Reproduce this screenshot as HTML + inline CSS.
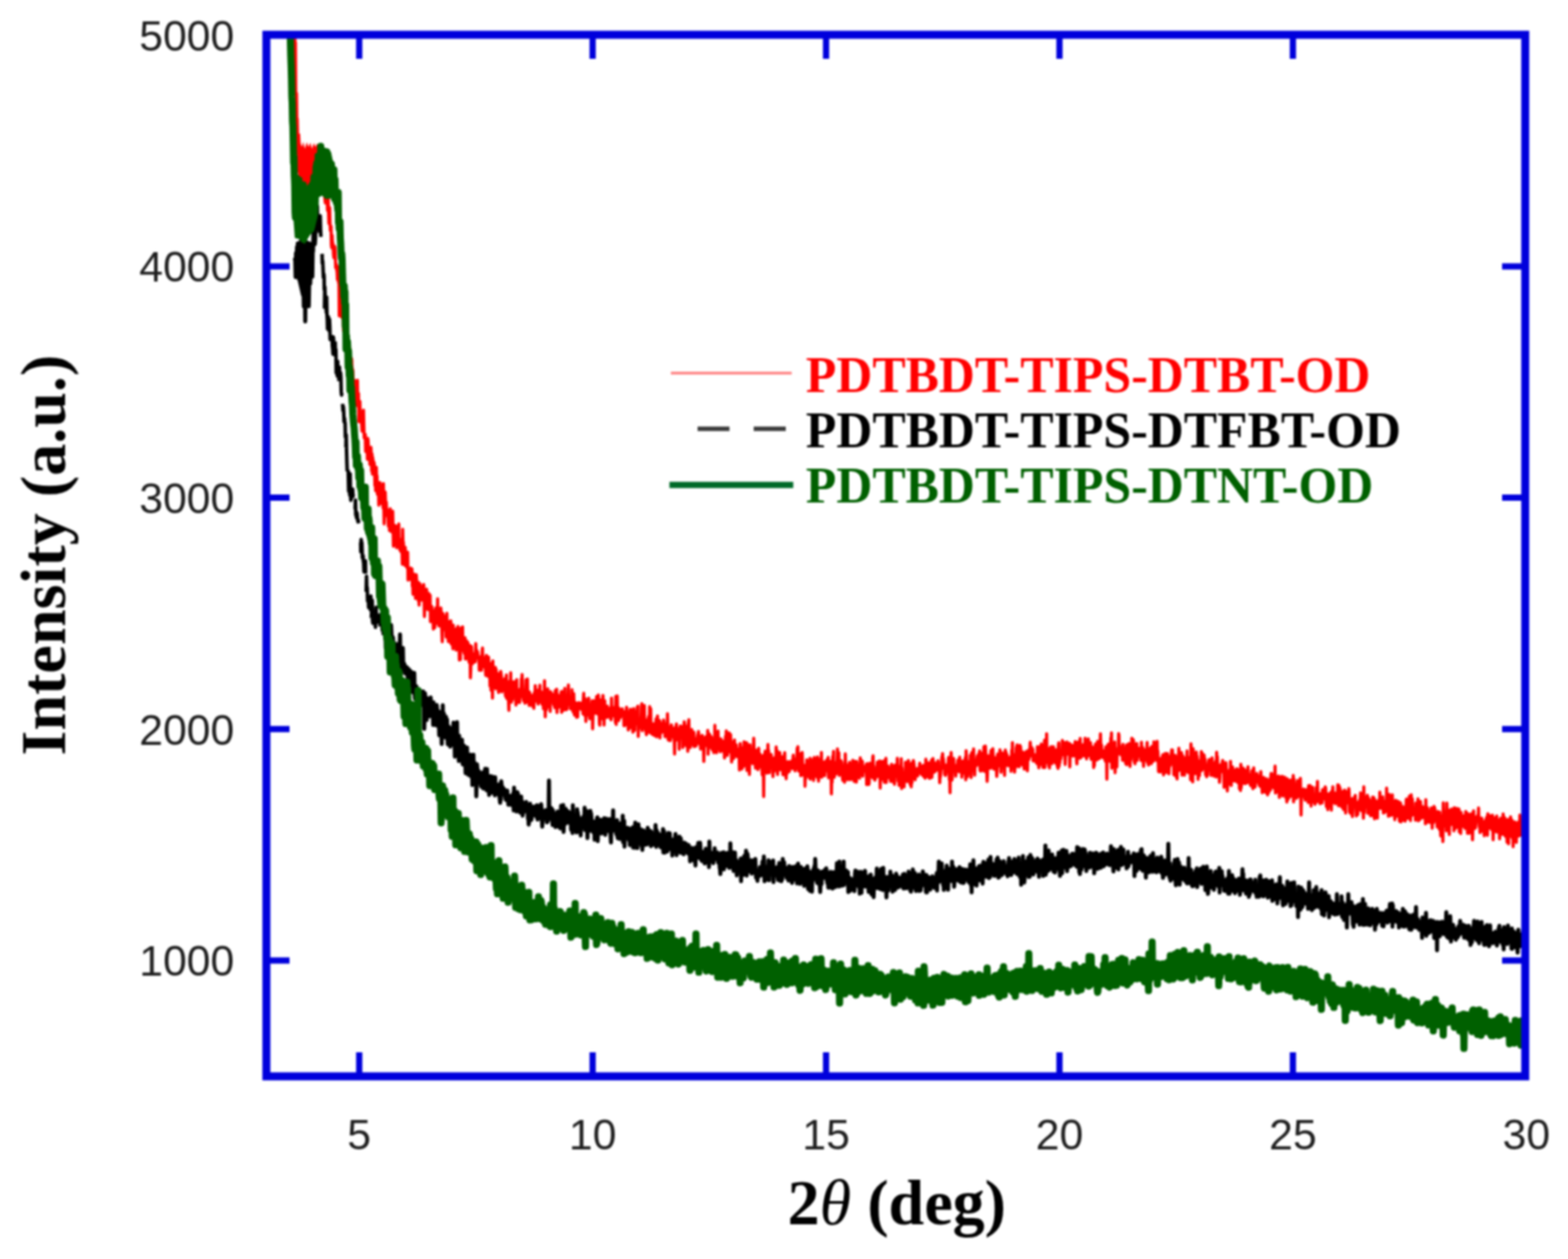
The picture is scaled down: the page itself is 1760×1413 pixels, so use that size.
<!DOCTYPE html>
<html><head><meta charset="utf-8"><title>XRD pattern</title>
<style>
html,body{margin:0;padding:0;background:#fff;width:1760px;height:1413px;overflow:hidden}
svg{display:block;filter:blur(0.8px)}
.tl{font-family:"Liberation Sans",Arial,sans-serif;font-size:48px;fill:#1e1e1e}
.ax{font-family:"Liberation Serif","Times New Roman",serif;font-size:72px;font-weight:bold;fill:#000}
.lg{font-family:"Liberation Serif","Times New Roman",serif;font-size:56px;font-weight:bold}
</style></head><body>
<svg width="1760" height="1413" viewBox="0 0 1760 1413">
<defs><clipPath id="c"><rect x="299" y="39" width="1413" height="1169"/></clipPath></defs>
<g clip-path="url(#c)"><g fill="none" stroke-linejoin="round" stroke-linecap="round">
<polygon points="332.4,150.0 336.9,150.0 337.4,159.9 338.8,165.9 340.3,158.9 342.3,166.9 344.3,159.4 346.3,164.9 348.3,159.9 350.2,166.9 352.2,160.4 354.2,164.9 355.7,160.9 358.7,165.9 354.7,179.7 352.7,205.5 345.8,219.4 339.8,219.4 334.9,197.6 332.9,169.8" fill="#ff0000" stroke="none"/>
<polyline points="328.0,-104.3 328.4,-75.3 328.8,-67.3 329.2,-42.5 329.6,-22.9 330.0,-9.0 330.4,3.8 330.8,36.6 331.2,51.8 331.6,47.5 332.0,107.0 332.4,109.6 332.8,104.7 333.2,137.1 333.6,133.2 334.0,149.9 334.4,170.1 334.8,152.7 335.2,178.5 335.6,191.5 336.0,193.3 336.4,176.3 336.8,193.0 337.2,164.7 337.6,184.0 338.0,192.8 338.4,172.6 338.8,188.8 339.2,211.4 339.6,222.9 340.0,201.3 340.4,202.4 340.8,181.4 341.2,178.8 341.6,176.8 342.0,200.6 342.4,203.5 342.8,186.8 343.2,180.3 343.6,198.4 344.0,199.2 344.4,194.1 344.8,211.1 345.2,194.8 345.6,195.2 346.0,182.7 346.4,197.6 346.8,211.9 347.2,196.1 347.6,195.8 348.0,199.6 348.4,197.2 348.8,199.7 349.2,199.1 349.6,199.5 350.0,182.0 350.4,194.7 350.8,171.4 351.2,193.5 351.6,174.9 352.0,189.1 352.4,195.7 352.8,185.0 353.2,191.2 353.6,170.3 354.0,179.7 354.4,198.3 354.8,176.1 355.2,197.8 355.6,173.3 356.0,179.1 356.4,177.2 356.8,190.1 357.2,195.9 357.6,179.0 358.0,189.1 358.4,208.0 358.8,189.8 359.2,186.5 359.6,199.0 360.0,195.1 360.4,192.8 360.8,185.9 361.2,208.1 361.6,199.3 362.0,205.0 362.4,199.1 362.8,217.5 363.2,215.4 363.6,218.9 364.0,213.1 364.4,219.3 364.8,224.5 365.2,227.7 365.6,224.6 366.0,224.0 366.4,224.0 366.8,223.3 367.2,223.8 367.6,236.1 368.0,233.7 368.4,222.6 368.8,239.1 369.2,251.0 369.6,243.0 370.0,233.0 370.4,249.1 370.8,258.8 371.2,256.6 371.6,254.1 372.0,275.0 372.4,277.9 372.8,264.1 373.2,273.9 373.6,272.9 374.0,278.5 374.4,286.6 374.8,289.3 375.2,280.2 375.6,276.5 376.0,277.8 376.4,287.3 376.8,300.5 377.2,296.2 377.6,297.5 378.0,303.1 378.4,305.1 378.8,313.8 379.2,303.2 379.6,299.6 380.0,317.4 380.4,314.7 380.8,354.5 381.2,330.1 381.6,332.2 382.0,323.6 382.4,342.7 382.8,337.3 383.2,355.6 383.6,355.7 384.0,343.7 384.4,356.9 384.8,331.1 385.2,351.9 385.6,371.5 386.0,369.7 386.4,366.5 386.8,366.9 387.2,356.7 387.6,359.4 388.0,375.9 388.4,391.9 388.8,358.8 389.2,386.2 389.6,388.2 390.0,393.5 390.4,379.4 390.8,384.7 391.2,392.0 391.6,384.5 392.0,384.9 392.4,390.1 392.8,399.5 393.2,405.5 393.6,404.0 394.0,407.0 394.4,402.2 394.8,404.0 395.2,422.6 395.6,414.1 396.0,415.9 396.4,427.2 396.8,432.1 397.2,434.5 397.6,428.9 398.0,427.0 398.4,432.3 398.8,433.5 399.2,446.6 399.6,438.9 400.0,444.3 400.4,440.5 400.8,455.3 401.2,426.8 401.6,450.8 402.0,456.4 402.4,441.4 402.8,473.3 403.2,454.7 403.6,456.8 404.0,450.6 404.4,470.4 404.8,466.6 405.2,461.4 405.6,470.9 406.0,477.1 406.4,483.9 406.8,477.0 407.2,468.4 407.6,474.0 408.0,460.3 408.4,476.4 408.8,491.5 409.2,491.0 409.6,487.7 410.0,487.5 410.4,506.7 410.8,496.9 411.2,504.4 411.6,501.6 412.0,493.8 412.4,515.5 412.8,492.1 413.2,494.1 413.6,502.6 414.0,501.4 414.4,504.5 414.8,505.6 415.2,521.2 415.6,514.2 416.0,518.3 416.4,502.1 416.8,510.1 417.2,528.7 417.6,509.4 418.0,532.1 418.4,513.4 418.8,526.6 419.2,517.5 419.6,528.1 420.0,519.4 420.4,526.4 420.8,545.0 421.2,527.8 421.6,550.8 422.0,529.6 422.4,524.4 422.8,537.0 423.2,534.0 423.6,554.8 424.0,548.2 424.4,552.5 424.8,548.9 425.2,566.9 425.6,553.3 426.0,552.4 426.4,541.6 426.8,542.3 427.2,553.6 427.6,562.4 428.0,564.9 428.4,547.8 428.8,562.5 429.2,562.2 429.6,550.4 430.0,570.1 430.4,542.7 430.8,566.7 431.2,587.9 431.6,557.7 432.0,568.2 432.4,552.2 432.8,563.7 433.2,578.4 433.6,563.4 434.0,573.6 434.4,571.9 434.8,572.8 435.2,579.0 435.6,582.8 436.0,590.6 436.4,588.1 436.8,576.6 437.2,595.5 437.6,595.1 438.0,570.9 438.4,592.0 438.8,594.5 439.2,596.8 439.6,594.1 440.0,578.6 440.4,589.0 440.8,573.8 441.2,592.1 441.6,612.9 442.0,601.8 442.4,604.3 442.8,593.3 443.2,589.8 443.6,590.4 444.0,602.2 444.4,595.0 444.8,597.5 445.2,614.7 445.6,590.7 446.0,594.7 446.4,603.0 446.8,607.7 447.2,608.5 447.6,588.1 448.0,613.5 448.4,610.7 448.8,617.1 449.2,605.2 449.6,618.1 450.0,619.0 450.4,612.0 450.8,617.0 451.2,615.0 451.6,633.2 452.0,593.9 452.4,610.0 452.8,608.6 453.2,621.6 453.6,619.9 454.0,623.3 454.4,634.4 454.8,614.2 455.2,622.3 455.6,628.9 456.0,621.1 456.4,636.2 456.8,636.8 457.2,628.4 457.6,619.8 458.0,651.1 458.4,641.9 458.8,642.4 459.2,640.2 459.6,640.4 460.0,648.9 460.4,642.2 460.8,637.5 461.2,650.5 461.6,645.5 462.0,638.9 462.4,638.5 462.8,658.0 463.2,654.1 463.6,667.0 464.0,645.3 464.4,644.1 464.8,655.2 465.2,664.8 465.6,658.5 466.0,657.8 466.4,671.7 466.8,648.7 467.2,645.0 467.6,650.2 468.0,654.8 468.4,661.8 468.8,668.3 469.2,663.5 469.6,674.3 470.0,653.8 470.4,679.1 470.8,655.4 471.2,673.9 471.6,655.6 472.0,667.9 472.4,665.9 472.8,670.8 473.2,673.5 473.6,665.5 474.0,667.5 474.4,670.9 474.8,657.7 475.2,663.5 475.6,656.1 476.0,671.4 476.4,692.0 476.8,679.3 477.2,665.4 477.6,667.5 478.0,683.3 478.4,670.8 478.8,661.2 479.2,667.1 479.6,667.4 480.0,668.3 480.4,684.2 480.8,679.3 481.2,665.9 481.6,675.0 482.0,670.2 482.4,670.1 482.8,668.0 483.2,697.8 483.6,679.9 484.0,688.4 484.4,691.6 484.8,680.8 485.2,689.6 485.6,690.2 486.0,687.9 486.4,705.9 486.8,689.5 487.2,685.4 487.6,693.8 488.0,704.5 488.4,697.9 488.8,685.2 489.2,682.3 489.6,682.1 490.0,685.0 490.4,695.0 490.8,699.6 491.2,672.1 491.6,692.8 492.0,683.5 492.4,700.1 492.8,702.6 493.2,687.9 493.6,691.3 494.0,687.3 494.4,699.8 494.8,682.3 495.2,687.1 495.6,691.6 496.0,709.2 496.4,720.3 496.8,699.3 497.2,688.5 497.6,700.7 498.0,692.7 498.4,705.1 498.8,691.4 499.2,698.5 499.6,702.2 500.0,707.4 500.4,702.5 500.8,715.0 501.2,705.2 501.6,688.2 502.0,713.3 502.4,702.8 502.8,699.8 503.2,719.9 503.6,697.8 504.0,707.8 504.4,701.2 504.8,720.2 505.2,705.2 505.6,711.0 506.0,696.8 506.4,722.7 506.8,700.6 507.2,718.8 507.6,721.1 508.0,722.6 508.4,728.2 508.8,701.8 509.2,716.4 509.6,714.4 510.0,717.4 510.4,723.9 510.8,715.4 511.2,707.5 511.6,714.4 512.0,729.6 512.4,705.5 512.8,717.3 513.2,708.1 513.6,727.4 514.0,703.0 514.4,715.2 514.8,717.5 515.2,720.1 515.6,740.7 516.0,733.9 516.4,711.1 516.8,740.2 517.2,710.4 517.6,704.7 518.0,708.5 518.4,724.3 518.8,727.7 519.2,703.4 519.6,727.6 520.0,721.7 520.4,730.9 520.8,721.5 521.2,733.4 521.6,730.8 522.0,715.7 522.4,739.6 522.8,728.9 523.2,734.0 523.6,739.2 524.0,719.6 524.4,728.0 524.8,721.8 525.2,721.2 525.6,732.3 526.0,733.4 526.4,742.6 526.8,743.5 527.2,731.5 527.6,724.6 528.0,760.8 528.4,751.9 528.8,732.4 529.2,725.5 529.6,730.4 530.0,737.0 530.4,744.9 530.8,743.9 531.2,739.6 531.6,734.0 532.0,738.1 532.4,734.3 532.8,738.0 533.2,736.9 533.6,742.8 534.0,722.2 534.4,736.0 534.8,736.9 535.2,730.0 535.6,738.7 536.0,731.5 536.4,735.2 536.8,738.9 537.2,739.6 537.6,737.2 538.0,752.2 538.4,744.7 538.8,746.2 539.2,745.8 539.6,738.4 540.0,736.9 540.4,752.2 540.8,742.3 541.2,730.5 541.6,727.2 542.0,748.4 542.4,740.5 542.8,746.7 543.2,742.9 543.6,744.5 544.0,746.9 544.4,738.1 544.8,748.9 545.2,757.9 545.6,755.8 546.0,735.4 546.4,739.2 546.8,739.6 547.2,749.2 547.6,758.9 548.0,754.7 548.4,737.5 548.8,753.2 549.2,759.9 549.6,746.6 550.0,769.9 550.4,748.7 550.8,764.4 551.2,774.7 551.6,744.6 552.0,753.0 552.4,760.9 552.8,783.4 553.2,741.8 553.6,762.0 554.0,761.9 554.4,754.5 554.8,751.4 555.2,754.4 555.6,756.6 556.0,749.0 556.4,773.0 556.8,751.1 557.2,757.1 557.6,755.6 558.0,758.0 558.4,762.6 558.8,756.0 559.2,760.7 559.6,777.2 560.0,772.1 560.4,761.4 560.8,771.6 561.2,758.2 561.6,766.8 562.0,753.5 562.4,756.3 562.8,758.9 563.2,776.5 563.6,768.6 564.0,771.6 564.4,768.7 564.8,770.8 565.2,771.6 565.6,774.7 566.0,770.2 566.4,761.8 566.8,763.1 567.2,779.7 567.6,781.6 568.0,775.1 568.4,757.5 568.8,783.9 569.2,774.1 569.6,771.2 570.0,772.2 570.4,769.4 570.8,786.8 571.2,797.3 571.6,764.7 572.0,772.0 572.4,776.2 572.8,784.3 573.2,754.9 573.6,782.0 574.0,788.1 574.4,772.4 574.8,774.9 575.2,785.4 575.6,778.6 576.0,765.2 576.4,766.7 576.8,768.0 577.2,765.2 577.6,776.5 578.0,772.6 578.4,777.2 578.8,782.7 579.2,791.3 579.6,779.1 580.0,762.8 580.4,788.6 580.8,776.8 581.2,787.0 581.6,774.4 582.0,780.5 582.4,777.1 582.8,778.1 583.2,788.4 583.6,773.4 584.0,779.9 584.4,780.4 584.8,775.8 585.2,761.8 585.6,781.7 586.0,757.0 586.4,767.5 586.8,775.7 587.2,782.7 587.6,786.2 588.0,786.0 588.4,784.3 588.8,776.9 589.2,789.2 589.6,777.9 590.0,788.6 590.4,762.9 590.8,772.8 591.2,775.8 591.6,780.3 592.0,762.1 592.4,786.7 592.8,788.1 593.2,786.6 593.6,776.7 594.0,791.8 594.4,776.7 594.8,787.8 595.2,780.5 595.6,780.9 596.0,779.9 596.4,781.0 596.8,789.7 597.2,792.2 597.6,792.2 598.0,788.3 598.4,786.5 598.8,785.0 599.2,794.9 599.6,778.4 600.0,777.0 600.4,782.2 600.8,769.4 601.2,780.2 601.6,781.6 602.0,774.4 602.4,777.8 602.8,787.4 603.2,780.5 603.6,782.9 604.0,790.2 604.4,777.8 604.8,773.9 605.2,782.3 605.6,785.8 606.0,769.1 606.4,787.7 606.8,780.5 607.2,779.8 607.6,776.5 608.0,781.7 608.4,790.4 608.8,787.2 609.2,789.3 609.6,780.6 610.0,795.4 610.4,793.0 610.8,783.4 611.2,763.9 611.6,784.1 612.0,804.4 612.4,783.4 612.8,776.2 613.2,796.7 613.6,779.3 614.0,787.7 614.4,789.8 614.8,773.1 615.2,785.1 615.6,793.2 616.0,781.8 616.4,789.3 616.8,784.2 617.2,792.2 617.6,798.4 618.0,776.3 618.4,782.5 618.8,787.7 619.2,780.0 619.6,778.6 620.0,782.3 620.4,782.9 620.8,780.0 621.2,787.5 621.6,791.1 622.0,790.7 622.4,790.3 622.8,794.2 623.2,775.1 623.6,784.5 624.0,786.8 624.4,789.4 624.8,773.4 625.2,799.7 625.6,779.0 626.0,787.7 626.4,791.3 626.8,794.0 627.2,780.7 627.6,781.9 628.0,788.8 628.4,790.5 628.8,793.0 629.2,785.8 629.6,781.0 630.0,776.3 630.4,799.5 630.8,776.1 631.2,791.8 631.6,788.7 632.0,792.4 632.4,793.9 632.8,796.9 633.2,786.4 633.6,789.9 634.0,772.4 634.4,787.4 634.8,780.4 635.2,786.1 635.6,796.6 636.0,788.2 636.4,795.7 636.8,786.1 637.2,790.7 637.6,784.7 638.0,768.8 638.4,782.6 638.8,786.1 639.2,790.3 639.6,788.3 640.0,787.4 640.4,795.6 640.8,793.3 641.2,785.7 641.6,795.3 642.0,774.0 642.4,786.9 642.8,788.0 643.2,799.0 643.6,785.3 644.0,778.4 644.4,790.9 644.8,802.4 645.2,788.2 645.6,789.1 646.0,788.5 646.4,790.5 646.8,800.0 647.2,805.1 647.6,794.0 648.0,789.8 648.4,804.6 648.8,791.6 649.2,791.4 649.6,788.4 650.0,788.8 650.4,793.1 650.8,789.2 651.2,794.6 651.6,792.3 652.0,795.9 652.4,789.0 652.8,790.5 653.2,793.9 653.6,792.7 654.0,793.0 654.4,801.2 654.8,784.5 655.2,778.0 655.6,798.1 656.0,791.0 656.4,803.0 656.8,792.4 657.2,784.3 657.6,809.7 658.0,796.3 658.4,790.0 658.8,787.9 659.2,797.8 659.6,788.6 660.0,796.7 660.4,802.6 660.8,783.5 661.2,791.4 661.6,797.7 662.0,806.7 662.4,801.3 662.8,791.0 663.2,805.4 663.6,791.8 664.0,793.4 664.4,797.5 664.8,786.5 665.2,817.9 665.6,803.9 666.0,796.6 666.4,790.8 666.8,786.4 667.2,798.0 667.6,800.5 668.0,792.3 668.4,793.9 668.8,799.6 669.2,795.1 669.6,781.7 670.0,800.7 670.4,797.6 670.8,801.3 671.2,790.2 671.6,780.0 672.0,786.6 672.4,798.3 672.8,811.7 673.2,813.9 673.6,798.5 674.0,785.4 674.4,793.9 674.8,799.8 675.2,799.8 675.6,797.3 676.0,806.7 676.4,790.0 676.8,780.6 677.2,790.3 677.6,788.2 678.0,813.8 678.4,795.7 678.8,786.5 679.2,801.9 679.6,804.9 680.0,797.8 680.4,798.9 680.8,805.2 681.2,801.5 681.6,792.5 682.0,802.2 682.4,804.8 682.8,800.5 683.2,804.6 683.6,802.5 684.0,796.4 684.4,797.2 684.8,803.0 685.2,794.3 685.6,807.2 686.0,807.8 686.4,783.5 686.8,798.3 687.2,793.3 687.6,794.3 688.0,800.2 688.4,798.0 688.8,803.6 689.2,801.9 689.6,802.4 690.0,793.8 690.4,797.2 690.8,810.9 691.2,781.5 691.6,813.1 692.0,796.1 692.4,809.3 692.8,781.1 693.2,797.5 693.6,807.2 694.0,802.1 694.4,808.7 694.8,794.7 695.2,797.2 695.6,796.6 696.0,805.5 696.4,805.3 696.8,800.3 697.2,800.1 697.6,800.0 698.0,803.0 698.4,795.4 698.8,802.3 699.2,801.8 699.6,798.9 700.0,798.9 700.4,814.4 700.8,798.8 701.2,806.7 701.6,814.0 702.0,809.5 702.4,804.2 702.8,811.8 703.2,793.7 703.6,795.3 704.0,801.7 704.4,803.2 704.8,803.7 705.2,819.3 705.6,818.0 706.0,805.2 706.4,807.5 706.8,799.0 707.2,808.3 707.6,796.0 708.0,816.7 708.4,802.5 708.8,810.7 709.2,796.9 709.6,817.3 710.0,811.6 710.4,821.8 710.8,807.8 711.2,795.3 711.6,801.7 712.0,798.3 712.4,819.7 712.8,803.3 713.2,802.5 713.6,812.7 714.0,810.4 714.4,812.2 714.8,804.9 715.2,793.8 715.6,798.7 716.0,792.6 716.4,826.4 716.8,816.1 717.2,806.6 717.6,814.2 718.0,814.7 718.4,814.6 718.8,813.9 719.2,816.7 719.6,810.8 720.0,793.7 720.4,789.7 720.8,820.1 721.2,815.2 721.6,792.0 722.0,812.3 722.4,804.5 722.8,807.1 723.2,791.8 723.6,817.2 724.0,810.9 724.4,817.8 724.8,820.0 725.2,821.6 725.6,824.4 726.0,816.1 726.4,813.9 726.8,807.6 727.2,816.5 727.6,810.9 728.0,804.0 728.4,821.9 728.8,818.4 729.2,793.0 729.6,799.3 730.0,811.8 730.4,795.4 730.8,822.9 731.2,815.2 731.6,818.2 732.0,821.1 732.4,824.3 732.8,812.2 733.2,819.1 733.6,816.5 734.0,820.7 734.4,819.0 734.8,825.7 735.2,819.1 735.6,811.5 736.0,816.2 736.4,806.8 736.8,817.9 737.2,827.0 737.6,811.2 738.0,803.4 738.4,815.3 738.8,812.2 739.2,816.2 739.6,811.8 740.0,817.0 740.4,808.8 740.8,828.3 741.2,815.0 741.6,820.7 742.0,822.7 742.4,815.9 742.8,820.6 743.2,815.4 743.6,811.4 744.0,815.7 744.4,821.2 744.8,808.1 745.2,810.9 745.6,811.8 746.0,813.7 746.4,826.8 746.8,817.9 747.2,815.9 747.6,819.4 748.0,826.4 748.4,812.8 748.8,826.3 749.2,801.1 749.6,812.1 750.0,830.0 750.4,830.7 750.8,820.5 751.2,816.0 751.6,825.5 752.0,816.3 752.4,831.2 752.8,828.5 753.2,825.5 753.6,813.4 754.0,827.2 754.4,818.1 754.8,818.3 755.2,817.0 755.6,819.4 756.0,824.1 756.4,826.9 756.8,827.0 757.2,846.3 757.6,818.2 758.0,829.6 758.4,816.0 758.8,819.6 759.2,812.5 759.6,830.4 760.0,823.4 760.4,822.5 760.8,820.7 761.2,828.7 761.6,818.1 762.0,825.0 762.4,841.0 762.8,821.1 763.2,817.6 763.6,814.8 764.0,828.6 764.4,823.1 764.8,817.0 765.2,816.5 765.6,823.2 766.0,815.5 766.4,839.0 766.8,821.8 767.2,822.0 767.6,822.8 768.0,810.0 768.4,812.8 768.8,821.1 769.2,823.8 769.6,814.8 770.0,837.0 770.4,827.8 770.8,834.2 771.2,833.4 771.6,823.1 772.0,843.2 772.4,825.9 772.8,810.9 773.2,807.7 773.6,825.5 774.0,832.2 774.4,826.3 774.8,838.9 775.2,823.8 775.6,830.4 776.0,831.9 776.4,818.7 776.8,828.9 777.2,829.5 777.6,835.2 778.0,836.2 778.4,834.6 778.8,821.7 779.2,838.0 779.6,835.8 780.0,828.8 780.4,833.6 780.8,833.9 781.2,837.2 781.6,829.0 782.0,832.2 782.4,830.2 782.8,829.4 783.2,824.4 783.6,826.7 784.0,820.9 784.4,828.0 784.8,834.8 785.2,834.5 785.6,835.6 786.0,829.3 786.4,840.7 786.8,827.0 787.2,836.3 787.6,833.8 788.0,825.3 788.4,825.7 788.8,836.8 789.2,831.6 789.6,833.5 790.0,854.6 790.4,836.0 790.8,832.8 791.2,837.5 791.6,827.7 792.0,831.0 792.4,835.8 792.8,826.4 793.2,832.5 793.6,831.4 794.0,833.8 794.4,819.8 794.8,846.5 795.2,832.7 795.6,837.6 796.0,825.8 796.4,823.9 796.8,834.0 797.2,831.5 797.6,838.9 798.0,827.2 798.4,826.9 798.8,836.8 799.2,839.7 799.6,841.5 800.0,834.4 800.4,836.7 800.8,828.9 801.2,844.8 801.6,843.6 802.0,843.4 802.4,814.0 802.8,841.9 803.2,829.9 803.6,839.2 804.0,838.8 804.4,844.8 804.8,834.3 805.2,833.3 805.6,828.4 806.0,820.5 806.4,840.5 806.8,829.4 807.2,841.3 807.6,833.5 808.0,829.2 808.4,843.7 808.8,843.1 809.2,829.3 809.6,835.5 810.0,836.8 810.4,841.9 810.8,831.5 811.2,834.0 811.6,836.4 812.0,842.5 812.4,844.1 812.8,833.4 813.2,850.7 813.6,840.8 814.0,831.8 814.4,826.2 814.8,834.2 815.2,820.2 815.6,839.5 816.0,842.4 816.4,847.8 816.8,842.2 817.2,825.7 817.6,836.5 818.0,844.0 818.4,822.6 818.8,832.8 819.2,843.7 819.6,839.6 820.0,824.2 820.4,835.6 820.8,839.7 821.2,855.2 821.6,836.5 822.0,833.1 822.4,841.8 822.8,842.6 823.2,844.5 823.6,851.2 824.0,840.0 824.4,830.4 824.8,841.1 825.2,841.1 825.6,848.3 826.0,847.5 826.4,835.9 826.8,847.3 827.2,849.2 827.6,840.4 828.0,849.1 828.4,843.4 828.8,843.6 829.2,841.3 829.6,848.6 830.0,864.3 830.4,844.6 830.8,834.4 831.2,841.5 831.6,839.1 832.0,846.0 832.4,842.7 832.8,862.9 833.2,849.7 833.6,858.2 834.0,839.1 834.4,843.0 834.8,860.1 835.2,832.4 835.6,846.1 836.0,833.6 836.4,856.9 836.8,835.0 837.2,843.5 837.6,844.6 838.0,833.4 838.4,864.7 838.8,845.1 839.2,858.9 839.6,841.5 840.0,835.9 840.4,848.7 840.8,848.6 841.2,869.3 841.6,839.6 842.0,836.0 842.4,842.6 842.8,850.3 843.2,852.4 843.6,842.8 844.0,845.9 844.4,852.8 844.8,857.0 845.2,844.5 845.6,850.1 846.0,828.5 846.4,842.1 846.8,852.8 847.2,849.8 847.6,848.5 848.0,862.1 848.4,848.0 848.8,842.1 849.2,852.0 849.6,852.1 850.0,842.1 850.4,858.4 850.8,863.8 851.2,846.8 851.6,839.8 852.0,850.9 852.4,861.0 852.8,847.6 853.2,846.5 853.6,847.7 854.0,854.0 854.4,854.0 854.8,851.3 855.2,861.7 855.6,869.7 856.0,848.6 856.4,860.9 856.8,855.3 857.2,894.1 857.6,846.9 858.0,851.0 858.4,854.5 858.8,843.1 859.2,852.3 859.6,859.4 860.0,843.3 860.4,855.2 860.8,867.7 861.2,849.9 861.6,847.7 862.0,835.5 862.4,853.8 862.8,842.5 863.2,858.9 863.6,867.2 864.0,859.1 864.4,849.0 864.8,859.9 865.2,851.6 865.6,846.7 866.0,851.5 866.4,857.1 866.8,852.6 867.2,859.4 867.6,871.6 868.0,860.1 868.4,861.3 868.8,850.7 869.2,865.7 869.6,858.4 870.0,863.4 870.4,850.0 870.8,857.7 871.2,838.3 871.6,853.3 872.0,849.7 872.4,842.7 872.8,869.2 873.2,844.7 873.6,855.1 874.0,855.2 874.4,860.3 874.8,864.0 875.2,844.4 875.6,852.4 876.0,851.3 876.4,861.8 876.8,863.7 877.2,853.6 877.6,852.6 878.0,849.2 878.4,859.6 878.8,869.4 879.2,859.7 879.6,851.7 880.0,850.7 880.4,851.7 880.8,844.7 881.2,870.1 881.6,857.7 882.0,854.7 882.4,874.0 882.8,859.0 883.2,868.5 883.6,859.5 884.0,865.7 884.4,858.1 884.8,854.8 885.2,860.7 885.6,863.1 886.0,865.9 886.4,859.3 886.8,856.0 887.2,855.1 887.6,860.3 888.0,854.4 888.4,855.6 888.8,862.2 889.2,862.6 889.6,862.1 890.0,852.7 890.4,847.6 890.8,860.5 891.2,859.4 891.6,855.8 892.0,860.2 892.4,865.1 892.8,857.3 893.2,861.9 893.6,851.6 894.0,857.4 894.4,852.9 894.8,839.7 895.2,862.5 895.6,838.0 896.0,858.9 896.4,865.3 896.8,862.5 897.2,847.9 897.6,861.4 898.0,846.0 898.4,853.1 898.8,870.6 899.2,861.1 899.6,868.8 900.0,851.8 900.4,844.5 900.8,854.5 901.2,869.8 901.6,867.2 902.0,868.4 902.4,859.3 902.8,859.8 903.2,859.0 903.6,882.4 904.0,861.4 904.4,874.0 904.8,859.5 905.2,871.2 905.6,852.8 906.0,857.2 906.4,863.8 906.8,856.9 907.2,858.1 907.6,860.1 908.0,857.3 908.4,873.0 908.8,869.9 909.2,851.0 909.6,874.4 910.0,861.3 910.4,861.4 910.8,860.4 911.2,868.3 911.6,867.1 912.0,854.8 912.4,862.2 912.8,852.1 913.2,875.9 913.6,855.6 914.0,850.1 914.4,856.6 914.8,863.1 915.2,867.7 915.6,857.5 916.0,862.3 916.4,859.6 916.8,871.9 917.2,863.9 917.6,849.5 918.0,873.4 918.4,864.8 918.8,876.8 919.2,857.8 919.6,858.7 920.0,861.1 920.4,851.9 920.8,859.7 921.2,871.9 921.6,867.8 922.0,844.4 922.4,872.2 922.8,865.3 923.2,868.7 923.6,862.9 924.0,864.0 924.4,863.1 924.8,863.0 925.2,854.9 925.6,870.5 926.0,865.8 926.4,865.6 926.8,865.3 927.2,860.4 927.6,862.3 928.0,852.7 928.4,864.8 928.8,864.9 929.2,861.0 929.6,849.9 930.0,872.9 930.4,861.6 930.8,862.7 931.2,860.5 931.6,858.4 932.0,859.9 932.4,854.6 932.8,858.6 933.2,891.1 933.6,871.8 934.0,878.0 934.4,858.4 934.8,848.8 935.2,852.8 935.6,843.3 936.0,871.2 936.4,872.3 936.8,863.9 937.2,866.0 937.6,865.9 938.0,862.3 938.4,868.7 938.8,855.6 939.2,859.9 939.6,862.1 940.0,840.5 940.4,855.7 940.8,866.6 941.2,865.9 941.6,844.8 942.0,870.2 942.4,866.0 942.8,869.2 943.2,862.9 943.6,867.8 944.0,853.7 944.4,861.9 944.8,855.5 945.2,859.6 945.6,872.3 946.0,875.8 946.4,863.8 946.8,860.3 947.2,869.5 947.6,867.1 948.0,878.0 948.4,872.4 948.8,846.1 949.2,864.2 949.6,861.3 950.0,857.7 950.4,865.8 950.8,864.2 951.2,861.2 951.6,875.1 952.0,866.7 952.4,869.6 952.8,865.1 953.2,873.1 953.6,855.6 954.0,873.0 954.4,862.2 954.8,875.1 955.2,874.7 955.6,867.8 956.0,860.7 956.4,866.2 956.8,866.8 957.2,853.2 957.6,861.7 958.0,858.9 958.4,874.5 958.8,877.0 959.2,858.8 959.6,860.3 960.0,854.4 960.4,866.3 960.8,870.4 961.2,877.8 961.6,854.8 962.0,871.4 962.4,863.3 962.8,859.1 963.2,861.9 963.6,858.8 964.0,867.9 964.4,864.5 964.8,873.4 965.2,860.6 965.6,850.6 966.0,857.2 966.4,867.2 966.8,853.6 967.2,859.1 967.6,868.7 968.0,854.5 968.4,871.1 968.8,867.3 969.2,860.5 969.6,864.5 970.0,861.2 970.4,862.0 970.8,862.5 971.2,865.2 971.6,864.4 972.0,859.5 972.4,857.8 972.8,880.6 973.2,857.0 973.6,864.1 974.0,874.3 974.4,872.8 974.8,860.0 975.2,880.4 975.6,878.7 976.0,861.5 976.4,856.4 976.8,870.4 977.2,864.3 977.6,862.0 978.0,859.8 978.4,861.4 978.8,867.1 979.2,872.7 979.6,850.5 980.0,848.3 980.4,873.3 980.8,859.8 981.2,871.4 981.6,867.0 982.0,875.6 982.4,873.1 982.8,864.3 983.2,865.2 983.6,870.9 984.0,872.1 984.4,861.9 984.8,855.3 985.2,867.4 985.6,866.4 986.0,865.6 986.4,859.3 986.8,871.3 987.2,853.9 987.6,863.3 988.0,884.5 988.4,858.6 988.8,870.1 989.2,870.4 989.6,872.9 990.0,854.5 990.4,874.6 990.8,868.2 991.2,870.8 991.6,869.4 992.0,867.6 992.4,876.3 992.8,878.0 993.2,853.3 993.6,861.4 994.0,866.0 994.4,851.0 994.8,878.2 995.2,861.4 995.6,871.4 996.0,868.9 996.4,865.6 996.8,859.7 997.2,864.5 997.6,867.9 998.0,873.1 998.4,865.7 998.8,864.3 999.2,865.4 999.6,877.0 1000.0,869.4 1000.4,862.2 1000.8,857.8 1001.2,864.2 1001.6,860.4 1002.0,861.8 1002.4,877.4 1002.8,872.4 1003.2,869.0 1003.6,870.3 1004.0,880.2 1004.4,858.8 1004.8,870.6 1005.2,865.7 1005.6,868.3 1006.0,867.8 1006.4,864.9 1006.8,871.3 1007.2,851.1 1007.6,869.4 1008.0,876.6 1008.4,860.1 1008.8,860.0 1009.2,881.5 1009.6,860.6 1010.0,864.4 1010.4,861.5 1010.8,862.7 1011.2,862.3 1011.6,851.5 1012.0,885.0 1012.4,861.8 1012.8,870.1 1013.2,866.7 1013.6,877.3 1014.0,872.4 1014.4,875.7 1014.8,883.1 1015.2,873.5 1015.6,867.5 1016.0,874.0 1016.4,855.4 1016.8,873.9 1017.2,872.5 1017.6,869.5 1018.0,857.3 1018.4,877.2 1018.8,862.2 1019.2,871.9 1019.6,853.4 1020.0,865.9 1020.4,862.4 1020.8,861.4 1021.2,862.3 1021.6,880.5 1022.0,867.0 1022.4,869.7 1022.8,883.1 1023.2,856.5 1023.6,878.6 1024.0,864.4 1024.4,862.5 1024.8,864.1 1025.2,853.6 1025.6,855.7 1026.0,858.6 1026.4,862.9 1026.8,872.3 1027.2,875.1 1027.6,864.2 1028.0,869.7 1028.4,870.1 1028.8,865.2 1029.2,868.5 1029.6,862.4 1030.0,870.9 1030.4,865.0 1030.8,867.0 1031.2,868.5 1031.6,867.7 1032.0,861.2 1032.4,856.5 1032.8,866.0 1033.2,862.2 1033.6,862.4 1034.0,865.6 1034.4,861.0 1034.8,869.6 1035.2,869.2 1035.6,859.5 1036.0,868.9 1036.4,858.9 1036.8,871.4 1037.2,870.6 1037.6,865.8 1038.0,872.5 1038.4,873.4 1038.8,869.1 1039.2,852.0 1039.6,866.6 1040.0,867.1 1040.4,871.6 1040.8,858.1 1041.2,870.7 1041.6,868.0 1042.0,868.4 1042.4,856.0 1042.8,858.8 1043.2,873.6 1043.6,871.3 1044.0,864.4 1044.4,873.1 1044.8,866.9 1045.2,861.8 1045.6,853.1 1046.0,872.4 1046.4,863.7 1046.8,866.5 1047.2,851.3 1047.6,860.6 1048.0,866.8 1048.4,862.7 1048.8,859.0 1049.2,856.1 1049.6,865.9 1050.0,859.4 1050.4,861.7 1050.8,862.0 1051.2,859.3 1051.6,861.6 1052.0,859.4 1052.4,864.2 1052.8,853.7 1053.2,855.7 1053.6,864.0 1054.0,862.5 1054.4,864.8 1054.8,878.5 1055.2,869.1 1055.6,871.9 1056.0,866.5 1056.4,862.5 1056.8,857.4 1057.2,849.4 1057.6,852.7 1058.0,845.7 1058.4,854.7 1058.8,851.2 1059.2,855.7 1059.6,862.7 1060.0,859.8 1060.4,869.3 1060.8,869.4 1061.2,870.2 1061.6,868.9 1062.0,864.5 1062.4,858.6 1062.8,865.7 1063.2,860.5 1063.6,860.8 1064.0,865.2 1064.4,854.0 1064.8,850.0 1065.2,864.4 1065.6,875.1 1066.0,870.2 1066.4,889.7 1066.8,851.3 1067.2,856.9 1067.6,844.5 1068.0,855.2 1068.4,875.6 1068.8,873.4 1069.2,853.8 1069.6,858.9 1070.0,855.1 1070.4,851.2 1070.8,859.3 1071.2,858.6 1071.6,861.7 1072.0,862.9 1072.4,866.1 1072.8,871.0 1073.2,860.2 1073.6,859.1 1074.0,860.7 1074.4,863.9 1074.8,859.5 1075.2,853.1 1075.6,856.5 1076.0,865.8 1076.4,852.6 1076.8,866.3 1077.2,849.8 1077.6,864.6 1078.0,864.4 1078.4,858.4 1078.8,859.7 1079.2,858.1 1079.6,872.3 1080.0,856.5 1080.4,854.3 1080.8,862.4 1081.2,867.8 1081.6,862.0 1082.0,858.3 1082.4,867.0 1082.8,853.7 1083.2,853.4 1083.6,850.0 1084.0,875.3 1084.4,842.6 1084.8,849.4 1085.2,860.7 1085.6,861.9 1086.0,871.7 1086.4,861.9 1086.8,855.0 1087.2,868.9 1087.6,866.4 1088.0,867.1 1088.4,866.3 1088.8,862.1 1089.2,847.5 1089.6,850.4 1090.0,872.8 1090.4,858.4 1090.8,844.4 1091.2,858.4 1091.6,865.0 1092.0,860.8 1092.4,857.9 1092.8,840.5 1093.2,858.1 1093.6,856.6 1094.0,870.0 1094.4,857.5 1094.8,857.0 1095.2,854.1 1095.6,856.4 1096.0,859.3 1096.4,853.4 1096.8,850.6 1097.2,847.9 1097.6,857.9 1098.0,854.3 1098.4,854.5 1098.8,845.6 1099.2,850.8 1099.6,842.7 1100.0,863.7 1100.4,865.4 1100.8,859.6 1101.2,855.7 1101.6,859.9 1102.0,845.4 1102.4,846.5 1102.8,865.0 1103.2,848.6 1103.6,855.8 1104.0,851.2 1104.4,838.0 1104.8,851.1 1105.2,862.1 1105.6,865.7 1106.0,837.2 1106.4,844.3 1106.8,851.6 1107.2,863.2 1107.6,864.8 1108.0,876.9 1108.4,868.2 1108.8,852.5 1109.2,848.3 1109.6,862.4 1110.0,853.7 1110.4,855.7 1110.8,852.8 1111.2,852.5 1111.6,862.2 1112.0,847.9 1112.4,842.3 1112.8,850.1 1113.2,856.0 1113.6,852.9 1114.0,854.1 1114.4,840.3 1114.8,848.5 1115.2,863.0 1115.6,853.7 1116.0,849.9 1116.4,863.2 1116.8,850.6 1117.2,860.4 1117.6,856.3 1118.0,857.7 1118.4,862.3 1118.8,871.3 1119.2,864.0 1119.6,848.2 1120.0,846.2 1120.4,852.0 1120.8,853.1 1121.2,859.5 1121.6,854.5 1122.0,855.7 1122.4,841.5 1122.8,853.2 1123.2,858.0 1123.6,866.7 1124.0,859.9 1124.4,854.7 1124.8,845.1 1125.2,853.8 1125.6,853.9 1126.0,852.7 1126.4,854.9 1126.8,857.5 1127.2,857.0 1127.6,870.2 1128.0,846.3 1128.4,841.8 1128.8,856.4 1129.2,844.2 1129.6,851.8 1130.0,852.7 1130.4,847.2 1130.8,859.1 1131.2,857.9 1131.6,854.1 1132.0,857.6 1132.4,859.5 1132.8,850.6 1133.2,857.3 1133.6,853.9 1134.0,852.7 1134.4,849.2 1134.8,865.7 1135.2,855.0 1135.6,841.9 1136.0,856.2 1136.4,833.4 1136.8,854.4 1137.2,858.0 1137.6,862.9 1138.0,853.8 1138.4,846.9 1138.8,866.6 1139.2,859.8 1139.6,861.6 1140.0,850.0 1140.4,856.6 1140.8,838.7 1141.2,855.3 1141.6,836.0 1142.0,844.0 1142.4,840.6 1142.8,860.1 1143.2,858.3 1143.6,847.0 1144.0,860.6 1144.4,851.9 1144.8,836.4 1145.2,848.3 1145.6,838.2 1146.0,851.6 1146.4,853.7 1146.8,845.4 1147.2,856.9 1147.6,858.7 1148.0,844.1 1148.4,855.0 1148.8,849.9 1149.2,848.5 1149.6,863.1 1150.0,845.2 1150.4,847.8 1150.8,849.9 1151.2,854.6 1151.6,856.1 1152.0,843.2 1152.4,860.4 1152.8,863.8 1153.2,865.1 1153.6,851.3 1154.0,846.2 1154.4,841.9 1154.8,852.5 1155.2,849.3 1155.6,849.3 1156.0,841.0 1156.4,833.1 1156.8,847.4 1157.2,848.2 1157.6,846.7 1158.0,838.8 1158.4,847.3 1158.8,848.2 1159.2,840.8 1159.6,854.0 1160.0,848.9 1160.4,850.1 1160.8,852.0 1161.2,847.1 1161.6,848.3 1162.0,852.8 1162.4,854.5 1162.8,855.4 1163.2,847.3 1163.6,854.4 1164.0,857.1 1164.4,838.0 1164.8,845.4 1165.2,848.2 1165.6,848.4 1166.0,861.8 1166.4,857.1 1166.8,847.2 1167.2,847.3 1167.6,837.6 1168.0,840.7 1168.4,858.0 1168.8,835.0 1169.2,852.6 1169.6,842.5 1170.0,845.5 1170.4,847.0 1170.8,861.4 1171.2,850.1 1171.6,851.4 1172.0,855.1 1172.4,830.8 1172.8,861.4 1173.2,834.8 1173.6,841.9 1174.0,852.4 1174.4,838.0 1174.8,823.4 1175.2,855.8 1175.6,844.7 1176.0,854.0 1176.4,850.6 1176.8,845.4 1177.2,859.6 1177.6,844.9 1178.0,861.9 1178.4,840.0 1178.8,839.1 1179.2,841.4 1179.6,848.3 1180.0,837.9 1180.4,841.1 1180.8,857.1 1181.2,847.6 1181.6,854.9 1182.0,848.9 1182.4,838.1 1182.8,840.2 1183.2,847.3 1183.6,846.4 1184.0,841.9 1184.4,841.5 1184.8,856.5 1185.2,853.4 1185.6,847.7 1186.0,842.9 1186.4,842.2 1186.8,860.3 1187.2,840.7 1187.6,862.4 1188.0,836.2 1188.4,833.8 1188.8,860.0 1189.2,843.9 1189.6,856.1 1190.0,847.9 1190.4,842.8 1190.8,851.5 1191.2,842.2 1191.6,847.6 1192.0,843.2 1192.4,831.0 1192.8,847.1 1193.2,840.1 1193.6,842.9 1194.0,847.0 1194.4,833.2 1194.8,847.8 1195.2,848.0 1195.6,858.0 1196.0,849.7 1196.4,846.1 1196.8,838.6 1197.2,843.2 1197.6,832.8 1198.0,846.3 1198.4,841.8 1198.8,840.5 1199.2,843.3 1199.6,846.5 1200.0,845.0 1200.4,834.2 1200.8,860.7 1201.2,843.2 1201.6,845.4 1202.0,843.0 1202.4,835.9 1202.8,844.8 1203.2,839.9 1203.6,836.5 1204.0,843.8 1204.4,848.5 1204.8,847.4 1205.2,844.3 1205.6,838.3 1206.0,840.4 1206.4,841.8 1206.8,832.2 1207.2,848.8 1207.6,843.5 1208.0,833.3 1208.4,853.9 1208.8,857.2 1209.2,833.2 1209.6,841.5 1210.0,836.6 1210.4,848.5 1210.8,832.6 1211.2,846.4 1211.6,845.6 1212.0,851.0 1212.4,828.7 1212.8,837.1 1213.2,841.2 1213.6,849.9 1214.0,843.4 1214.4,848.3 1214.8,846.1 1215.2,836.1 1215.6,841.9 1216.0,839.8 1216.4,840.4 1216.8,836.0 1217.2,848.4 1217.6,845.0 1218.0,828.6 1218.4,848.2 1218.8,838.5 1219.2,831.7 1219.6,851.7 1220.0,842.6 1220.4,845.3 1220.8,841.7 1221.2,842.4 1221.6,829.3 1222.0,848.3 1222.4,837.2 1222.8,842.8 1223.2,842.1 1223.6,835.5 1224.0,833.4 1224.4,841.6 1224.8,852.2 1225.2,837.8 1225.6,838.2 1226.0,843.4 1226.4,838.4 1226.8,852.5 1227.2,846.1 1227.6,861.4 1228.0,844.4 1228.4,859.3 1228.8,838.4 1229.2,844.5 1229.6,834.9 1230.0,839.9 1230.4,840.5 1230.8,847.4 1231.2,853.0 1231.6,841.0 1232.0,832.1 1232.4,842.8 1232.8,841.6 1233.2,839.3 1233.6,849.3 1234.0,851.4 1234.4,837.8 1234.8,837.7 1235.2,823.6 1235.6,838.3 1236.0,849.2 1236.4,836.1 1236.8,849.7 1237.2,848.0 1237.6,847.6 1238.0,847.7 1238.4,842.4 1238.8,850.6 1239.2,850.9 1239.6,845.6 1240.0,842.7 1240.4,852.7 1240.8,854.2 1241.2,838.2 1241.6,849.2 1242.0,843.4 1242.4,874.6 1242.8,840.5 1243.2,838.3 1243.6,836.0 1244.0,849.7 1244.4,835.0 1244.8,847.6 1245.2,839.0 1245.6,852.8 1246.0,854.5 1246.4,851.3 1246.8,828.2 1247.2,831.8 1247.6,822.5 1248.0,862.3 1248.4,838.2 1248.8,839.5 1249.2,842.9 1249.6,847.1 1250.0,840.1 1250.4,843.0 1250.8,842.5 1251.2,832.8 1251.6,867.2 1252.0,855.4 1252.4,842.7 1252.8,841.5 1253.2,856.5 1253.6,860.7 1254.0,842.9 1254.4,847.0 1254.8,839.4 1255.2,844.9 1255.6,823.3 1256.0,825.6 1256.4,845.8 1256.8,841.0 1257.2,845.4 1257.6,843.9 1258.0,847.0 1258.4,844.4 1258.8,841.2 1259.2,845.7 1259.6,837.6 1260.0,853.2 1260.4,835.3 1260.8,839.7 1261.2,849.5 1261.6,840.0 1262.0,850.0 1262.4,853.8 1262.8,848.8 1263.2,839.7 1263.6,857.3 1264.0,846.5 1264.4,835.9 1264.8,858.3 1265.2,844.7 1265.6,848.0 1266.0,856.2 1266.4,839.7 1266.8,850.4 1267.2,834.4 1267.6,836.4 1268.0,840.9 1268.4,860.3 1268.8,848.5 1269.2,852.9 1269.6,841.0 1270.0,848.3 1270.4,828.6 1270.8,842.6 1271.2,847.9 1271.6,840.5 1272.0,830.0 1272.4,832.6 1272.8,849.8 1273.2,855.2 1273.6,842.4 1274.0,857.3 1274.4,835.6 1274.8,850.1 1275.2,847.8 1275.6,853.6 1276.0,834.5 1276.4,853.4 1276.8,846.8 1277.2,839.5 1277.6,842.7 1278.0,844.5 1278.4,848.4 1278.8,839.9 1279.2,839.9 1279.6,847.2 1280.0,846.3 1280.4,850.4 1280.8,853.6 1281.2,832.9 1281.6,846.2 1282.0,848.7 1282.4,847.4 1282.8,839.0 1283.2,852.5 1283.6,860.1 1284.0,846.0 1284.4,841.4 1284.8,853.3 1285.2,847.7 1285.6,848.5 1286.0,849.4 1286.4,844.3 1286.8,847.7 1287.2,842.5 1287.6,833.2 1288.0,856.0 1288.4,850.4 1288.8,847.8 1289.2,858.6 1289.6,847.4 1290.0,857.1 1290.4,854.9 1290.8,846.6 1291.2,839.5 1291.6,852.6 1292.0,850.9 1292.4,856.9 1292.8,837.7 1293.2,848.5 1293.6,851.4 1294.0,852.3 1294.4,850.7 1294.8,854.2 1295.2,832.5 1295.6,847.8 1296.0,845.2 1296.4,838.7 1296.8,851.3 1297.2,847.6 1297.6,842.0 1298.0,840.3 1298.4,853.4 1298.8,831.9 1299.2,850.4 1299.6,842.8 1300.0,852.4 1300.4,866.0 1300.8,859.3 1301.2,851.3 1301.6,863.2 1302.0,866.2 1302.4,859.6 1302.8,866.2 1303.2,854.0 1303.6,857.2 1304.0,851.9 1304.4,849.8 1304.8,853.0 1305.2,847.0 1305.6,852.2 1306.0,869.8 1306.4,858.6 1306.8,851.8 1307.2,866.4 1307.6,864.4 1308.0,845.5 1308.4,848.4 1308.8,866.9 1309.2,854.6 1309.6,855.3 1310.0,850.0 1310.4,845.7 1310.8,862.9 1311.2,848.1 1311.6,858.4 1312.0,868.5 1312.4,858.5 1312.8,852.9 1313.2,859.4 1313.6,858.9 1314.0,851.3 1314.4,856.8 1314.8,845.7 1315.2,841.6 1315.6,850.8 1316.0,841.7 1316.4,850.3 1316.8,854.2 1317.2,856.6 1317.6,869.4 1318.0,848.3 1318.4,851.9 1318.8,849.1 1319.2,847.8 1319.6,870.9 1320.0,849.6 1320.4,853.8 1320.8,854.3 1321.2,874.2 1321.6,853.4 1322.0,849.9 1322.4,865.2 1322.8,850.8 1323.2,839.8 1323.6,864.6 1324.0,863.1 1324.4,845.1 1324.8,846.6 1325.2,855.8 1325.6,848.7 1326.0,844.6 1326.4,847.1 1326.8,869.9 1327.2,864.5 1327.6,848.2 1328.0,855.2 1328.4,857.2 1328.8,853.8 1329.2,856.2 1329.6,869.9 1330.0,851.7 1330.4,850.7 1330.8,856.3 1331.2,851.5 1331.6,853.3 1332.0,853.4 1332.4,842.7 1332.8,866.1 1333.2,851.8 1333.6,867.1 1334.0,850.5 1334.4,850.0 1334.8,859.0 1335.2,855.1 1335.6,863.7 1336.0,862.4 1336.4,875.1 1336.8,834.7 1337.2,849.4 1337.6,857.2 1338.0,855.9 1338.4,857.2 1338.8,877.6 1339.2,840.3 1339.6,863.1 1340.0,856.1 1340.4,858.0 1340.8,866.4 1341.2,857.6 1341.6,864.3 1342.0,868.2 1342.4,867.5 1342.8,843.9 1343.2,853.4 1343.6,848.4 1344.0,852.5 1344.4,857.1 1344.8,874.7 1345.2,853.7 1345.6,856.5 1346.0,857.5 1346.4,870.5 1346.8,854.6 1347.2,862.5 1347.6,865.4 1348.0,863.6 1348.4,843.5 1348.8,849.1 1349.2,864.5 1349.6,845.6 1350.0,857.6 1350.4,847.7 1350.8,862.5 1351.2,859.1 1351.6,847.5 1352.0,857.6 1352.4,851.4 1352.8,855.3 1353.2,869.4 1353.6,862.0 1354.0,862.5 1354.4,871.8 1354.8,860.8 1355.2,870.2 1355.6,863.2 1356.0,862.3 1356.4,857.5 1356.8,854.0 1357.2,852.5 1357.6,853.4 1358.0,864.7 1358.4,863.9 1358.8,854.4 1359.2,870.3 1359.6,856.1 1360.0,858.0 1360.4,850.6 1360.8,854.8 1361.2,868.0 1361.6,864.8 1362.0,856.6 1362.4,871.0 1362.8,861.2 1363.2,862.3 1363.6,869.9 1364.0,865.5 1364.4,859.5 1364.8,854.0 1365.2,872.1 1365.6,844.2 1366.0,857.6 1366.4,849.1 1366.8,858.0 1367.2,869.1 1367.6,860.2 1368.0,859.6 1368.4,862.5 1368.8,878.0 1369.2,873.6 1369.6,864.9 1370.0,858.4 1370.4,860.4 1370.8,866.1 1371.2,861.8 1371.6,862.8 1372.0,855.9 1372.4,853.5 1372.8,855.6 1373.2,865.9 1373.6,857.2 1374.0,883.7 1374.4,868.8 1374.8,869.6 1375.2,872.4 1375.6,856.9 1376.0,856.1 1376.4,863.4 1376.8,869.8 1377.2,869.7 1377.6,887.8 1378.0,876.4 1378.4,873.9 1378.8,874.7 1379.2,868.3 1379.6,873.0 1380.0,864.5 1380.4,863.6 1380.8,879.9 1381.2,854.6 1381.6,877.9 1382.0,881.5 1382.4,863.9 1382.8,873.5 1383.2,869.2 1383.6,860.7 1384.0,871.0 1384.4,872.4 1384.8,876.2 1385.2,866.2 1385.6,869.9 1386.0,864.3 1386.4,876.7 1386.8,868.4 1387.2,875.8 1387.6,864.3 1388.0,870.4 1388.4,862.8 1388.8,864.1 1389.2,878.2 1389.6,868.5 1390.0,869.4 1390.4,875.7 1390.8,864.1 1391.2,885.1 1391.6,864.6 1392.0,867.6 1392.4,887.2 1392.8,857.8 1393.2,884.3 1393.6,874.0 1394.0,875.0 1394.4,863.3 1394.8,872.7 1395.2,861.9 1395.6,879.1 1396.0,869.8 1396.4,863.3 1396.8,868.2 1397.2,870.8 1397.6,879.5 1398.0,874.9 1398.4,866.5 1398.8,865.8 1399.2,864.7 1399.6,878.6 1400.0,876.3 1400.4,864.4 1400.8,860.6 1401.2,872.6 1401.6,868.8 1402.0,877.2 1402.4,872.4 1402.8,876.3 1403.2,879.6 1403.6,881.5 1404.0,872.1 1404.4,879.3 1404.8,869.7 1405.2,865.0 1405.6,875.9 1406.0,883.4 1406.4,885.1 1406.8,874.1 1407.2,861.7 1407.6,877.2 1408.0,873.3 1408.4,879.7 1408.8,883.2 1409.2,871.9 1409.6,869.9 1410.0,872.5 1410.4,870.4 1410.8,868.1 1411.2,877.4 1411.6,870.3 1412.0,873.8 1412.4,873.6 1412.8,871.6 1413.2,880.8 1413.6,872.9 1414.0,875.9 1414.4,882.6 1414.8,875.6 1415.2,865.9 1415.6,873.4 1416.0,873.5 1416.4,881.8 1416.8,889.7 1417.2,878.8 1417.6,876.4 1418.0,888.5 1418.4,872.4 1418.8,880.0 1419.2,881.4 1419.6,877.6 1420.0,876.7 1420.4,879.5 1420.8,889.6 1421.2,882.7 1421.6,874.1 1422.0,880.8 1422.4,885.9 1422.8,892.1 1423.2,884.9 1423.6,880.5 1424.0,889.5 1424.4,885.9 1424.8,880.4 1425.2,874.5 1425.6,880.2 1426.0,886.7 1426.4,871.7 1426.8,867.9 1427.2,883.7 1427.6,868.6 1428.0,870.4 1428.4,877.2 1428.8,878.5 1429.2,880.8 1429.6,881.7 1430.0,884.5 1430.4,879.8 1430.8,874.5 1431.2,859.7 1431.6,890.1 1432.0,886.8 1432.4,885.7 1432.8,880.9 1433.2,874.6 1433.6,884.8 1434.0,880.8 1434.4,871.3 1434.8,889.2 1435.2,871.0 1435.6,878.5 1436.0,894.9 1436.4,875.9 1436.8,883.3 1437.2,890.0 1437.6,882.2 1438.0,871.7 1438.4,878.7 1438.8,882.1 1439.2,871.3 1439.6,893.3 1440.0,885.1 1440.4,888.1 1440.8,884.9 1441.2,885.8 1441.6,880.4 1442.0,872.2 1442.4,888.3 1442.8,883.7 1443.2,895.2 1443.6,874.9 1444.0,884.9 1444.4,900.1 1444.8,873.9 1445.2,875.2 1445.6,885.8 1446.0,896.9 1446.4,875.5 1446.8,884.9 1447.2,883.2 1447.6,880.5 1448.0,882.9 1448.4,894.1 1448.8,886.1 1449.2,875.4 1449.6,880.7 1450.0,886.2 1450.4,875.1 1450.8,880.6 1451.2,882.8 1451.6,870.3 1452.0,900.0 1452.4,874.2 1452.8,886.9 1453.2,885.2 1453.6,882.1 1454.0,895.8 1454.4,887.4 1454.8,880.8 1455.2,895.9 1455.6,891.4 1456.0,879.6 1456.4,876.1 1456.8,894.2 1457.2,886.7 1457.6,876.9 1458.0,892.0 1458.4,877.2 1458.8,882.9 1459.2,882.1 1459.6,873.5 1460.0,893.6 1460.4,914.8 1460.8,893.4 1461.2,891.8 1461.6,886.9 1462.0,888.4 1462.4,891.1 1462.8,893.8 1463.2,885.4 1463.6,889.6 1464.0,887.8 1464.4,893.7 1464.8,896.7 1465.2,898.0 1465.6,886.6 1466.0,886.4 1466.4,895.3 1466.8,888.3 1467.2,888.8 1467.6,894.0 1468.0,893.4 1468.4,900.7 1468.8,881.7 1469.2,899.4 1469.6,887.5 1470.0,896.2 1470.4,881.5 1470.8,890.3 1471.2,886.7 1471.6,904.8 1472.0,884.4 1472.4,900.2 1472.8,885.7 1473.2,883.4 1473.6,894.2 1474.0,899.9 1474.4,891.6 1474.8,896.7 1475.2,894.0 1475.6,891.9 1476.0,902.8 1476.4,892.5 1476.8,899.1 1477.2,884.0 1477.6,891.3 1478.0,899.9 1478.4,889.5 1478.8,876.9 1479.2,898.7 1479.6,897.5 1480.0,891.1 1480.4,894.2 1480.8,890.9 1481.2,896.4 1481.6,901.9 1482.0,896.0 1482.4,893.1 1482.8,890.2 1483.2,892.7 1483.6,890.2 1484.0,901.3 1484.4,886.2 1484.8,889.8 1485.2,896.9 1485.6,896.8 1486.0,896.3 1486.4,888.8 1486.8,896.1 1487.2,883.9 1487.6,883.2 1488.0,885.1 1488.4,897.7 1488.8,905.2 1489.2,891.7 1489.6,890.8 1490.0,892.9 1490.4,908.8 1490.8,896.9 1491.2,896.1 1491.6,891.2 1492.0,899.2 1492.4,905.3 1492.8,897.1 1493.2,889.7 1493.6,905.6 1494.0,895.7 1494.4,909.3 1494.8,888.1 1495.2,894.9 1495.6,898.1 1496.0,883.0 1496.4,896.9 1496.8,900.8 1497.2,895.3 1497.6,899.6 1498.0,897.7 1498.4,890.1 1498.8,901.9 1499.2,890.9 1499.6,894.3 1500.0,891.1 1500.4,901.4 1500.8,893.2 1501.2,893.2 1501.6,880.7 1502.0,894.7 1502.4,904.3 1502.8,881.3 1503.2,899.7 1503.6,896.7 1504.0,884.1 1504.4,894.0 1504.8,904.3 1505.2,897.2 1505.6,899.9 1506.0,905.7 1506.4,895.0 1506.8,904.0 1507.2,888.2 1507.6,891.2 1508.0,908.5 1508.4,907.9 1508.8,904.8 1509.2,886.7 1509.6,896.3 1510.0,891.4 1510.4,912.5 1510.8,888.2 1511.2,888.8 1511.6,893.9 1512.0,900.9 1512.4,894.2 1512.8,896.4 1513.2,900.9 1513.6,899.0 1514.0,884.9 1514.4,889.6 1514.8,911.2 1515.2,899.5 1515.6,912.8 1516.0,910.2 1516.4,907.7 1516.8,900.0 1517.2,911.1 1517.6,896.3 1518.0,916.5 1518.4,904.3 1518.8,904.5 1519.2,897.3 1519.6,896.1 1520.0,898.6 1520.4,896.7 1520.8,894.2 1521.2,892.8 1521.6,902.3 1522.0,909.9 1522.4,915.7 1522.8,906.9 1523.2,900.5 1523.6,906.0 1524.0,914.2 1524.4,902.7 1524.8,909.3 1525.2,904.8 1525.6,903.0 1526.0,897.9 1526.4,907.5 1526.8,896.1 1527.2,889.8 1527.6,907.8 1528.0,909.8 1528.4,909.5 1528.8,909.0 1529.2,900.5 1529.6,901.9 1530.0,911.3 1530.4,918.3 1530.8,883.1 1531.2,912.2 1531.6,904.9 1532.0,902.9 1532.4,897.9 1532.8,898.8 1533.2,894.6 1533.6,905.6 1534.0,896.4 1534.4,902.3 1534.8,892.6 1535.2,912.7 1535.6,908.9 1536.0,895.3 1536.4,907.4 1536.8,901.1 1537.2,897.6 1537.6,904.7 1538.0,910.5 1538.4,915.5 1538.8,906.4 1539.2,913.1 1539.6,909.5 1540.0,909.6 1540.4,911.9 1540.8,894.5 1541.2,901.8 1541.6,915.9 1542.0,894.9 1542.4,898.6 1542.8,918.9 1543.2,897.4 1543.6,905.9 1544.0,907.0 1544.4,902.9 1544.8,912.1 1545.2,911.6 1545.6,900.0 1546.0,918.3 1546.4,899.2 1546.8,902.0 1547.2,904.3 1547.6,906.9 1548.0,897.2 1548.4,907.2 1548.8,889.0 1549.2,901.7 1549.6,898.7 1550.0,900.2 1550.4,904.8 1550.8,907.2 1551.2,899.9 1551.6,905.6 1552.0,894.3 1552.4,902.7 1552.8,912.4 1553.2,900.4 1553.6,903.3 1554.0,905.5 1554.4,911.7 1554.8,908.4 1555.2,904.5 1555.6,898.4 1556.0,907.6 1556.4,884.6 1556.8,909.0 1557.2,900.4 1557.6,910.8 1558.0,905.6 1558.4,916.1 1558.8,901.5 1559.2,891.6 1559.6,906.5 1560.0,902.7 1560.4,905.7 1560.8,915.2 1561.2,899.8 1561.6,911.5 1562.0,913.2 1562.4,914.6 1562.8,892.0 1563.2,907.9 1563.6,901.8 1564.0,905.2 1564.4,901.0 1564.8,904.7 1565.2,914.1 1565.6,919.9 1566.0,912.4 1566.4,898.3 1566.8,916.6 1567.2,898.4 1567.6,904.8 1568.0,916.0 1568.4,903.4 1568.8,913.1 1569.2,905.9 1569.6,899.5 1570.0,909.6 1570.4,904.2 1570.8,921.2 1571.2,921.9 1571.6,919.9 1572.0,901.0 1572.4,922.5 1572.8,910.9 1573.2,912.5 1573.6,910.3 1574.0,904.9 1574.4,910.0 1574.8,915.6 1575.2,920.6 1575.6,913.5 1576.0,909.5 1576.4,905.9 1576.8,907.2 1577.2,921.6 1577.6,914.8 1578.0,911.5 1578.4,897.7 1578.8,896.9 1579.2,915.0 1579.6,914.8 1580.0,918.4 1580.4,911.7 1580.8,905.5 1581.2,897.8 1581.6,903.7 1582.0,893.4 1582.4,912.9 1582.8,914.3 1583.2,921.0 1583.6,897.4 1584.0,891.9 1584.4,915.6 1584.8,913.6 1585.2,896.4 1585.6,906.0 1586.0,912.1 1586.4,908.6 1586.8,914.3 1587.2,911.8 1587.6,907.5 1588.0,914.6 1588.4,911.3 1588.8,920.5 1589.2,901.2 1589.6,910.3 1590.0,907.1 1590.4,910.4 1590.8,915.3 1591.2,917.2 1591.6,896.5 1592.0,921.2 1592.4,916.6 1592.8,916.6 1593.2,913.3 1593.6,919.9 1594.0,916.0 1594.4,899.6 1594.8,908.1 1595.2,909.5 1595.6,910.5 1596.0,910.0 1596.4,918.0 1596.8,905.2 1597.2,908.0 1597.6,906.2 1598.0,913.5 1598.4,917.1 1598.8,907.1 1599.2,916.9 1599.6,910.0 1600.0,924.6 1600.4,897.5 1600.8,914.2 1601.2,922.9 1601.6,911.7 1602.0,906.3 1602.4,908.1 1602.8,918.9 1603.2,910.7 1603.6,922.8 1604.0,915.4 1604.4,910.9 1604.8,911.9 1605.2,918.8 1605.6,923.0 1606.0,909.4 1606.4,906.7 1606.8,906.9 1607.2,919.3 1607.6,929.4 1608.0,912.0 1608.4,921.0 1608.8,913.1 1609.2,923.1 1609.6,905.1 1610.0,920.8 1610.4,906.6 1610.8,910.1 1611.2,919.1 1611.6,914.9 1612.0,916.2 1612.4,920.7 1612.8,918.4 1613.2,928.1 1613.6,922.7 1614.0,910.7 1614.4,916.7 1614.8,913.1 1615.2,914.3 1615.6,930.8 1616.0,911.6 1616.4,927.1 1616.8,928.9 1617.2,938.2 1617.6,917.9 1618.0,919.8 1618.4,920.2 1618.8,915.3 1619.2,931.4 1619.6,944.6 1620.0,901.0 1620.4,915.9 1620.8,927.3 1621.2,910.7 1621.6,913.3 1622.0,918.8 1622.4,918.5 1622.8,917.3 1623.2,917.6 1623.6,932.4 1624.0,901.3 1624.4,915.0 1624.8,910.3 1625.2,920.8 1625.6,915.7 1626.0,922.7 1626.4,919.2 1626.8,936.6 1627.2,909.3 1627.6,915.7 1628.0,926.0 1628.4,916.6 1628.8,920.6 1629.2,908.0 1629.6,925.0 1630.0,918.7 1630.4,924.0 1630.8,912.8 1631.2,915.6 1631.6,913.3 1632.0,932.4 1632.4,906.6 1632.8,923.2 1633.2,922.0 1633.6,929.7 1634.0,922.2 1634.4,912.4 1634.8,924.1 1635.2,907.2 1635.6,928.3 1636.0,919.6 1636.4,914.8 1636.8,916.7 1637.2,925.0 1637.6,907.9 1638.0,933.6 1638.4,915.3 1638.8,932.3 1639.2,922.1 1639.6,935.4 1640.0,911.7 1640.4,927.6 1640.8,920.6 1641.2,916.3 1641.6,927.5 1642.0,919.4 1642.4,915.7 1642.8,919.6 1643.2,915.4 1643.6,919.7 1644.0,921.1 1644.4,929.7 1644.8,920.9 1645.2,910.7 1645.6,927.4 1646.0,918.9 1646.4,914.4 1646.8,912.6 1647.2,935.3 1647.6,921.1 1648.0,934.3 1648.4,914.6 1648.8,914.0 1649.2,935.3 1649.6,920.3 1650.0,920.8 1650.4,920.6 1650.8,914.5 1651.2,930.2 1651.6,913.3 1652.0,928.4 1652.4,914.4 1652.8,942.6 1653.2,928.2 1653.6,931.2 1654.0,909.9 1654.4,925.6 1654.8,918.1 1655.2,916.4 1655.6,916.7 1656.0,929.4 1656.4,923.5 1656.8,919.5 1657.2,918.7 1657.6,918.5 1658.0,919.3 1658.4,921.4 1658.8,914.8 1659.2,916.7 1659.6,906.7 1660.0,923.5 1660.4,928.1 1660.8,920.1 1661.2,934.5 1661.6,918.1 1662.0,924.3 1662.4,932.9 1662.8,926.0 1663.2,918.2 1663.6,927.0 1664.0,921.3 1664.4,932.9 1664.8,930.3 1665.2,922.8 1665.6,928.6 1666.0,937.9 1666.4,933.3 1666.8,931.4 1667.2,923.5 1667.6,920.5 1668.0,919.3 1668.4,932.9 1668.8,916.9 1669.2,928.3 1669.6,937.4 1670.0,913.2 1670.4,928.0 1670.8,917.9 1671.2,924.5 1671.6,929.5 1672.0,918.1 1672.4,915.6 1672.8,922.7 1673.2,927.4 1673.6,922.9 1674.0,918.6 1674.4,931.2 1674.8,917.5 1675.2,915.1 1675.6,926.9 1676.0,942.5 1676.4,922.4 1676.8,925.6 1677.2,918.6 1677.6,921.8 1678.0,917.9 1678.4,928.6 1678.8,921.4 1679.2,920.6 1679.6,933.8 1680.0,915.7 1680.4,933.8 1680.8,925.5 1681.2,920.0 1681.6,926.8 1682.0,924.9 1682.4,929.5 1682.8,925.5 1683.2,941.5 1683.6,935.3 1684.0,935.8 1684.4,918.2 1684.8,924.8 1685.2,936.5 1685.6,932.1 1686.0,927.8 1686.4,927.1 1686.8,935.7 1687.2,913.4 1687.6,921.4 1688.0,917.5 1688.4,936.8 1688.8,917.6 1689.2,926.1 1689.6,938.5 1690.0,926.0 1690.4,930.5 1690.8,928.7 1691.2,933.7 1691.6,945.3 1692.0,919.7 1692.4,928.3 1692.8,941.3 1693.2,946.9 1693.6,927.3 1694.0,939.5 1694.4,934.1 1694.8,933.9 1695.2,918.4 1695.6,916.9 1696.0,930.4 1696.4,928.4 1696.8,928.7 1697.2,920.5 1697.6,940.6 1698.0,928.3 1698.4,950.3 1698.8,928.0 1699.2,932.7 1699.6,935.7 1700.0,927.4 1700.4,922.5 1700.8,925.9 1701.2,930.4 1701.6,926.5 1702.0,945.5 1702.4,926.5 1702.8,936.5 1703.2,936.8 1703.6,932.2 1704.0,922.7 1704.4,934.8 1704.8,938.2 1705.2,932.4 1705.6,931.4 1706.0,914.8 1706.4,923.0 1706.8,930.0 1707.2,932.9 1707.6,937.3 1708.0,929.4 1708.4,933.1 1708.8,924.0 1709.2,936.7 1709.6,937.5 1710.0,931.2 1710.4,939.5 1710.8,930.0 1711.2,928.6 1711.6,930.2 1712.0,947.6 1712.4,920.3 1712.8,934.2 1713.2,930.1 1713.6,933.7 1714.0,921.8" stroke="#ff0000" stroke-width="3.5"/>
<polygon points="332,272 340,268 350,272 353,290 349,320 345,336 338,332 333,310" fill="#000" stroke="none"/>
<polyline points="331.0,291.0 331.4,290.8 331.8,311.0 332.2,284.0 332.6,307.4 333.0,289.4 333.4,277.1 333.8,305.5 334.2,299.4 334.6,301.5 335.0,302.8 335.4,313.0 335.8,305.9 336.2,299.9 336.6,302.6 337.0,309.6 337.4,299.3 337.8,316.2 338.2,268.6 338.6,306.6 339.0,310.5 339.4,317.4 339.8,298.4 340.2,308.9 340.6,316.9 341.0,343.9 341.4,315.4 341.8,320.9 342.2,309.1 342.6,360.7 343.0,314.2 343.4,314.9 343.8,319.9 344.2,304.5 344.6,308.3 345.0,316.0 345.4,311.2 345.8,331.0 346.2,314.6 346.6,343.8 347.0,320.9 347.4,307.9 347.8,315.3 348.2,318.4 348.6,307.8 349.0,309.5 349.4,298.9 349.8,289.7 350.2,294.0 350.6,310.5 351.0,282.9 351.4,282.1 351.8,261.7 352.2,266.9 352.6,273.3 353.0,262.7 353.4,274.2 353.8,268.4 354.2,251.3 354.6,251.2 355.0,255.0 355.4,250.2 355.8,243.5" stroke="#000" stroke-width="4.5"/>
<polyline points="355.8,243.5 356.2,231.3 356.6,257.2 357.0,247.4 357.4,249.8 357.8,244.4 358.2,263.6 358.6,252.8 359.0,258.9 359.4,242.3 359.8,258.1 360.2,265.4 360.6,273.8 361.0,281.5 361.4,280.1 361.8,295.8 362.2,292.9 362.6,300.9 363.0,311.5 363.4,307.4 363.8,310.2 364.2,347.1 364.6,322.0 365.0,334.0 365.4,346.1 365.8,338.6 366.2,355.5 366.6,333.4 367.0,352.8 367.4,359.1 367.8,374.2 368.2,370.9 368.6,355.5 369.0,370.6 369.4,368.2 369.8,358.3 370.2,366.2 370.6,381.0 371.0,372.3 371.4,369.1 371.8,373.9 372.2,370.8 372.6,370.3 373.0,388.1 373.4,390.9 373.8,397.5 374.2,378.4 374.6,383.7 375.0,398.1 375.4,397.7 375.8,396.9 376.2,382.5 376.6,399.5 377.0,392.4 377.4,418.4 377.8,413.5 378.2,401.7 378.6,422.0 379.0,405.5 379.4,420.9 379.8,419.7 380.2,417.5 380.6,434.2 381.0,411.9 381.4,425.2 381.8,425.2 382.2,418.3 382.6,423.2 383.0,439.4 383.4,443.4 383.8,436.1 384.2,452.1 384.6,454.8 385.0,460.8 385.4,456.5 385.8,462.3 386.2,473.2 386.6,469.2 387.0,472.7 387.4,475.6 387.8,495.7 388.2,507.8 388.6,488.0 389.0,506.3 389.4,519.6 389.8,530.3 390.2,524.0 390.6,518.6 391.0,534.7 391.4,551.3 391.8,538.5 392.2,544.2 392.6,555.6 393.0,531.7 393.4,553.3 393.8,561.4 394.2,559.8 394.6,555.4 395.0,553.0 395.4,553.4 395.8,549.0 396.2,557.3 396.6,553.2 397.0,563.7 397.4,564.1 397.8,562.4 398.2,565.3 398.6,570.5 399.0,561.2 399.4,578.1 399.8,576.0 400.2,581.0 400.6,575.2 401.0,578.3 401.4,583.3 401.8,585.4 402.2,583.8 402.6,587.0 403.0,588.2 403.4,592.4 403.8,592.3 404.2,594.9 404.6,596.5 405.0,619.3 405.4,605.4 405.8,613.2 406.2,608.9 406.6,621.3 407.0,633.2 407.4,619.8 407.8,630.0 408.2,631.0 408.6,641.7 409.0,636.7 409.4,639.3 409.8,641.1 410.2,629.4 410.6,656.8 411.0,664.9 411.4,646.8 411.8,663.8 412.2,659.5 412.6,674.5 413.0,660.7 413.4,671.7 413.8,681.8 414.2,677.8 414.6,677.3 415.0,677.3 415.4,674.4 415.8,684.4 416.2,668.9 416.6,697.3 417.0,689.1 417.4,684.2 417.8,673.7 418.2,696.2 418.6,699.5 419.0,692.9 419.4,697.4 419.8,698.1 420.2,691.2 420.6,689.9 421.0,693.8 421.4,704.0 421.8,689.3 422.2,681.4 422.6,696.3 423.0,696.7 423.4,695.6 423.8,698.3 424.2,687.4 424.6,690.5 425.0,694.9 425.4,698.1 425.8,703.4 426.2,705.7 426.6,701.7 427.0,699.3 427.4,692.6 427.8,697.4 428.2,688.5 428.6,696.2 429.0,706.2 429.4,708.0 429.8,695.1 430.2,714.1 430.6,684.8 431.0,709.8 431.4,705.9 431.8,705.1" stroke="#000" stroke-width="4" stroke-dasharray="55 22" stroke-linecap="butt"/>
<polyline points="431.8,705.1 432.2,710.5 432.6,704.3 433.0,727.5 433.4,705.3 433.8,706.1 434.2,713.3 434.6,695.0 435.0,711.1 435.4,701.2 435.8,725.3 436.2,710.5 436.6,714.4 437.0,701.4 437.4,732.4 437.8,703.5 438.2,706.6 438.6,713.5 439.0,701.5 439.4,710.2 439.8,718.7 440.2,732.0 440.6,733.3 441.0,715.2 441.4,721.0 441.8,732.3 442.2,737.5 442.6,721.4 443.0,727.2 443.4,730.2 443.8,732.4 444.2,730.0 444.6,748.0 445.0,732.1 445.4,744.9 445.8,740.4 446.2,766.3 446.6,750.1 447.0,722.6 447.4,744.9 447.8,723.3 448.2,752.6 448.6,739.6 449.0,712.0 449.4,735.4 449.8,741.7 450.2,757.4 450.6,746.9 451.0,750.9 451.4,742.0 451.8,744.3 452.2,727.2 452.6,746.4 453.0,748.1 453.4,750.5 453.8,744.9 454.2,750.6 454.6,749.4 455.0,755.9 455.4,749.2 455.8,750.2 456.2,748.5 456.6,750.9 457.0,754.9 457.4,749.5 457.8,769.1 458.2,768.0 458.6,763.2 459.0,767.3 459.4,751.5 459.8,757.1 460.2,759.2 460.6,765.8 461.0,771.3 461.4,772.4 461.8,754.0 462.2,766.3 462.6,776.7 463.0,766.0 463.4,772.8 463.8,755.7 464.2,770.6 464.6,768.8 465.0,755.2 465.4,778.9 465.8,784.3 466.2,780.4 466.6,771.5 467.0,773.9 467.4,770.3 467.8,781.4 468.2,780.9 468.6,789.4 469.0,778.3 469.4,786.6 469.8,777.7 470.2,774.3 470.6,780.7 471.0,774.3 471.4,774.9 471.8,788.6 472.2,788.8 472.6,777.2 473.0,776.8 473.4,783.0 473.8,779.1 474.2,791.5 474.6,783.5 475.0,776.0 475.4,780.3 475.8,791.1 476.2,818.0 476.6,792.9 477.0,778.0 477.4,782.2 477.8,791.5 478.2,789.2 478.6,792.3 479.0,807.9 479.4,783.6 479.8,784.5 480.2,792.5 480.6,793.5 481.0,795.6 481.4,801.0 481.8,794.7 482.2,803.9 482.6,797.2 483.0,799.3 483.4,782.8 483.8,790.1 484.2,794.5 484.6,803.3 485.0,793.3 485.4,791.2 485.8,793.3 486.2,813.6 486.6,788.3 487.0,802.6 487.4,801.6 487.8,813.1 488.2,807.7 488.6,800.0 489.0,809.9 489.4,813.9 489.8,801.2 490.2,791.2 490.6,795.4 491.0,805.8 491.4,797.8 491.8,807.4 492.2,815.9 492.6,809.0 493.0,825.2 493.4,807.3 493.8,799.1 494.2,810.8 494.6,817.6 495.0,799.3 495.4,814.5 495.8,834.9 496.2,814.9 496.6,826.9 497.0,791.5 497.4,817.9 497.8,800.7 498.2,800.7 498.6,803.4 499.0,823.9 499.4,818.6 499.8,827.7 500.2,810.5 500.6,804.5 501.0,825.3 501.4,813.5 501.8,807.6 502.2,826.2 502.6,835.4 503.0,815.3 503.4,823.2 503.8,826.9 504.2,815.8 504.6,817.4 505.0,826.6 505.4,838.0 505.8,818.0 506.2,832.7 506.6,831.6 507.0,829.2 507.4,826.7 507.8,822.3 508.2,834.8 508.6,829.2 509.0,811.1 509.4,836.1 509.8,825.8 510.2,831.6 510.6,849.3 511.0,836.6 511.4,818.0 511.8,831.7 512.2,826.6 512.6,844.2 513.0,810.6 513.4,842.0 513.8,838.4 514.2,835.8 514.6,842.6 515.0,854.1 515.4,825.7 515.8,837.0 516.2,841.4 516.6,842.4 517.0,840.8 517.4,847.1 517.8,845.0 518.2,841.1 518.6,830.3 519.0,851.0 519.4,857.9 519.8,856.2 520.2,850.8 520.6,857.5 521.0,837.0 521.4,855.6 521.8,852.6 522.2,849.9 522.6,867.8 523.0,850.2 523.4,849.1 523.8,844.7 524.2,838.9 524.6,850.2 525.0,868.0 525.4,869.4 525.8,850.7 526.2,857.2 526.6,868.4 527.0,849.0 527.4,854.0 527.8,847.1 528.2,871.1 528.6,854.2 529.0,856.8 529.4,859.9 529.8,854.0 530.2,881.1 530.6,870.7 531.0,878.7 531.4,846.9 531.8,869.3 532.2,862.6 532.6,855.8 533.0,865.6 533.4,878.0 533.8,875.0 534.2,862.5 534.6,893.8 535.0,876.4 535.4,857.7 535.8,862.1 536.2,864.1 536.6,868.9 537.0,866.0 537.4,865.5 537.8,878.4 538.2,866.5 538.6,873.0 539.0,867.6 539.4,870.9 539.8,882.4 540.2,874.0 540.6,880.2 541.0,874.1 541.4,883.6 541.8,875.2 542.2,884.6 542.6,866.4 543.0,885.1 543.4,880.4 543.8,870.3 544.2,872.5 544.6,862.8 545.0,876.2 545.4,879.9 545.8,874.8 546.2,887.0 546.6,863.0 547.0,878.0 547.4,870.5 547.8,876.3 548.2,886.9 548.6,880.6 549.0,892.2 549.4,878.6 549.8,876.7 550.2,879.8 550.6,871.1 551.0,875.9 551.4,882.1 551.8,889.8 552.2,875.6 552.6,876.6 553.0,871.8 553.4,873.3 553.8,883.5 554.2,884.5 554.6,886.8 555.0,882.6 555.4,892.7 555.8,872.2 556.2,885.2 556.6,890.4 557.0,883.5 557.4,889.4 557.8,884.9 558.2,884.1 558.6,888.3 559.0,882.7 559.4,887.5 559.8,892.4 560.2,880.3 560.6,893.5 561.0,897.4 561.4,901.1 561.8,887.2 562.2,898.0 562.6,876.7 563.0,880.4 563.4,891.1 563.8,882.9 564.2,884.4 564.6,884.1 565.0,889.4 565.4,887.2 565.8,885.4 566.2,892.2 566.6,889.0 567.0,893.1 567.4,895.6 567.8,897.6 568.2,892.5 568.6,891.3 569.0,891.7 569.4,887.3 569.8,898.5 570.2,895.2 570.6,903.2 571.0,898.3 571.4,893.1 571.8,902.8 572.2,895.2 572.6,897.0 573.0,901.1 573.4,899.8 573.8,893.2 574.2,903.6 574.6,901.8 575.0,899.3 575.4,898.4 575.8,901.7 576.2,890.1 576.6,909.6 577.0,884.0 577.4,894.3 577.8,894.8 578.2,904.4 578.6,902.2 579.0,904.6 579.4,894.2 579.8,910.8 580.2,909.0 580.6,889.1 581.0,904.7 581.4,890.5 581.8,900.0 582.2,907.7 582.6,904.3 583.0,895.6 583.4,900.4 583.8,912.0 584.2,906.1 584.6,910.0 585.0,894.1 585.4,909.1 585.8,907.1 586.2,899.7 586.6,915.5 587.0,906.2 587.4,912.4 587.8,903.5 588.2,909.7 588.6,910.8 589.0,906.7 589.4,908.4 589.8,909.9 590.2,907.4 590.6,900.1 591.0,910.6 591.4,907.8 591.8,910.4 592.2,903.7 592.6,918.9 593.0,915.2 593.4,925.4 593.8,921.7 594.2,916.2 594.6,908.1 595.0,902.1 595.4,917.6 595.8,912.3 596.2,920.3 596.6,919.3 597.0,909.9 597.4,905.2 597.8,913.8 598.2,908.6 598.6,906.2 599.0,914.1 599.4,910.2 599.8,915.1 600.2,905.2 600.6,911.4 601.0,910.7 601.4,912.2 601.8,908.7 602.2,916.8 602.6,903.7 603.0,915.7 603.4,919.8 603.8,913.0 604.2,913.7 604.6,904.6 605.0,915.0 605.4,918.4 605.8,914.7 606.2,916.1 606.6,917.3 607.0,915.4 607.4,902.6 607.8,907.1 608.2,913.6 608.6,927.8 609.0,921.2 609.4,914.4 609.8,913.5 610.2,912.0 610.6,918.5 611.0,913.1 611.4,915.4 611.8,909.7 612.2,912.6 612.6,909.2 613.0,910.5 613.4,913.4 613.8,923.0 614.2,917.9 614.6,922.3 615.0,913.0 615.4,917.7 615.8,912.3 616.2,876.0 616.6,915.3 617.0,906.3 617.4,916.7 617.8,909.1 618.2,919.6 618.6,912.7 619.0,907.1 619.4,909.5 619.8,911.4 620.2,925.9 620.6,909.3 621.0,914.8 621.4,918.3 621.8,916.2 622.2,917.0 622.6,921.7 623.0,913.2 623.4,928.3 623.8,926.1 624.2,919.1 624.6,926.3 625.0,918.7 625.4,915.4 625.8,910.8 626.2,914.1 626.6,921.8 627.0,920.4 627.4,928.3 627.8,928.2 628.2,924.1 628.6,919.5 629.0,929.8 629.4,918.6 629.8,904.2 630.2,917.4 630.6,922.0 631.0,922.7 631.4,922.9 631.8,924.2 632.2,903.5 632.6,933.7 633.0,923.1 633.4,920.2 633.8,907.9 634.2,925.0 634.6,913.6 635.0,907.7 635.4,923.7 635.8,923.5 636.2,919.4 636.6,910.0 637.0,923.0 637.4,920.8 637.8,922.6 638.2,923.2 638.6,911.3 639.0,923.5 639.4,912.9 639.8,923.7 640.2,918.6 640.6,917.8 641.0,931.2 641.4,922.5 641.8,922.4 642.2,926.1 642.6,934.9 643.0,903.7 643.4,924.8 643.8,922.1 644.2,928.9 644.6,922.1 645.0,921.7 645.4,925.8 645.8,922.0 646.2,916.9 646.6,922.6 647.0,934.2 647.4,926.4 647.8,908.3 648.2,922.0 648.6,911.8 649.0,933.4 649.4,915.9 649.8,922.6 650.2,926.4 650.6,928.5 651.0,919.5 651.4,925.2 651.8,937.8 652.2,919.5 652.6,924.0 653.0,918.4 653.4,922.7 653.8,927.1 654.2,924.4 654.6,928.4 655.0,916.2 655.4,925.3 655.8,922.5 656.2,906.4 656.6,931.6 657.0,925.5 657.4,921.1 657.8,931.7 658.2,928.4 658.6,910.2 659.0,928.1 659.4,940.6 659.8,927.3 660.2,930.8 660.6,914.9 661.0,915.7 661.4,916.6 661.8,932.6 662.2,931.8 662.6,910.0 663.0,931.7 663.4,912.7 663.8,917.1 664.2,925.6 664.6,921.8 665.0,926.0 665.4,927.7 665.8,934.0 666.2,923.4 666.6,922.3 667.0,922.1 667.4,942.4 667.8,940.5 668.2,934.8 668.6,930.8 669.0,930.3 669.4,936.6 669.8,927.0 670.2,917.7 670.6,917.3 671.0,943.9 671.4,921.0 671.8,923.4 672.2,926.8 672.6,934.8 673.0,920.8 673.4,926.7 673.8,930.6 674.2,919.9 674.6,928.7 675.0,935.5 675.4,930.0 675.8,929.1 676.2,931.8 676.6,928.2 677.0,925.8 677.4,925.3 677.8,934.3 678.2,918.2 678.6,921.2 679.0,934.2 679.4,936.9 679.8,929.8 680.2,923.7 680.6,918.8 681.0,933.2 681.4,930.6 681.8,931.7 682.2,932.2 682.6,922.8 683.0,924.7 683.4,929.0 683.8,928.5 684.2,919.2 684.6,921.7 685.0,928.6 685.4,939.0 685.8,945.6 686.2,931.8 686.6,928.1 687.0,932.3 687.4,930.9 687.8,924.9 688.2,909.4 688.6,932.3 689.0,926.8 689.4,930.5 689.8,924.6 690.2,928.9 690.6,932.3 691.0,922.6 691.4,926.9 691.8,935.7 692.2,936.9 692.6,920.4 693.0,937.4 693.4,940.8 693.8,935.2 694.2,935.6 694.6,933.7 695.0,935.5 695.4,930.0 695.8,941.6 696.2,933.2 696.6,924.0 697.0,937.0 697.4,939.5 697.8,936.5 698.2,927.5 698.6,938.1 699.0,915.4 699.4,945.3 699.8,938.1 700.2,922.8 700.6,921.2 701.0,950.3 701.4,936.4 701.8,930.3 702.2,937.4 702.6,933.9 703.0,934.1 703.4,937.6 703.8,937.6 704.2,928.9 704.6,937.9 705.0,937.4 705.4,929.8 705.8,942.6 706.2,939.9 706.6,929.9 707.0,948.4 707.4,940.5 707.8,946.0 708.2,932.3 708.6,934.2 709.0,938.3 709.4,933.9 709.8,936.3 710.2,928.4 710.6,951.2 711.0,941.4 711.4,946.7 711.8,949.6 712.2,938.0 712.6,951.4 713.0,923.3 713.4,936.1 713.8,935.1 714.2,938.4 714.6,931.3 715.0,944.6 715.4,951.8 715.8,940.6 716.2,943.0 716.6,925.1 717.0,934.4 717.4,942.0 717.8,935.0 718.2,941.5 718.6,937.0 719.0,942.0 719.4,930.7 719.8,943.2 720.2,949.3 720.6,944.6 721.0,954.0 721.4,939.7 721.8,946.1 722.2,931.9 722.6,946.8 723.0,943.9 723.4,939.1 723.8,948.2 724.2,933.4 724.6,939.3 725.0,943.0 725.4,934.5 725.8,934.7 726.2,947.7 726.6,939.0 727.0,929.1 727.4,938.3 727.8,937.6 728.2,936.5 728.6,943.8 729.0,934.7 729.4,932.1 729.8,942.0 730.2,941.3 730.6,949.7 731.0,933.3 731.4,938.2 731.8,948.6 732.2,944.3 732.6,938.4 733.0,936.8 733.4,946.6 733.8,942.0 734.2,936.9 734.6,939.5 735.0,939.8 735.4,948.5 735.8,926.0 736.2,938.8 736.6,950.5 737.0,931.8 737.4,940.9 737.8,948.2 738.2,934.3 738.6,939.4 739.0,937.4 739.4,944.1 739.8,938.9 740.2,936.4 740.6,943.9 741.0,944.7 741.4,950.8 741.8,941.0 742.2,942.6 742.6,940.0 743.0,951.4 743.4,951.7 743.8,938.9 744.2,930.4 744.6,956.7 745.0,932.4 745.4,933.2 745.8,941.0 746.2,956.9 746.6,952.0 747.0,943.3 747.4,949.5 747.8,944.0 748.2,952.4 748.6,942.5 749.0,955.7 749.4,949.3 749.8,938.6 750.2,934.7 750.6,953.3 751.0,949.4 751.4,939.9 751.8,935.2 752.2,943.2 752.6,944.2 753.0,945.4 753.4,946.6 753.8,946.8 754.2,943.2 754.6,960.3 755.0,945.4 755.4,943.1 755.8,950.9 756.2,941.9 756.6,950.5 757.0,948.7 757.4,954.6 757.8,941.9 758.2,936.0 758.6,955.9 759.0,947.3 759.4,959.8 759.8,953.5 760.2,946.0 760.6,952.6 761.0,941.6 761.4,943.0 761.8,949.6 762.2,950.4 762.6,938.9 763.0,954.9 763.4,953.4 763.8,956.9 764.2,941.0 764.6,954.2 765.0,946.6 765.4,947.7 765.8,957.6 766.2,951.4 766.6,954.8 767.0,957.0 767.4,958.7 767.8,945.7 768.2,945.7 768.6,954.1 769.0,955.5 769.4,947.6 769.8,954.9 770.2,947.0 770.6,950.9 771.0,952.1 771.4,954.4 771.8,957.4 772.2,951.3 772.6,954.6 773.0,948.5 773.4,958.6 773.8,957.7 774.2,950.9 774.6,966.7 775.0,954.3 775.4,953.3 775.8,952.5 776.2,957.8 776.6,956.5 777.0,951.7 777.4,958.8 777.8,962.6 778.2,965.4 778.6,959.9 779.0,954.7 779.4,952.1 779.8,960.4 780.2,965.1 780.6,971.4 781.0,955.5 781.4,950.8 781.8,951.6 782.2,960.0 782.6,962.1 783.0,953.4 783.4,950.6 783.8,946.0 784.2,962.7 784.6,948.4 785.0,961.7 785.4,957.0 785.8,945.8 786.2,950.9 786.6,964.5 787.0,958.3 787.4,957.0 787.8,966.3 788.2,958.4 788.6,959.3 789.0,959.5 789.4,959.5 789.8,965.9 790.2,955.8 790.6,966.2 791.0,969.1 791.4,956.3 791.8,962.6 792.2,952.4 792.6,960.4 793.0,967.7 793.4,966.1 793.8,957.7 794.2,964.0 794.6,963.6 795.0,961.4 795.4,961.7 795.8,973.2 796.2,944.4 796.6,957.3 797.0,966.8 797.4,960.6 797.8,963.6 798.2,963.5 798.6,960.2 799.0,961.9 799.4,957.2 799.8,962.0 800.2,967.0 800.6,968.7 801.0,965.7 801.4,961.0 801.8,960.2 802.2,952.1 802.6,961.7 803.0,957.0 803.4,958.7 803.8,961.1 804.2,963.8 804.6,964.4 805.0,963.7 805.4,956.7 805.8,961.0 806.2,968.3 806.6,963.4 807.0,966.8 807.4,964.7 807.8,974.0 808.2,975.1 808.6,981.0 809.0,962.7 809.4,970.3 809.8,957.2 810.2,970.0 810.6,968.5 811.0,963.4 811.4,975.1 811.8,967.1 812.2,956.5 812.6,975.7 813.0,967.1 813.4,971.7 813.8,962.7 814.2,962.2 814.6,959.4 815.0,960.4 815.4,971.8 815.8,970.9 816.2,957.2 816.6,967.6 817.0,967.9 817.4,963.0 817.8,969.7 818.2,963.0 818.6,974.1 819.0,966.2 819.4,969.1 819.8,946.4 820.2,965.1 820.6,968.2 821.0,964.2 821.4,966.8 821.8,962.3 822.2,973.7 822.6,956.5 823.0,966.4 823.4,977.4 823.8,975.8 824.2,968.4 824.6,960.7 825.0,956.8 825.4,971.5 825.8,970.3 826.2,967.2 826.6,965.4 827.0,982.5 827.4,975.0 827.8,969.6 828.2,968.4 828.6,967.6 829.0,972.0 829.4,968.4 829.8,970.8 830.2,967.5 830.6,975.1 831.0,972.0 831.4,963.5 831.8,988.9 832.2,972.6 832.6,968.1 833.0,963.4 833.4,971.7 833.8,967.4 834.2,982.1 834.6,974.8 835.0,967.9 835.4,960.6 835.8,976.9 836.2,961.4 836.6,975.1 837.0,972.9 837.4,954.8 837.8,970.7 838.2,982.8 838.6,966.8 839.0,958.3 839.4,961.8 839.8,972.1 840.2,974.6 840.6,978.1 841.0,974.6 841.4,967.0 841.8,970.3 842.2,971.7 842.6,972.3 843.0,965.4 843.4,977.5 843.8,980.5 844.2,972.8 844.6,974.7 845.0,965.8 845.4,975.3 845.8,969.0 846.2,968.5 846.6,979.3 847.0,975.2 847.4,971.4 847.8,964.1 848.2,974.7 848.6,985.2 849.0,976.9 849.4,976.5 849.8,982.9 850.2,988.7 850.6,979.1 851.0,982.1 851.4,977.0 851.8,979.0 852.2,978.8 852.6,983.2 853.0,973.2 853.4,978.4 853.8,978.4 854.2,975.8 854.6,972.8 855.0,982.0 855.4,974.5 855.8,967.1 856.2,981.7 856.6,968.0 857.0,982.2 857.4,961.3 857.8,977.9 858.2,989.1 858.6,976.3 859.0,985.2 859.4,975.3 859.8,973.0 860.2,976.1 860.6,984.1 861.0,986.3 861.4,987.2 861.8,983.9 862.2,978.0 862.6,965.4 863.0,973.4 863.4,988.0 863.8,968.0 864.2,981.5 864.6,981.2 865.0,967.6 865.4,980.6 865.8,975.9 866.2,979.7 866.6,977.8 867.0,977.1 867.4,972.6 867.8,965.7 868.2,990.0 868.6,973.0 869.0,977.0 869.4,976.2 869.8,975.4 870.2,973.9 870.6,982.4 871.0,978.8 871.4,975.7 871.8,975.1 872.2,982.2 872.6,973.1 873.0,982.5 873.4,987.7 873.8,986.1 874.2,982.9 874.6,968.6 875.0,984.1 875.4,981.2 875.8,988.4 876.2,976.0 876.6,976.7 877.0,989.1 877.4,974.6 877.8,987.3 878.2,982.1 878.6,964.0 879.0,977.0 879.4,976.9 879.8,971.3 880.2,967.7 880.6,980.4 881.0,973.3 881.4,975.6 881.8,973.8 882.2,978.4 882.6,983.3 883.0,985.3 883.4,983.4 883.8,977.8 884.2,979.1 884.6,983.9 885.0,988.3 885.4,979.7 885.8,972.0 886.2,982.2 886.6,984.5 887.0,977.4 887.4,988.2 887.8,977.4 888.2,980.5 888.6,983.0 889.0,991.0 889.4,973.0 889.8,984.2 890.2,985.8 890.6,980.0 891.0,987.5 891.4,976.6 891.8,973.3 892.2,972.8 892.6,976.5 893.0,974.0 893.4,984.3 893.8,981.1 894.2,971.7 894.6,991.4 895.0,982.8 895.4,970.5 895.8,969.2 896.2,981.7 896.6,990.2 897.0,979.4 897.4,987.7 897.8,992.1 898.2,986.3 898.6,979.4 899.0,973.1 899.4,977.3 899.8,990.4 900.2,981.9 900.6,975.3 901.0,979.1 901.4,980.5 901.8,989.3 902.2,978.2 902.6,994.3 903.0,983.5 903.4,984.4 903.8,974.8 904.2,984.9 904.6,984.0 905.0,987.0 905.4,977.7 905.8,983.8 906.2,972.3 906.6,975.8 907.0,997.7 907.4,979.4 907.8,977.4 908.2,988.4 908.6,981.4 909.0,999.8 909.4,983.1 909.8,987.3 910.2,981.0 910.6,990.3 911.0,983.0 911.4,1000.8 911.8,978.2 912.2,985.9 912.6,987.7 913.0,975.5 913.4,979.5 913.8,977.9 914.2,971.9 914.6,985.1 915.0,964.1 915.4,974.5 915.8,975.6 916.2,985.0 916.6,982.2 917.0,990.0 917.4,991.1 917.8,984.3 918.2,976.9 918.6,988.0 919.0,978.5 919.4,981.3 919.8,983.7 920.2,993.3 920.6,1001.2 921.0,991.8 921.4,980.7 921.8,990.0 922.2,992.3 922.6,978.3 923.0,985.0 923.4,979.7 923.8,980.1 924.2,984.8 924.6,985.2 925.0,979.2 925.4,984.5 925.8,976.3 926.2,983.3 926.6,985.4 927.0,981.4 927.4,974.4 927.8,979.5 928.2,987.1 928.6,991.0 929.0,990.9 929.4,991.4 929.8,996.2 930.2,981.9 930.6,992.3 931.0,979.6 931.4,996.3 931.8,991.3 932.2,978.4 932.6,989.5 933.0,991.6 933.4,979.8 933.8,987.3 934.2,990.9 934.6,997.3 935.0,981.6 935.4,995.4 935.8,978.7 936.2,979.9 936.6,994.2 937.0,990.4 937.4,980.5 937.8,995.6 938.2,988.9 938.6,986.9 939.0,983.8 939.4,968.8 939.8,985.8 940.2,992.0 940.6,985.5 941.0,990.6 941.4,985.2 941.8,995.0 942.2,966.9 942.6,989.1 943.0,979.9 943.4,987.4 943.8,990.4 944.2,993.7 944.6,991.4 945.0,994.1 945.4,979.6 945.8,987.2 946.2,972.0 946.6,988.5 947.0,967.0 947.4,993.3 947.8,987.7 948.2,984.5 948.6,982.2 949.0,987.6 949.4,982.5 949.8,977.1 950.2,989.1 950.6,980.9 951.0,989.6 951.4,980.3 951.8,978.6 952.2,1001.2 952.6,990.6 953.0,994.6 953.4,985.0 953.8,986.5 954.2,986.7 954.6,999.7 955.0,991.2 955.4,987.5 955.8,986.6 956.2,987.4 956.6,993.9 957.0,987.3 957.4,987.6 957.8,996.1 958.2,993.7 958.6,992.6 959.0,1000.2 959.4,986.8 959.8,980.1 960.2,976.9 960.6,987.1 961.0,989.1 961.4,994.0 961.8,978.3 962.2,978.9 962.6,986.2 963.0,985.8 963.4,978.5 963.8,986.5 964.2,996.0 964.6,986.1 965.0,1003.0 965.4,992.5 965.8,982.5 966.2,986.4 966.6,978.5 967.0,1002.0 967.4,986.0 967.8,985.8 968.2,992.7 968.6,985.8 969.0,983.6 969.4,987.5 969.8,994.7 970.2,994.8 970.6,979.1 971.0,977.4 971.4,991.1 971.8,986.1 972.2,985.2 972.6,995.2 973.0,991.3 973.4,985.1 973.8,992.6 974.2,983.7 974.6,985.2 975.0,1001.0 975.4,987.2 975.8,992.4 976.2,987.2 976.6,986.9 977.0,981.7 977.4,981.6 977.8,997.5 978.2,1003.8 978.6,993.8 979.0,993.3 979.4,985.9 979.8,989.2 980.2,999.6 980.6,1006.9 981.0,994.5 981.4,992.6 981.8,997.3 982.2,991.0 982.6,985.1 983.0,984.4 983.4,988.4 983.8,987.6 984.2,974.7 984.6,978.5 985.0,995.7 985.4,996.8 985.8,995.9 986.2,989.1 986.6,986.1 987.0,990.3 987.4,992.8 987.8,987.5 988.2,997.9 988.6,986.3 989.0,975.3 989.4,995.3 989.8,996.8 990.2,989.7 990.6,997.8 991.0,998.8 991.4,974.1 991.8,993.7 992.2,983.1 992.6,995.6 993.0,992.8 993.4,996.6 993.8,989.4 994.2,987.1 994.6,993.0 995.0,1007.2 995.4,994.0 995.8,984.2 996.2,990.9 996.6,989.5 997.0,999.6 997.4,992.0 997.8,989.1 998.2,993.4 998.6,986.4 999.0,994.3 999.4,978.3 999.8,988.1 1000.2,992.5 1000.6,982.0 1001.0,982.2 1001.4,985.9 1001.8,1000.7 1002.2,996.6 1002.6,991.4 1003.0,997.7 1003.4,996.7 1003.8,987.0 1004.2,983.7 1004.6,998.9 1005.0,986.6 1005.4,995.2 1005.8,980.6 1006.2,990.3 1006.6,982.6 1007.0,995.2 1007.4,995.9 1007.8,993.4 1008.2,996.0 1008.6,987.1 1009.0,993.4 1009.4,994.6 1009.8,984.9 1010.2,994.7 1010.6,992.4 1011.0,993.7 1011.4,988.9 1011.8,990.1 1012.2,993.7 1012.6,991.2 1013.0,994.2 1013.4,981.5 1013.8,996.6 1014.2,985.0 1014.6,997.2 1015.0,980.7 1015.4,986.1 1015.8,991.8 1016.2,992.8 1016.6,987.1 1017.0,984.1 1017.4,994.1 1017.8,996.8 1018.2,984.1 1018.6,982.0 1019.0,985.9 1019.4,989.0 1019.8,978.2 1020.2,983.1 1020.6,994.1 1021.0,984.5 1021.4,984.3 1021.8,999.7 1022.2,996.8 1022.6,1000.7 1023.0,989.7 1023.4,988.7 1023.8,986.9 1024.2,979.9 1024.6,975.7 1025.0,989.0 1025.4,984.4 1025.8,993.7 1026.2,996.0 1026.6,979.5 1027.0,980.4 1027.4,991.0 1027.8,998.8 1028.2,999.9 1028.6,985.0 1029.0,990.0 1029.4,999.0 1029.8,984.5 1030.2,983.0 1030.6,998.4 1031.0,984.8 1031.4,981.6 1031.8,1000.0 1032.2,986.7 1032.6,986.8 1033.0,993.3 1033.4,999.4 1033.8,994.7 1034.2,991.1 1034.6,992.3 1035.0,992.3 1035.4,991.4 1035.8,978.1 1036.2,991.5 1036.6,980.5 1037.0,984.5 1037.4,990.3 1037.8,988.6 1038.2,994.3 1038.6,989.2 1039.0,992.5 1039.4,1001.4 1039.8,982.0 1040.2,996.5 1040.6,1001.4 1041.0,986.4 1041.4,986.8 1041.8,988.5 1042.2,992.2 1042.6,984.5 1043.0,985.3 1043.4,988.8 1043.8,989.4 1044.2,998.4 1044.6,985.7 1045.0,994.4 1045.4,994.1 1045.8,990.2 1046.2,989.8 1046.6,983.5 1047.0,984.2 1047.4,991.3 1047.8,990.4 1048.2,987.0 1048.6,996.4 1049.0,989.6 1049.4,989.1 1049.8,987.6 1050.2,995.6 1050.6,992.2 1051.0,990.5 1051.4,980.1 1051.8,999.5 1052.2,979.2 1052.6,990.9 1053.0,980.4 1053.4,977.8 1053.8,966.9 1054.2,988.6 1054.6,989.4 1055.0,984.9 1055.4,984.1 1055.8,978.1 1056.2,986.6 1056.6,985.0 1057.0,969.1 1057.4,983.4 1057.8,984.3 1058.2,979.0 1058.6,993.5 1059.0,977.6 1059.4,998.8 1059.8,993.5 1060.2,982.8 1060.6,996.5 1061.0,993.1 1061.4,993.8 1061.8,986.8 1062.2,979.1 1062.6,971.5 1063.0,987.2 1063.4,984.5 1063.8,981.3 1064.2,998.6 1064.6,988.2 1065.0,975.1 1065.4,983.9 1065.8,988.1 1066.2,976.5 1066.6,986.0 1067.0,982.2 1067.4,974.7 1067.8,987.0 1068.2,988.7 1068.6,967.1 1069.0,986.9 1069.4,980.2 1069.8,981.6 1070.2,972.9 1070.6,977.2 1071.0,995.2 1071.4,988.2 1071.8,982.4 1072.2,984.0 1072.6,977.9 1073.0,982.4 1073.4,977.6 1073.8,984.8 1074.2,975.6 1074.6,984.2 1075.0,988.0 1075.4,980.7 1075.8,984.0 1076.2,984.5 1076.6,979.1 1077.0,973.3 1077.4,989.5 1077.8,983.0 1078.2,980.4 1078.6,990.5 1079.0,976.9 1079.4,978.9 1079.8,977.5 1080.2,975.3 1080.6,981.1 1081.0,977.8 1081.4,991.1 1081.8,977.6 1082.2,989.9 1082.6,975.9 1083.0,979.6 1083.4,981.9 1083.8,975.9 1084.2,985.9 1084.6,977.6 1085.0,977.1 1085.4,985.8 1085.8,976.4 1086.2,985.3 1086.6,988.1 1087.0,986.3 1087.4,990.3 1087.8,978.3 1088.2,989.1 1088.6,977.5 1089.0,970.1 1089.4,979.7 1089.8,993.4 1090.2,974.2 1090.6,1001.5 1091.0,971.3 1091.4,986.3 1091.8,983.6 1092.2,977.4 1092.6,965.6 1093.0,984.6 1093.4,984.3 1093.8,983.3 1094.2,986.4 1094.6,974.7 1095.0,992.9 1095.4,985.8 1095.8,974.8 1096.2,994.0 1096.6,979.8 1097.0,982.7 1097.4,985.1 1097.8,973.9 1098.2,973.7 1098.6,978.4 1099.0,971.9 1099.4,978.0 1099.8,988.2 1100.2,971.8 1100.6,979.7 1101.0,975.4 1101.4,984.4 1101.8,971.3 1102.2,971.6 1102.6,977.6 1103.0,991.7 1103.4,972.3 1103.8,967.2 1104.2,971.8 1104.6,982.8 1105.0,984.1 1105.4,977.6 1105.8,979.6 1106.2,968.8 1106.6,980.3 1107.0,976.7 1107.4,973.5 1107.8,984.0 1108.2,984.3 1108.6,974.3 1109.0,978.7 1109.4,964.7 1109.8,970.3 1110.2,985.5 1110.6,969.6 1111.0,970.8 1111.4,984.1 1111.8,961.7 1112.2,972.1 1112.6,981.3 1113.0,973.5 1113.4,970.7 1113.8,969.5 1114.2,977.5 1114.6,970.0 1115.0,978.0 1115.4,975.0 1115.8,976.0 1116.2,983.1 1116.6,972.8 1117.0,969.6 1117.4,975.7 1117.8,977.4 1118.2,974.4 1118.6,964.5 1119.0,979.9 1119.4,964.1 1119.8,962.5 1120.2,981.4 1120.6,985.1 1121.0,973.4 1121.4,969.8 1121.8,984.2 1122.2,966.5 1122.6,974.9 1123.0,971.3 1123.4,978.9 1123.8,977.0 1124.2,969.9 1124.6,982.1 1125.0,979.7 1125.4,974.9 1125.8,972.9 1126.2,974.3 1126.6,966.6 1127.0,973.2 1127.4,973.1 1127.8,978.3 1128.2,973.4 1128.6,972.0 1129.0,976.3 1129.4,980.9 1129.8,978.3 1130.2,973.8 1130.6,971.8 1131.0,983.4 1131.4,974.7 1131.8,966.8 1132.2,976.0 1132.6,963.1 1133.0,971.1 1133.4,978.7 1133.8,973.5 1134.2,972.4 1134.6,979.3 1135.0,982.1 1135.4,968.2 1135.8,967.1 1136.2,969.8 1136.6,967.1 1137.0,977.5 1137.4,979.2 1137.8,973.7 1138.2,967.5 1138.6,964.1 1139.0,973.3 1139.4,969.2 1139.8,977.2 1140.2,966.0 1140.6,970.6 1141.0,971.6 1141.4,980.9 1141.8,979.3 1142.2,977.3 1142.6,975.5 1143.0,978.6 1143.4,962.5 1143.8,980.0 1144.2,972.6 1144.6,983.8 1145.0,980.1 1145.4,982.0 1145.8,969.8 1146.2,993.0 1146.6,978.0 1147.0,976.2 1147.4,970.6 1147.8,976.6 1148.2,960.7 1148.6,983.0 1149.0,977.5 1149.4,974.0 1149.8,990.4 1150.2,977.7 1150.6,977.3 1151.0,971.0 1151.4,976.5 1151.8,966.7 1152.2,967.0 1152.6,975.2 1153.0,970.2 1153.4,965.5 1153.8,972.9 1154.2,962.2 1154.6,984.2 1155.0,968.2 1155.4,968.2 1155.8,983.9 1156.2,964.2 1156.6,959.4 1157.0,973.7 1157.4,971.9 1157.8,980.2 1158.2,973.2 1158.6,963.1 1159.0,974.2 1159.4,971.8 1159.8,981.5 1160.2,975.3 1160.6,967.3 1161.0,968.9 1161.4,973.3 1161.8,970.5 1162.2,974.5 1162.6,974.8 1163.0,965.5 1163.4,974.5 1163.8,978.3 1164.2,965.2 1164.6,963.6 1165.0,977.8 1165.4,976.4 1165.8,978.8 1166.2,984.1 1166.6,971.9 1167.0,965.9 1167.4,974.1 1167.8,968.3 1168.2,975.0 1168.6,977.3 1169.0,973.1 1169.4,976.1 1169.8,972.4 1170.2,974.0 1170.6,964.8 1171.0,983.1 1171.4,967.8 1171.8,969.4 1172.2,967.4 1172.6,970.3 1173.0,969.0 1173.4,948.9 1173.8,981.8 1174.2,974.1 1174.6,969.8 1175.0,971.4 1175.4,978.2 1175.8,976.9 1176.2,973.3 1176.6,977.2 1177.0,954.6 1177.4,976.7 1177.8,969.6 1178.2,966.1 1178.6,964.2 1179.0,971.4 1179.4,959.5 1179.8,972.8 1180.2,965.6 1180.6,975.2 1181.0,959.0 1181.4,972.9 1181.8,967.4 1182.2,962.6 1182.6,978.1 1183.0,977.2 1183.4,963.8 1183.8,967.9 1184.2,979.2 1184.6,970.3 1185.0,965.5 1185.4,963.3 1185.8,964.4 1186.2,973.0 1186.6,975.2 1187.0,966.7 1187.4,962.3 1187.8,963.7 1188.2,957.1 1188.6,971.6 1189.0,968.5 1189.4,975.5 1189.8,983.1 1190.2,977.0 1190.6,965.6 1191.0,965.9 1191.4,959.5 1191.8,954.4 1192.2,980.1 1192.6,969.4 1193.0,957.6 1193.4,972.0 1193.8,953.7 1194.2,965.9 1194.6,967.9 1195.0,962.9 1195.4,963.6 1195.8,972.0 1196.2,963.4 1196.6,974.2 1197.0,954.9 1197.4,963.9 1197.8,977.7 1198.2,959.8 1198.6,959.8 1199.0,966.5 1199.4,963.3 1199.8,967.8 1200.2,972.7 1200.6,969.7 1201.0,967.4 1201.4,963.4 1201.8,967.3 1202.2,971.9 1202.6,960.0 1203.0,963.0 1203.4,958.3 1203.8,965.6 1204.2,966.7 1204.6,962.0 1205.0,958.3 1205.4,960.5 1205.8,969.8 1206.2,961.7 1206.6,970.9 1207.0,961.4 1207.4,960.4 1207.8,970.4 1208.2,960.0 1208.6,972.7 1209.0,950.7 1209.4,965.2 1209.8,961.6 1210.2,962.4 1210.6,966.7 1211.0,951.9 1211.4,978.8 1211.8,961.9 1212.2,981.0 1212.6,970.2 1213.0,966.1 1213.4,954.5 1213.8,976.0 1214.2,968.9 1214.6,972.5 1215.0,954.3 1215.4,952.8 1215.8,961.8 1216.2,967.8 1216.6,969.6 1217.0,972.3 1217.4,953.2 1217.8,955.2 1218.2,969.0 1218.6,957.4 1219.0,963.7 1219.4,977.6 1219.8,961.1 1220.2,966.4 1220.6,965.6 1221.0,963.9 1221.4,966.4 1221.8,967.1 1222.2,964.2 1222.6,973.8 1223.0,970.0 1223.4,957.1 1223.8,973.3 1224.2,964.6 1224.6,962.6 1225.0,958.5 1225.4,968.7 1225.8,963.3 1226.2,958.4 1226.6,958.0 1227.0,971.1 1227.4,961.4 1227.8,960.9 1228.2,980.1 1228.6,965.8 1229.0,967.8 1229.4,964.4 1229.8,963.4 1230.2,957.1 1230.6,968.2 1231.0,965.4 1231.4,958.1 1231.8,962.9 1232.2,975.1 1232.6,965.5 1233.0,963.9 1233.4,959.4 1233.8,959.8 1234.2,967.2 1234.6,969.3 1235.0,964.9 1235.4,974.1 1235.8,958.2 1236.2,961.0 1236.6,965.9 1237.0,971.2 1237.4,960.6 1237.8,969.9 1238.2,956.7 1238.6,971.0 1239.0,972.2 1239.4,961.7 1239.8,966.0 1240.2,968.7 1240.6,959.4 1241.0,961.2 1241.4,961.0 1241.8,967.5 1242.2,969.9 1242.6,958.0 1243.0,959.2 1243.4,968.2 1243.8,959.9 1244.2,962.8 1244.6,969.4 1245.0,964.4 1245.4,971.0 1245.8,964.8 1246.2,963.4 1246.6,959.4 1247.0,949.7 1247.4,961.7 1247.8,952.3 1248.2,969.4 1248.6,969.2 1249.0,967.3 1249.4,971.7 1249.8,978.1 1250.2,953.0 1250.6,963.5 1251.0,969.7 1251.4,962.9 1251.8,963.7 1252.2,971.6 1252.6,967.9 1253.0,955.5 1253.4,974.0 1253.8,959.3 1254.2,966.1 1254.6,968.4 1255.0,953.7 1255.4,975.8 1255.8,969.1 1256.2,967.3 1256.6,969.9 1257.0,963.3 1257.4,969.4 1257.8,969.0 1258.2,950.6 1258.6,957.1 1259.0,971.0 1259.4,958.1 1259.8,968.5 1260.2,963.8 1260.6,969.7 1261.0,953.5 1261.4,965.8 1261.8,965.1 1262.2,966.9 1262.6,966.7 1263.0,965.7 1263.4,967.6 1263.8,968.4 1264.2,961.6 1264.6,974.6 1265.0,965.4 1265.4,961.4 1265.8,969.7 1266.2,956.0 1266.6,972.4 1267.0,963.2 1267.4,965.9 1267.8,965.7 1268.2,968.6 1268.6,961.3 1269.0,962.5 1269.4,967.8 1269.8,961.5 1270.2,965.2 1270.6,964.6 1271.0,963.2 1271.4,961.0 1271.8,960.2 1272.2,962.9 1272.6,957.8 1273.0,958.3 1273.4,983.2 1273.8,966.0 1274.2,971.9 1274.6,967.9 1275.0,970.8 1275.4,967.0 1275.8,977.4 1276.2,967.6 1276.6,968.2 1277.0,958.6 1277.4,972.8 1277.8,965.3 1278.2,966.5 1278.6,969.4 1279.0,969.3 1279.4,966.7 1279.8,975.0 1280.2,961.5 1280.6,954.1 1281.0,965.1 1281.4,952.9 1281.8,966.1 1282.2,975.4 1282.6,977.3 1283.0,960.5 1283.4,970.1 1283.8,959.9 1284.2,969.8 1284.6,976.6 1285.0,963.9 1285.4,977.8 1285.8,969.8 1286.2,985.0 1286.6,964.5 1287.0,962.7 1287.4,977.0 1287.8,974.4 1288.2,972.6 1288.6,963.9 1289.0,970.0 1289.4,965.8 1289.8,979.1 1290.2,973.4 1290.6,965.2 1291.0,964.3 1291.4,960.4 1291.8,963.2 1292.2,969.8 1292.6,972.8 1293.0,977.1 1293.4,967.2 1293.8,978.5 1294.2,957.6 1294.6,970.0 1295.0,974.9 1295.4,967.6 1295.8,972.5 1296.2,976.3 1296.6,967.6 1297.0,972.6 1297.4,978.6 1297.8,963.9 1298.2,978.9 1298.6,971.0 1299.0,962.6 1299.4,974.4 1299.8,976.5 1300.2,971.2 1300.6,974.6 1301.0,975.7 1301.4,973.1 1301.8,973.7 1302.2,978.4 1302.6,978.0 1303.0,973.2 1303.4,961.5 1303.8,965.2 1304.2,971.1 1304.6,981.0 1305.0,977.0 1305.4,985.3 1305.8,977.0 1306.2,976.9 1306.6,972.2 1307.0,982.3 1307.4,965.8 1307.8,979.3 1308.2,973.8 1308.6,971.5 1309.0,981.0 1309.4,979.4 1309.8,977.8 1310.2,973.3 1310.6,966.1 1311.0,966.9 1311.4,946.9 1311.8,967.0 1312.2,977.8 1312.6,984.9 1313.0,968.8 1313.4,984.1 1313.8,988.4 1314.2,983.5 1314.6,987.5 1315.0,976.5 1315.4,973.6 1315.8,978.7 1316.2,983.3 1316.6,980.2 1317.0,978.6 1317.4,982.7 1317.8,968.3 1318.2,982.9 1318.6,965.1 1319.0,987.4 1319.4,987.3 1319.8,993.6 1320.2,972.7 1320.6,975.0 1321.0,972.1 1321.4,969.5 1321.8,963.9 1322.2,984.2 1322.6,977.8 1323.0,978.5 1323.4,967.9 1323.8,980.6 1324.2,992.9 1324.6,980.9 1325.0,985.5 1325.4,972.6 1325.8,987.3 1326.2,980.2 1326.6,981.3 1327.0,983.0 1327.4,979.2 1327.8,985.4 1328.2,980.4 1328.6,978.4 1329.0,974.3 1329.4,973.9 1329.8,987.2 1330.2,988.8 1330.6,981.2 1331.0,980.8 1331.4,978.4 1331.8,983.4 1332.2,991.4 1332.6,984.2 1333.0,979.1 1333.4,989.6 1333.8,987.8 1334.2,962.9 1334.6,980.0 1335.0,991.3 1335.4,985.9 1335.8,983.1 1336.2,986.3 1336.6,976.0 1337.0,976.2 1337.4,983.1 1337.8,984.8 1338.2,994.6 1338.6,983.5 1339.0,986.3 1339.4,994.5 1339.8,980.6 1340.2,982.8 1340.6,984.9 1341.0,986.5 1341.4,985.9 1341.8,989.5 1342.2,977.2 1342.6,976.4 1343.0,984.5 1343.4,974.6 1343.8,995.6 1344.2,980.1 1344.6,981.6 1345.0,989.3 1345.4,987.6 1345.8,989.2 1346.2,985.4 1346.6,977.0 1347.0,984.6 1347.4,981.4 1347.8,974.8 1348.2,983.9 1348.6,992.1 1349.0,979.9 1349.4,981.2 1349.8,981.1 1350.2,991.0 1350.6,972.8 1351.0,989.2 1351.4,986.9 1351.8,985.6 1352.2,980.3 1352.6,984.7 1353.0,999.0 1353.4,987.9 1353.8,984.0 1354.2,992.1 1354.6,972.5 1355.0,994.1 1355.4,986.1 1355.8,1003.3 1356.2,1001.5 1356.6,991.0 1357.0,990.0 1357.4,984.6 1357.8,991.1 1358.2,996.5 1358.6,978.5 1359.0,977.6 1359.4,991.1 1359.8,981.4 1360.2,988.7 1360.6,988.5 1361.0,988.8 1361.4,986.2 1361.8,991.9 1362.2,997.3 1362.6,998.7 1363.0,985.7 1363.4,988.9 1363.8,988.8 1364.2,978.5 1364.6,978.2 1365.0,987.6 1365.4,991.5 1365.8,993.5 1366.2,984.3 1366.6,992.9 1367.0,987.9 1367.4,985.9 1367.8,995.3 1368.2,977.9 1368.6,973.9 1369.0,1001.7 1369.4,988.9 1369.8,994.4 1370.2,988.7 1370.6,984.9 1371.0,982.0 1371.4,977.8 1371.8,990.9 1372.2,982.9 1372.6,989.1 1373.0,991.7 1373.4,989.5 1373.8,990.6 1374.2,999.8 1374.6,993.8 1375.0,991.9 1375.4,989.3 1375.8,999.9 1376.2,999.0 1376.6,986.9 1377.0,993.3 1377.4,990.0 1377.8,988.1 1378.2,985.2 1378.6,1002.9 1379.0,994.8 1379.4,977.5 1379.8,998.3 1380.2,1003.0 1380.6,992.4 1381.0,991.3 1381.4,992.8 1381.8,998.0 1382.2,988.4 1382.6,994.7 1383.0,982.3 1383.4,999.8 1383.8,984.9 1384.2,989.9 1384.6,995.1 1385.0,999.1 1385.4,987.9 1385.8,988.2 1386.2,1002.5 1386.6,988.6 1387.0,987.5 1387.4,989.6 1387.8,997.4 1388.2,997.6 1388.6,999.7 1389.0,996.0 1389.4,990.6 1389.8,996.3 1390.2,998.3 1390.6,986.0 1391.0,989.5 1391.4,993.4 1391.8,1004.3 1392.2,991.7 1392.6,994.7 1393.0,994.2 1393.4,996.4 1393.8,998.2 1394.2,987.4 1394.6,975.6 1395.0,999.3 1395.4,980.6 1395.8,996.3 1396.2,997.1 1396.6,999.0 1397.0,987.7 1397.4,996.7 1397.8,999.0 1398.2,999.2 1398.6,1002.9 1399.0,988.3 1399.4,991.4 1399.8,993.1 1400.2,994.6 1400.6,1001.6 1401.0,1000.5 1401.4,995.8 1401.8,1006.6 1402.2,999.2 1402.6,987.7 1403.0,1003.8 1403.4,986.9 1403.8,987.1 1404.2,992.7 1404.6,992.4 1405.0,994.8 1405.4,995.6 1405.8,990.4 1406.2,990.8 1406.6,1000.1 1407.0,997.6 1407.4,994.3 1407.8,990.5 1408.2,996.0 1408.6,989.4 1409.0,987.4 1409.4,1002.6 1409.8,1000.6 1410.2,993.9 1410.6,1006.6 1411.0,995.6 1411.4,1000.6 1411.8,999.6 1412.2,997.2 1412.6,997.4 1413.0,1006.6 1413.4,1002.6 1413.8,984.6 1414.2,1000.7 1414.6,982.5 1415.0,990.1 1415.4,999.9 1415.8,989.9 1416.2,1005.2 1416.6,994.8 1417.0,1001.1 1417.4,999.2 1417.8,1002.5 1418.2,1006.0 1418.6,987.9 1419.0,997.1 1419.4,998.9 1419.8,1004.4 1420.2,1001.3 1420.6,995.9 1421.0,988.9 1421.4,987.4 1421.8,991.9 1422.2,999.1 1422.6,999.0 1423.0,1007.4 1423.4,1000.0 1423.8,1003.2 1424.2,989.1 1424.6,999.8 1425.0,995.0 1425.4,994.4 1425.8,1006.5 1426.2,998.3 1426.6,997.9 1427.0,998.5 1427.4,989.7 1427.8,988.0 1428.2,1011.1 1428.6,999.1 1429.0,998.7 1429.4,1000.3 1429.8,995.9 1430.2,997.1 1430.6,993.4 1431.0,1001.3 1431.4,998.2 1431.8,1006.0 1432.2,1009.5 1432.6,992.5 1433.0,1004.0 1433.4,997.0 1433.8,1013.9 1434.2,1001.2 1434.6,1006.4 1435.0,996.9 1435.4,1008.4 1435.8,995.5 1436.2,992.3 1436.6,984.6 1437.0,1000.3 1437.4,998.1 1437.8,1002.0 1438.2,995.0 1438.6,1000.9 1439.0,1001.0 1439.4,994.2 1439.8,1014.0 1440.2,1016.1 1440.6,1003.6 1441.0,1005.5 1441.4,1006.4 1441.8,1007.0 1442.2,997.2 1442.6,1004.4 1443.0,1014.5 1443.4,1001.8 1443.8,1001.4 1444.2,997.2 1444.6,1000.6 1445.0,989.3 1445.4,1003.4 1445.8,1010.9 1446.2,1006.1 1446.6,1005.2 1447.0,1004.7 1447.4,1004.9 1447.8,997.7 1448.2,992.4 1448.6,1017.0 1449.0,1008.4 1449.4,990.9 1449.8,1015.9 1450.2,1002.8 1450.6,1012.0 1451.0,1005.0 1451.4,1001.7 1451.8,1011.6 1452.2,1003.9 1452.6,990.2 1453.0,1010.1 1453.4,1006.0 1453.8,1006.2 1454.2,1004.7 1454.6,1009.7 1455.0,1017.0 1455.4,1013.8 1455.8,1009.3 1456.2,1008.1 1456.6,1002.7 1457.0,1029.3 1457.4,995.0 1457.8,1001.3 1458.2,1006.9 1458.6,1010.3 1459.0,1010.0 1459.4,1005.7 1459.8,1020.9 1460.2,1016.7 1460.6,996.3 1461.0,1002.5 1461.4,999.9 1461.8,1018.3 1462.2,1006.2 1462.6,999.0 1463.0,1007.4 1463.4,1000.8 1463.8,1010.6 1464.2,1014.2 1464.6,1002.2 1465.0,1011.3 1465.4,1012.0 1465.8,1005.3 1466.2,1013.4 1466.6,1005.9 1467.0,1014.7 1467.4,1009.6 1467.8,1007.6 1468.2,1020.0 1468.6,1017.3 1469.0,1008.9 1469.4,990.2 1469.8,1012.8 1470.2,1007.8 1470.6,1013.8 1471.0,1011.3 1471.4,1009.4 1471.8,1007.7 1472.2,1020.7 1472.6,1021.4 1473.0,1020.2 1473.4,1004.2 1473.8,1009.3 1474.2,1013.0 1474.6,999.1 1475.0,1018.9 1475.4,1004.7 1475.8,1018.6 1476.2,1008.5 1476.6,1014.8 1477.0,1000.8 1477.4,995.6 1477.8,1007.3 1478.2,1003.2 1478.6,1003.6 1479.0,1009.2 1479.4,1014.3 1479.8,1017.8 1480.2,1006.3 1480.6,1002.7 1481.0,1011.9 1481.4,1005.4 1481.8,1004.6 1482.2,1009.7 1482.6,1020.1 1483.0,1014.7 1483.4,999.0 1483.8,1026.0 1484.2,1004.3 1484.6,1014.2 1485.0,1008.0 1485.4,1019.8 1485.8,1016.3 1486.2,1027.4 1486.6,1015.3 1487.0,1012.9 1487.4,1022.0 1487.8,1001.4 1488.2,1005.7 1488.6,1004.7 1489.0,1013.2 1489.4,1011.2 1489.8,1008.9 1490.2,1019.5 1490.6,1018.3 1491.0,1011.7 1491.4,1005.7 1491.8,1029.4 1492.2,1017.5 1492.6,1011.6 1493.0,1016.7 1493.4,1018.1 1493.8,1011.6 1494.2,1021.1 1494.6,1017.1 1495.0,1013.2 1495.4,1024.0 1495.8,1013.8 1496.2,1025.4 1496.6,1017.9 1497.0,1015.4 1497.4,1025.0 1497.8,1014.8 1498.2,1021.1 1498.6,1026.5 1499.0,1015.2 1499.4,1013.8 1499.8,1023.0 1500.2,1024.6 1500.6,1003.6 1501.0,1021.6 1501.4,1025.9 1501.8,1014.8 1502.2,1025.2 1502.6,1016.6 1503.0,1014.5 1503.4,1016.8 1503.8,1023.9 1504.2,1016.7 1504.6,1015.6 1505.0,1019.5 1505.4,1024.7 1505.8,1006.0 1506.2,1026.9 1506.6,1029.1 1507.0,1012.8 1507.4,1019.3 1507.8,1022.9 1508.2,1020.7 1508.6,1032.5 1509.0,1021.1 1509.4,1016.6 1509.8,1017.7 1510.2,1022.7 1510.6,1015.6 1511.0,1016.6 1511.4,1017.2 1511.8,1041.0 1512.2,1025.1 1512.6,1013.3 1513.0,1024.4 1513.4,1003.6 1513.8,1021.3 1514.2,1025.5 1514.6,1023.9 1515.0,1025.3 1515.4,1023.2 1515.8,1017.5 1516.2,1020.7 1516.6,1020.5 1517.0,1012.5 1517.4,1022.8 1517.8,1015.9 1518.2,1026.8 1518.6,1037.7 1519.0,1036.9 1519.4,1040.3 1519.8,1020.4 1520.2,1020.2 1520.6,1027.6 1521.0,1017.4 1521.4,1027.7 1521.8,1019.8 1522.2,1025.8 1522.6,1021.1 1523.0,1034.2 1523.4,1031.5 1523.8,1029.4 1524.2,1015.9 1524.6,1032.2 1525.0,1021.6 1525.4,1015.4 1525.8,1026.5 1526.2,1037.8 1526.6,1014.8 1527.0,1029.9 1527.4,1023.3 1527.8,1023.6 1528.2,1028.3 1528.6,1022.9 1529.0,1020.7 1529.4,1032.4 1529.8,1009.0 1530.2,1038.1 1530.6,1017.0 1531.0,1033.6 1531.4,1017.8 1531.8,1034.8 1532.2,1014.4 1532.6,1037.8 1533.0,1027.0 1533.4,1024.7 1533.8,1024.1 1534.2,1033.1 1534.6,1025.2 1535.0,1030.5 1535.4,1027.6 1535.8,1019.4 1536.2,1037.9 1536.6,1025.7 1537.0,1028.9 1537.4,1028.7 1537.8,1027.2 1538.2,1038.4 1538.6,1029.8 1539.0,1025.5 1539.4,1027.9 1539.8,1025.4 1540.2,1020.1 1540.6,1035.0 1541.0,1021.2 1541.4,1035.8 1541.8,1028.4 1542.2,1033.4 1542.6,1027.8 1543.0,1026.1 1543.4,1043.4 1543.8,1025.7 1544.2,1022.1 1544.6,1031.2 1545.0,1037.7 1545.4,1020.1 1545.8,1025.1 1546.2,1034.3 1546.6,1035.0 1547.0,1032.6 1547.4,1026.1 1547.8,1030.4 1548.2,1024.5 1548.6,1032.2 1549.0,1029.3 1549.4,1031.2 1549.8,1028.0 1550.2,1034.1 1550.6,1029.9 1551.0,1024.7 1551.4,1039.0 1551.8,1031.3 1552.2,1028.0 1552.6,1028.8 1553.0,1039.7 1553.4,1030.6 1553.8,1032.0 1554.2,1024.8 1554.6,1027.9 1555.0,1026.4 1555.4,1024.7 1555.8,1023.3 1556.2,1028.1 1556.6,1021.9 1557.0,1034.5 1557.4,1035.4 1557.8,1024.6 1558.2,1033.1 1558.6,1025.8 1559.0,1032.5 1559.4,1033.3 1559.8,1019.6 1560.2,1014.5 1560.6,1033.7 1561.0,1033.8 1561.4,1030.5 1561.8,1027.1 1562.2,1026.0 1562.6,1013.9 1563.0,1039.9 1563.4,1016.1 1563.8,1032.3 1564.2,1029.4 1564.6,1032.9 1565.0,1022.9 1565.4,1025.5 1565.8,1033.9 1566.2,1023.8 1566.6,1031.7 1567.0,1022.6 1567.4,1032.4 1567.8,1034.4 1568.2,1031.6 1568.6,1035.0 1569.0,1024.0 1569.4,1028.1 1569.8,1029.4 1570.2,1040.9 1570.6,1028.0 1571.0,1031.9 1571.4,1039.6 1571.8,1033.2 1572.2,1037.8 1572.6,1025.2 1573.0,1038.5 1573.4,1032.2 1573.8,1035.5 1574.2,1036.8 1574.6,1020.0 1575.0,1039.7 1575.4,1029.7 1575.8,1040.0 1576.2,1030.8 1576.6,1034.0 1577.0,1022.7 1577.4,1025.3 1577.8,1039.6 1578.2,1027.6 1578.6,1034.7 1579.0,1032.7 1579.4,1025.9 1579.8,1031.8 1580.2,1032.4 1580.6,1037.3 1581.0,1030.9 1581.4,1029.7 1581.8,1042.7 1582.2,1043.1 1582.6,1034.5 1583.0,1027.6 1583.4,1036.8 1583.8,1031.0 1584.2,1043.5 1584.6,1034.3 1585.0,1030.4 1585.4,1032.6 1585.8,1028.7 1586.2,1034.4 1586.6,1026.6 1587.0,1036.3 1587.4,1040.4 1587.8,1038.2 1588.2,1029.3 1588.6,1037.8 1589.0,1032.7 1589.4,1018.1 1589.8,1034.8 1590.2,1041.1 1590.6,1037.0 1591.0,1033.4 1591.4,1031.5 1591.8,1035.4 1592.2,1038.8 1592.6,1037.0 1593.0,1043.5 1593.4,1041.3 1593.8,1042.6 1594.2,1034.5 1594.6,1039.3 1595.0,1036.8 1595.4,1039.2 1595.8,1038.7 1596.2,1052.6 1596.6,1029.7 1597.0,1039.5 1597.4,1034.2 1597.8,1040.0 1598.2,1039.1 1598.6,1047.4 1599.0,1036.8 1599.4,1033.5 1599.8,1040.0 1600.2,1039.8 1600.6,1024.5 1601.0,1050.2 1601.4,1032.5 1601.8,1048.2 1602.2,1046.4 1602.6,1047.4 1603.0,1040.0 1603.4,1033.7 1603.8,1034.2 1604.2,1047.0 1604.6,1036.2 1605.0,1041.8 1605.4,1037.1 1605.8,1032.8 1606.2,1045.6 1606.6,1033.7 1607.0,1038.5 1607.4,1038.0 1607.8,1040.8 1608.2,1039.3 1608.6,1033.6 1609.0,1037.5 1609.4,1038.2 1609.8,1052.8 1610.2,1045.4 1610.6,1039.9 1611.0,1041.7 1611.4,1038.9 1611.8,1051.3 1612.2,1039.7 1612.6,1034.7 1613.0,1066.5 1613.4,1036.0 1613.8,1037.4 1614.2,1034.9 1614.6,1043.9 1615.0,1037.0 1615.4,1036.4 1615.8,1047.8 1616.2,1050.7 1616.6,1043.7 1617.0,1035.0 1617.4,1045.0 1617.8,1037.9 1618.2,1045.2 1618.6,1043.9 1619.0,1034.6 1619.4,1047.8 1619.8,1042.2 1620.2,1041.9 1620.6,1035.5 1621.0,1048.4 1621.4,1038.0 1621.8,1043.2 1622.2,1036.1 1622.6,1034.7 1623.0,1034.8 1623.4,1023.8 1623.8,1040.2 1624.2,1051.3 1624.6,1049.7 1625.0,1037.4 1625.4,1037.9 1625.8,1052.8 1626.2,1048.1 1626.6,1043.2 1627.0,1040.8 1627.4,1040.7 1627.8,1028.3 1628.2,1039.3 1628.6,1056.7 1629.0,1053.6 1629.4,1041.7 1629.8,1048.6 1630.2,1047.4 1630.6,1040.0 1631.0,1038.0 1631.4,1040.1 1631.8,1045.0 1632.2,1052.3 1632.6,1045.5 1633.0,1044.0 1633.4,1042.4 1633.8,1052.1 1634.2,1054.7 1634.6,1045.8 1635.0,1042.8 1635.4,1046.4 1635.8,1048.2 1636.2,1052.0 1636.6,1050.8 1637.0,1039.7 1637.4,1044.0 1637.8,1042.1 1638.2,1048.9 1638.6,1037.8 1639.0,1033.5 1639.4,1045.4 1639.8,1039.1 1640.2,1042.2 1640.6,1044.3 1641.0,1039.4 1641.4,1045.7 1641.8,1038.0 1642.2,1037.8 1642.6,1048.7 1643.0,1043.4 1643.4,1052.5 1643.8,1047.3 1644.2,1041.0 1644.6,1042.1 1645.0,1039.1 1645.4,1045.6 1645.8,1049.1 1646.2,1045.7 1646.6,1047.9 1647.0,1039.8 1647.4,1053.8 1647.8,1049.7 1648.2,1052.3 1648.6,1038.9 1649.0,1044.8 1649.4,1041.5 1649.8,1056.2 1650.2,1045.1 1650.6,1060.6 1651.0,1049.3 1651.4,1042.9 1651.8,1054.3 1652.2,1057.6 1652.6,1045.6 1653.0,1043.2 1653.4,1046.5 1653.8,1039.5 1654.2,1040.3 1654.6,1033.4 1655.0,1043.4 1655.4,1039.0 1655.8,1048.1 1656.2,1049.0 1656.6,1053.7 1657.0,1048.9 1657.4,1045.9 1657.8,1055.5 1658.2,1043.1 1658.6,1034.2 1659.0,1039.0 1659.4,1044.9 1659.8,1051.1 1660.2,1058.7 1660.6,1041.5 1661.0,1054.6 1661.4,1050.3 1661.8,1052.0 1662.2,1041.7 1662.6,1046.6 1663.0,1034.8 1663.4,1048.8 1663.8,1045.9 1664.2,1052.7 1664.6,1055.4 1665.0,1042.8 1665.4,1054.2 1665.8,1060.4 1666.2,1047.0 1666.6,1060.5 1667.0,1043.9 1667.4,1039.9 1667.8,1049.1 1668.2,1059.9 1668.6,1052.5 1669.0,1038.3 1669.4,1046.0 1669.8,1057.0 1670.2,1044.8 1670.6,1048.5 1671.0,1043.1 1671.4,1061.9 1671.8,1060.3 1672.2,1041.7 1672.6,1038.5 1673.0,1053.4 1673.4,1052.7 1673.8,1050.1 1674.2,1050.9 1674.6,1048.4 1675.0,1056.1 1675.4,1055.8 1675.8,1058.6 1676.2,1056.1 1676.6,1047.1 1677.0,1048.0 1677.4,1049.0 1677.8,1051.5 1678.2,1046.6 1678.6,1045.7 1679.0,1049.4 1679.4,1048.2 1679.8,1050.2 1680.2,1061.2 1680.6,1059.5 1681.0,1048.1 1681.4,1051.9 1681.8,1049.5 1682.2,1041.6 1682.6,1054.7 1683.0,1039.1 1683.4,1052.6 1683.8,1049.4 1684.2,1043.5 1684.6,1054.3 1685.0,1057.4 1685.4,1052.9 1685.8,1054.0 1686.2,1045.8 1686.6,1054.2 1687.0,1060.8 1687.4,1044.5 1687.8,1065.5 1688.2,1040.5 1688.6,1057.3 1689.0,1048.0 1689.4,1053.2 1689.8,1051.7 1690.2,1052.0 1690.6,1058.3 1691.0,1050.2 1691.4,1053.4 1691.8,1059.6 1692.2,1051.4 1692.6,1038.8 1693.0,1048.9 1693.4,1048.8 1693.8,1046.8 1694.2,1056.5 1694.6,1053.2 1695.0,1047.7 1695.4,1049.1 1695.8,1043.7 1696.2,1049.4 1696.6,1064.8 1697.0,1042.1 1697.4,1065.0 1697.8,1052.7 1698.2,1051.8 1698.6,1049.6 1699.0,1045.3 1699.4,1057.2 1699.8,1051.2 1700.2,1049.1 1700.6,1053.0 1701.0,1063.2 1701.4,1050.5 1701.8,1052.5 1702.2,1062.1 1702.6,1047.1 1703.0,1059.1 1703.4,1069.2 1703.8,1053.7 1704.2,1043.4 1704.6,1060.0 1705.0,1052.0 1705.4,1062.4 1705.8,1057.4 1706.2,1056.0 1706.6,1048.7 1707.0,1061.8 1707.4,1057.3 1707.8,1057.4 1708.2,1057.6 1708.6,1057.6 1709.0,1056.2 1709.4,1054.4 1709.8,1044.6 1710.2,1051.4 1710.6,1052.9 1711.0,1062.2 1711.4,1062.0 1711.8,1049.2 1712.2,1052.2 1712.6,1051.6 1713.0,1057.5 1713.4,1057.4 1713.8,1059.5" stroke="#000" stroke-width="4.5"/>
<polygon points="325.9,150.0 332.4,150.0 333.9,196.6 339.3,199.6 340.3,218.4 345.3,218.4 347.3,205.5 352.7,203.5 353.2,172.8 356.7,170.8 362.6,164.9 367.6,166.9 371.6,170.8 375.5,189.7 379.5,209.5 382.0,221.4 365.6,223.4 361.6,219.4 357.7,221.4 356.7,242.2 352.7,259.1 347.8,264.0 341.8,273.9 337.8,269.0 330.9,267.0 328.9,239.2 326.9,199.6" fill="#006000" stroke="none"/>
<polyline points="324.0,-103.4 324.4,-66.5 324.8,-38.1 325.2,-9.9 325.6,17.1 326.0,47.2 326.4,62.6 326.8,73.4 327.2,87.7 327.6,108.4 328.0,115.4 328.4,136.4 328.8,141.3 329.2,161.3 329.6,182.7 330.0,176.2 330.4,197.1 330.8,207.9 331.2,238.3 331.6,243.9 332.0,199.2 332.4,235.0 332.8,235.1 333.2,231.3 333.6,232.9 334.0,211.6 334.4,216.3 334.8,229.3 335.2,212.2 335.6,238.1 336.0,236.5 336.4,257.2 336.8,219.5 337.2,256.3 337.6,242.8 338.0,242.3 338.4,238.5 338.8,239.4 339.2,229.5 339.6,226.3 340.0,258.7 340.4,207.4 340.8,268.5 341.2,246.2 341.6,244.2 342.0,255.8 342.4,240.8 342.8,243.7 343.2,249.3 343.6,237.6 344.0,252.6 344.4,250.7 344.8,237.1 345.2,242.7 345.6,222.8 346.0,238.9 346.4,236.0 346.8,212.7 347.2,232.3 347.6,238.9 348.0,216.5 348.4,210.3 348.8,226.7 349.2,217.5 349.6,210.5 350.0,223.3 350.4,207.4 350.8,220.7 351.2,232.4 351.6,220.3 352.0,216.8 352.4,198.8 352.8,228.2 353.2,205.8 353.6,229.1 354.0,198.9 354.4,204.2 354.8,186.9 355.2,203.8 355.6,183.2 356.0,197.4 356.4,212.7 356.8,201.2 357.2,180.3 357.6,200.2 358.0,179.7 358.4,186.5 358.8,183.3 359.2,183.6 359.6,185.6 360.0,164.2 360.4,193.4 360.8,182.7 361.2,174.1 361.6,185.3 362.0,194.9 362.4,174.0 362.8,188.2 363.2,182.0 363.6,183.6 364.0,178.4 364.4,183.5 364.8,188.3 365.2,170.9 365.6,177.3 366.0,179.6 366.4,179.3 366.8,170.6 367.2,179.7 367.6,175.5 368.0,188.4 368.4,186.0 368.8,188.3 369.2,191.0 369.6,185.2 370.0,182.2 370.4,196.9 370.8,189.2 371.2,188.7 371.6,207.8 372.0,184.3 372.4,204.1 372.8,209.6 373.2,197.5 373.6,196.9 374.0,206.3 374.4,198.3 374.8,190.5 375.2,217.4 375.6,223.3 376.0,201.4 376.4,220.0 376.8,218.0 377.2,218.6 377.6,227.3 378.0,220.5 378.4,224.3 378.8,231.0 379.2,235.6 379.6,216.1 380.0,249.7 380.4,248.6 380.8,256.9 381.2,251.1 381.6,248.6 382.0,267.1 382.4,273.0 382.8,283.9 383.2,289.5 383.6,284.8 384.0,291.0 384.4,306.4 384.8,318.6 385.2,320.7 385.6,322.4 386.0,333.2 386.4,321.0 386.8,340.2 387.2,327.6 387.6,366.3 388.0,341.7 388.4,391.6 388.8,376.7 389.2,384.1 389.6,388.1 390.0,383.5 390.4,393.1 390.8,411.9 391.2,393.8 391.6,406.3 392.0,421.5 392.4,412.1 392.8,438.0 393.2,416.9 393.6,425.4 394.0,437.4 394.4,434.7 394.8,443.9 395.2,451.5 395.6,454.5 396.0,464.2 396.4,469.6 396.8,474.1 397.2,477.9 397.6,481.4 398.0,488.4 398.4,493.2 398.8,501.1 399.2,512.9 399.6,496.1 400.0,522.1 400.4,517.5 400.8,522.4 401.2,511.9 401.6,522.5 402.0,526.2 402.4,523.8 402.8,536.0 403.2,521.4 403.6,527.1 404.0,545.6 404.4,544.4 404.8,528.0 405.2,549.8 405.6,549.6 406.0,558.7 406.4,552.5 406.8,555.4 407.2,548.2 407.6,558.8 408.0,558.3 408.4,569.5 408.8,547.4 409.2,568.5 409.6,581.4 410.0,546.7 410.4,581.4 410.8,581.1 411.2,580.2 411.6,584.2 412.0,576.1 412.4,593.0 412.8,589.2 413.2,571.2 413.6,596.9 414.0,581.2 414.4,584.5 414.8,599.9 415.2,594.0 415.6,601.6 416.0,604.4 416.4,602.5 416.8,609.6 417.2,592.2 417.6,626.2 418.0,620.0 418.4,606.9 418.8,611.0 419.2,631.8 419.6,610.3 420.0,604.7 420.4,644.0 420.8,638.5 421.2,631.0 421.6,645.9 422.0,635.7 422.4,640.1 422.8,640.9 423.2,644.5 423.6,629.4 424.0,641.7 424.4,646.8 424.8,635.0 425.2,635.2 425.6,649.7 426.0,669.1 426.4,655.1 426.8,670.3 427.2,675.6 427.6,680.0 428.0,676.5 428.4,656.1 428.8,655.1 429.2,668.2 429.6,679.2 430.0,683.6 430.4,682.7 430.8,686.7 431.2,698.9 431.6,683.5 432.0,704.0 432.4,706.2 432.8,685.6 433.2,707.2 433.6,707.8 434.0,715.7 434.4,717.5 434.8,693.3 435.2,736.6 435.6,721.0 436.0,731.7 436.4,733.1 436.8,716.3 437.2,727.7 437.6,728.3 438.0,754.1 438.4,720.7 438.8,751.5 439.2,746.8 439.6,738.6 440.0,722.5 440.4,741.0 440.8,751.4 441.2,736.9 441.6,750.1 442.0,755.7 442.4,758.0 442.8,749.1 443.2,760.6 443.6,768.9 444.0,736.8 444.4,746.6 444.8,745.6 445.2,753.7 445.6,770.3 446.0,769.0 446.4,769.1 446.8,761.3 447.2,778.1 447.6,753.2 448.0,756.3 448.4,778.8 448.8,770.2 449.2,785.0 449.6,784.1 450.0,786.3 450.4,770.0 450.8,773.6 451.2,763.7 451.6,781.6 452.0,782.6 452.4,778.2 452.8,782.5 453.2,788.3 453.6,803.8 454.0,782.9 454.4,783.7 454.8,790.0 455.2,797.9 455.6,812.1 456.0,804.1 456.4,771.3 456.8,765.5 457.2,789.7 457.6,772.9 458.0,806.8 458.4,791.7 458.8,788.6 459.2,800.8 459.6,806.8 460.0,801.0 460.4,805.5 460.8,816.1 461.2,797.0 461.6,808.6 462.0,790.6 462.4,798.3 462.8,821.9 463.2,805.0 463.6,803.4 464.0,822.7 464.4,810.7 464.8,825.8 465.2,836.9 465.6,840.9 466.0,817.3 466.4,823.9 466.8,815.7 467.2,840.0 467.6,829.3 468.0,853.0 468.4,820.9 468.8,826.2 469.2,774.9 469.6,821.7 470.0,823.4 470.4,835.7 470.8,841.9 471.2,825.0 471.6,832.9 472.0,841.2 472.4,835.5 472.8,844.1 473.2,854.2 473.6,833.3 474.0,843.7 474.4,853.4 474.8,843.7 475.2,859.6 475.6,841.8 476.0,857.4 476.4,849.8 476.8,854.4 477.2,842.7 477.6,861.4 478.0,840.0 478.4,863.2 478.8,853.8 479.2,857.3 479.6,868.8 480.0,842.8 480.4,865.5 480.8,862.5 481.2,854.7 481.6,869.0 482.0,861.7 482.4,881.7 482.8,859.0 483.2,880.7 483.6,880.0 484.0,870.6 484.4,861.2 484.8,868.7 485.2,856.9 485.6,863.9 486.0,865.7 486.4,876.3 486.8,859.6 487.2,879.1 487.6,871.0 488.0,886.1 488.4,883.4 488.8,872.3 489.2,881.8 489.6,882.4 490.0,875.9 490.4,879.4 490.8,881.6 491.2,873.9 491.6,872.4 492.0,887.6 492.4,868.7 492.8,892.1 493.2,896.4 493.6,884.9 494.0,894.3 494.4,883.2 494.8,898.2 495.2,923.4 495.6,898.3 496.0,893.7 496.4,894.8 496.8,882.0 497.2,889.5 497.6,894.7 498.0,892.3 498.4,900.1 498.8,912.5 499.2,886.9 499.6,895.2 500.0,903.7 500.4,891.4 500.8,894.7 501.2,909.5 501.6,911.2 502.0,911.4 502.4,896.9 502.8,913.1 503.2,916.7 503.6,904.7 504.0,910.5 504.4,908.0 504.8,909.1 505.2,907.0 505.6,917.1 506.0,905.7 506.4,931.4 506.8,921.6 507.2,913.4 507.6,938.6 508.0,918.9 508.4,895.6 508.8,929.7 509.2,926.4 509.6,919.8 510.0,921.5 510.4,915.6 510.8,910.4 511.2,912.0 511.6,948.1 512.0,917.9 512.4,926.1 512.8,943.2 513.2,919.0 513.6,925.8 514.0,922.8 514.4,913.1 514.8,933.4 515.2,935.1 515.6,927.4 516.0,928.2 516.4,937.1 516.8,938.4 517.2,951.4 517.6,939.7 518.0,941.3 518.4,927.6 518.8,921.1 519.2,947.8 519.6,927.5 520.0,943.0 520.4,937.8 520.8,929.4 521.2,940.5 521.6,955.6 522.0,952.7 522.4,931.4 522.8,937.7 523.2,920.7 523.6,929.4 524.0,936.4 524.4,942.4 524.8,947.3 525.2,939.2 525.6,956.2 526.0,935.8 526.4,952.1 526.8,935.9 527.2,942.8 527.6,948.7 528.0,955.0 528.4,941.0 528.8,944.4 529.2,946.6 529.6,952.1 530.0,964.1 530.4,957.3 530.8,947.8 531.2,948.5 531.6,964.2 532.0,965.8 532.4,963.1 532.8,953.4 533.2,945.0 533.6,946.9 534.0,955.9 534.4,944.9 534.8,954.0 535.2,977.2 535.6,963.2 536.0,965.3 536.4,947.9 536.8,971.8 537.2,954.9 537.6,959.8 538.0,963.5 538.4,960.6 538.8,955.2 539.2,966.9 539.6,981.5 540.0,958.5 540.4,970.5 540.8,952.1 541.2,966.3 541.6,957.6 542.0,978.0 542.4,960.5 542.8,971.3 543.2,966.5 543.6,954.5 544.0,967.0 544.4,966.9 544.8,975.1 545.2,966.2 545.6,951.3 546.0,959.2 546.4,964.3 546.8,976.2 547.2,966.7 547.6,979.3 548.0,968.5 548.4,975.2 548.8,981.5 549.2,974.0 549.6,957.1 550.0,984.2 550.4,971.9 550.8,982.0 551.2,949.0 551.6,975.2 552.0,975.3 552.4,972.0 552.8,975.6 553.2,967.8 553.6,969.1 554.0,982.5 554.4,976.5 554.8,985.9 555.2,983.2 555.6,973.6 556.0,980.8 556.4,978.1 556.8,986.4 557.2,997.3 557.6,983.0 558.0,978.6 558.4,1003.1 558.8,981.6 559.2,978.0 559.6,981.7 560.0,966.1 560.4,999.7 560.8,996.4 561.2,996.7 561.6,992.4 562.0,986.2 562.4,983.6 562.8,981.9 563.2,995.8 563.6,997.9 564.0,997.0 564.4,981.3 564.8,1008.1 565.2,984.6 565.6,991.9 566.0,991.9 566.4,988.4 566.8,973.1 567.2,982.7 567.6,988.9 568.0,1003.0 568.4,991.0 568.8,998.0 569.2,984.9 569.6,992.6 570.0,1006.8 570.4,1012.6 570.8,1002.9 571.2,1002.4 571.6,999.1 572.0,997.1 572.4,999.5 572.8,1007.7 573.2,993.6 573.6,990.3 574.0,1005.2 574.4,995.5 574.8,1004.3 575.2,992.3 575.6,1003.8 576.0,998.4 576.4,997.8 576.8,1008.6 577.2,997.9 577.6,983.3 578.0,993.5 578.4,1002.2 578.8,1018.3 579.2,1001.8 579.6,995.4 580.0,1000.9 580.4,1014.7 580.8,1009.5 581.2,1010.8 581.6,1011.7 582.0,1020.0 582.4,997.3 582.8,1019.2 583.2,1013.6 583.6,1001.3 584.0,1015.2 584.4,1021.0 584.8,1008.2 585.2,1018.7 585.6,993.5 586.0,999.0 586.4,1015.4 586.8,1012.3 587.2,1017.4 587.6,1016.4 588.0,1019.6 588.4,1001.4 588.8,1001.8 589.2,1022.9 589.6,1016.8 590.0,1014.8 590.4,1013.4 590.8,1027.9 591.2,1009.8 591.6,1018.8 592.0,1027.5 592.4,1011.8 592.8,1012.0 593.2,1014.4 593.6,1001.6 594.0,1026.2 594.4,1025.4 594.8,1032.4 595.2,1018.3 595.6,1022.2 596.0,1024.4 596.4,1032.3 596.8,1022.4 597.2,1023.8 597.6,1015.2 598.0,1023.3 598.4,1020.9 598.8,1029.1 599.2,1027.0 599.6,1013.0 600.0,1013.7 600.4,1024.7 600.8,1019.1 601.2,1024.7 601.6,1031.2 602.0,1013.4 602.4,1026.0 602.8,1016.0 603.2,1023.1 603.6,1022.6 604.0,1015.6 604.4,1006.6 604.8,1021.0 605.2,1015.1 605.6,1025.3 606.0,1025.0 606.4,1031.2 606.8,1028.5 607.2,1010.7 607.6,1012.2 608.0,1018.5 608.4,1024.2 608.8,1027.1 609.2,1020.5 609.6,1028.0 610.0,1019.1 610.4,1033.7 610.8,1022.9 611.2,1022.6 611.6,1023.0 612.0,1026.8 612.4,1037.4 612.8,1028.5 613.2,1034.1 613.6,1022.3 614.0,1032.3 614.4,1033.2 614.8,1035.0 615.2,1021.5 615.6,1022.1 616.0,1028.7 616.4,1032.7 616.8,1022.9 617.2,1030.1 617.6,1039.9 618.0,1015.6 618.4,1020.5 618.8,1027.9 619.2,1032.7 619.6,1029.4 620.0,1033.3 620.4,1039.5 620.8,1026.8 621.2,992.0 621.6,1039.8 622.0,1019.0 622.4,1036.5 622.8,1039.8 623.2,1032.9 623.6,1027.2 624.0,1032.3 624.4,1027.5 624.8,1045.0 625.2,1035.8 625.6,1032.1 626.0,1034.7 626.4,1035.5 626.8,1039.2 627.2,1034.4 627.6,1027.0 628.0,1030.5 628.4,1025.2 628.8,1023.1 629.2,1034.4 629.6,1029.1 630.0,1031.8 630.4,1037.5 630.8,1039.5 631.2,1034.1 631.6,1029.8 632.0,1038.2 632.4,1028.3 632.8,1044.2 633.2,1030.9 633.6,1041.9 634.0,1027.3 634.4,1040.0 634.8,1037.6 635.2,1033.7 635.6,1042.0 636.0,1038.5 636.4,1035.7 636.8,1035.1 637.2,1038.6 637.6,1036.4 638.0,1030.2 638.4,1030.8 638.8,1034.7 639.2,1027.8 639.6,1022.6 640.0,1041.7 640.4,1032.3 640.8,1051.8 641.2,1037.8 641.6,1042.0 642.0,1041.9 642.4,1037.1 642.8,1034.4 643.2,1026.1 643.6,1029.6 644.0,1027.9 644.4,1027.4 644.8,1026.9 645.2,1038.8 645.6,1014.0 646.0,1048.5 646.4,1032.1 646.8,1040.6 647.2,1040.0 647.6,1041.0 648.0,1037.5 648.4,1037.0 648.8,1039.2 649.2,1044.5 649.6,1043.5 650.0,1040.1 650.4,1028.9 650.8,1033.0 651.2,1039.7 651.6,1047.3 652.0,1049.3 652.4,1035.5 652.8,1041.9 653.2,1035.8 653.6,1033.3 654.0,1040.4 654.4,1043.9 654.8,1041.7 655.2,1024.2 655.6,1048.2 656.0,1026.0 656.4,1047.8 656.8,1050.3 657.2,1062.3 657.6,1030.9 658.0,1037.4 658.4,1041.9 658.8,1044.3 659.2,1038.1 659.6,1049.1 660.0,1038.7 660.4,1041.9 660.8,1041.6 661.2,1047.1 661.6,1045.5 662.0,1031.4 662.4,1047.9 662.8,1035.5 663.2,1036.2 663.6,1037.7 664.0,1041.3 664.4,1047.2 664.8,1047.2 665.2,1033.1 665.6,1043.0 666.0,1050.8 666.4,1050.0 666.8,1045.1 667.2,1038.9 667.6,1048.1 668.0,1042.4 668.4,1034.8 668.8,1027.1 669.2,1047.9 669.6,1060.0 670.0,1058.2 670.4,1053.9 670.8,1048.1 671.2,1044.3 671.6,1046.5 672.0,1049.9 672.4,1037.3 672.8,1046.4 673.2,1043.0 673.6,1050.4 674.0,1050.0 674.4,1031.1 674.8,1035.0 675.2,1045.8 675.6,1049.7 676.0,1040.3 676.4,1048.0 676.8,1046.2 677.2,1042.7 677.6,1042.2 678.0,1049.0 678.4,1054.7 678.8,1042.8 679.2,1050.7 679.6,1048.6 680.0,1043.4 680.4,1043.4 680.8,1040.9 681.2,1048.5 681.6,1051.6 682.0,1045.7 682.4,1035.5 682.8,1048.4 683.2,1047.0 683.6,1045.3 684.0,1055.7 684.4,1042.6 684.8,1046.1 685.2,1049.4 685.6,1058.7 686.0,1041.3 686.4,1050.2 686.8,1036.3 687.2,1044.3 687.6,1047.1 688.0,1040.2 688.4,1053.0 688.8,1051.1 689.2,1044.2 689.6,1050.4 690.0,1044.8 690.4,1047.9 690.8,1048.4 691.2,1059.5 691.6,1044.1 692.0,1054.2 692.4,1058.4 692.8,1051.3 693.2,1055.0 693.6,1064.9 694.0,1043.7 694.4,1043.6 694.8,1055.5 695.2,1051.9 695.6,1062.2 696.0,1048.1 696.4,1052.7 696.8,1056.6 697.2,1037.8 697.6,1062.3 698.0,1053.1 698.4,1046.7 698.8,1048.8 699.2,1049.6 699.6,1062.4 700.0,1047.3 700.4,1070.2 700.8,1049.6 701.2,1056.8 701.6,1051.3 702.0,1053.8 702.4,1060.7 702.8,1053.6 703.2,1050.3 703.6,1061.2 704.0,1068.5 704.4,1053.4 704.8,1053.1 705.2,1051.2 705.6,1045.8 706.0,1050.1 706.4,1057.8 706.8,1051.1 707.2,1057.6 707.6,1056.8 708.0,1059.9 708.4,1066.0 708.8,1055.4 709.2,1046.5 709.6,1057.5 710.0,1059.9 710.4,1068.3 710.8,1056.6 711.2,1051.8 711.6,1050.2 712.0,1060.6 712.4,1055.1 712.8,1069.2 713.2,1066.0 713.6,1057.0 714.0,1061.0 714.4,1057.5 714.8,1061.4 715.2,1048.0 715.6,1051.5 716.0,1068.6 716.4,1047.4 716.8,1050.5 717.2,1061.5 717.6,1051.2 718.0,1054.9 718.4,1051.8 718.8,1068.2 719.2,1057.3 719.6,1069.2 720.0,1059.9 720.4,1047.3 720.8,1059.4 721.2,1046.0 721.6,1065.1 722.0,1043.6 722.4,1066.0 722.8,1062.6 723.2,1069.1 723.6,1062.1 724.0,1061.0 724.4,1056.6 724.8,1055.0 725.2,1054.3 725.6,1057.1 726.0,1057.9 726.4,1075.6 726.8,1062.5 727.2,1053.5 727.6,1069.0 728.0,1060.5 728.4,1055.1 728.8,1060.8 729.2,1051.7 729.6,1063.8 730.0,1058.0 730.4,1067.5 730.8,1051.9 731.2,1061.9 731.6,1051.4 732.0,1073.2 732.4,1052.6 732.8,1074.3 733.2,1059.1 733.6,1068.0 734.0,1055.3 734.4,1058.9 734.8,1070.7 735.2,1052.0 735.6,1065.3 736.0,1050.3 736.4,1075.9 736.8,1068.9 737.2,1049.0 737.6,1059.2 738.0,1069.2 738.4,1077.6 738.8,1061.5 739.2,1049.2 739.6,1070.8 740.0,1056.7 740.4,1062.2 740.8,1059.0 741.2,1052.5 741.6,1046.7 742.0,1073.2 742.4,1063.4 742.8,1062.7 743.2,1058.5 743.6,1065.3 744.0,1055.2 744.4,1054.7 744.8,1053.1 745.2,1052.8 745.6,1064.9 746.0,1052.4 746.4,1076.2 746.8,1062.3 747.2,1060.0 747.6,1061.6 748.0,1074.4 748.4,1047.4 748.8,1063.8 749.2,1076.2 749.6,1071.5 750.0,1066.4 750.4,1061.5 750.8,1080.7 751.2,1061.4 751.6,1078.1 752.0,1058.1 752.4,1053.9 752.8,1065.1 753.2,1062.1 753.6,1048.2 754.0,1065.1 754.4,1082.7 754.8,1064.6 755.2,1068.8 755.6,1065.7 756.0,1065.9 756.4,1067.8 756.8,1067.3 757.2,1065.8 757.6,1069.1 758.0,1069.7 758.4,1067.9 758.8,1056.3 759.2,1061.0 759.6,1058.9 760.0,1065.4 760.4,1078.1 760.8,1069.4 761.2,1064.6 761.6,1081.9 762.0,1073.6 762.4,1063.3 762.8,1071.6 763.2,1075.6 763.6,1075.3 764.0,1064.5 764.4,1070.5 764.8,1064.4 765.2,1059.7 765.6,1072.9 766.0,1055.5 766.4,1068.4 766.8,1076.8 767.2,1074.1 767.6,1069.7 768.0,1072.9 768.4,1071.4 768.8,1079.7 769.2,1074.4 769.6,1076.0 770.0,1066.2 770.4,1070.2 770.8,1067.7 771.2,1078.7 771.6,1077.6 772.0,1072.7 772.4,1078.0 772.8,1072.8 773.2,1071.2 773.6,1076.6 774.0,1074.7 774.4,1089.0 774.8,1064.2 775.2,1080.1 775.6,1067.0 776.0,1079.1 776.4,1066.9 776.8,1061.9 777.2,1084.9 777.6,1072.9 778.0,1085.6 778.4,1069.4 778.8,1068.8 779.2,1083.2 779.6,1070.5 780.0,1075.2 780.4,1068.8 780.8,1073.4 781.2,1048.2 781.6,1072.6 782.0,1074.4 782.4,1081.9 782.8,1082.4 783.2,1075.0 783.6,1076.5 784.0,1075.6 784.4,1091.1 784.8,1071.4 785.2,1082.2 785.6,1077.4 786.0,1067.9 786.4,1080.8 786.8,1085.2 787.2,1079.4 787.6,1069.3 788.0,1081.5 788.4,1082.0 788.8,1074.7 789.2,1084.1 789.6,1066.7 790.0,1069.5 790.4,1074.3 790.8,1078.2 791.2,1084.6 791.6,1085.0 792.0,1073.3 792.4,1085.8 792.8,1089.7 793.2,1084.8 793.6,1078.2 794.0,1077.4 794.4,1073.5 794.8,1065.8 795.2,1074.0 795.6,1069.5 796.0,1080.9 796.4,1080.5 796.8,1082.3 797.2,1082.1 797.6,1083.3 798.0,1076.4 798.4,1077.7 798.8,1083.2 799.2,1090.4 799.6,1068.1 800.0,1072.8 800.4,1078.6 800.8,1073.4 801.2,1076.7 801.6,1080.7 802.0,1075.2 802.4,1086.4 802.8,1085.8 803.2,1086.3 803.6,1084.4 804.0,1086.7 804.4,1060.9 804.8,1091.9 805.2,1075.2 805.6,1096.7 806.0,1077.1 806.4,1084.4 806.8,1071.9 807.2,1074.2 807.6,1083.9 808.0,1085.3 808.4,1093.4 808.8,1088.7 809.2,1091.7 809.6,1096.7 810.0,1072.6 810.4,1093.5 810.8,1077.8 811.2,1085.7 811.6,1082.9 812.0,1089.9 812.4,1089.7 812.8,1087.9 813.2,1080.9 813.6,1071.2 814.0,1084.7 814.4,1084.1 814.8,1084.7 815.2,1088.4 815.6,1098.0 816.0,1092.4 816.4,1087.9 816.8,1081.2 817.2,1076.4 817.6,1095.5 818.0,1089.9 818.4,1085.5 818.8,1074.5 819.2,1082.9 819.6,1089.8 820.0,1088.5 820.4,1082.5 820.8,1087.0 821.2,1084.0 821.6,1083.0 822.0,1095.5 822.4,1091.0 822.8,1088.2 823.2,1082.8 823.6,1095.5 824.0,1076.7 824.4,1087.9 824.8,1078.6 825.2,1071.5 825.6,1082.8 826.0,1071.7 826.4,1083.9 826.8,1076.2 827.2,1085.9 827.6,1082.5 828.0,1075.1 828.4,1082.9 828.8,1080.5 829.2,1096.3 829.6,1095.9 830.0,1091.5 830.4,1092.3 830.8,1103.0 831.2,1088.3 831.6,1087.7 832.0,1097.6 832.4,1091.0 832.8,1080.4 833.2,1097.8 833.6,1088.2 834.0,1096.9 834.4,1097.9 834.8,1084.4 835.2,1087.4 835.6,1091.2 836.0,1078.4 836.4,1080.4 836.8,1088.2 837.2,1087.2 837.6,1080.8 838.0,1086.6 838.4,1090.0 838.8,1082.4 839.2,1081.7 839.6,1086.1 840.0,1079.7 840.4,1081.2 840.8,1084.5 841.2,1073.5 841.6,1083.1 842.0,1088.8 842.4,1080.0 842.8,1095.2 843.2,1089.6 843.6,1096.7 844.0,1087.0 844.4,1092.0 844.8,1087.1 845.2,1080.2 845.6,1091.8 846.0,1082.7 846.4,1091.7 846.8,1080.9 847.2,1088.0 847.6,1086.0 848.0,1096.8 848.4,1086.0 848.8,1096.0 849.2,1092.0 849.6,1099.0 850.0,1085.7 850.4,1095.3 850.8,1095.1 851.2,1093.6 851.6,1090.8 852.0,1098.9 852.4,1079.6 852.8,1094.5 853.2,1085.4 853.6,1093.0 854.0,1095.5 854.4,1092.0 854.8,1087.7 855.2,1083.1 855.6,1079.5 856.0,1084.8 856.4,1093.0 856.8,1079.4 857.2,1107.8 857.6,1089.5 858.0,1084.6 858.4,1097.3 858.8,1097.8 859.2,1093.1 859.6,1085.1 860.0,1090.9 860.4,1098.5 860.8,1095.9 861.2,1076.7 861.6,1096.2 862.0,1102.7 862.4,1085.8 862.8,1077.5 863.2,1085.4 863.6,1091.5 864.0,1089.5 864.4,1089.5 864.8,1069.5 865.2,1086.0 865.6,1085.8 866.0,1090.3 866.4,1098.8 866.8,1085.3 867.2,1098.6 867.6,1100.4 868.0,1097.9 868.4,1087.3 868.8,1107.7 869.2,1088.1 869.6,1089.5 870.0,1080.4 870.4,1084.3 870.8,1084.8 871.2,1100.8 871.6,1093.7 872.0,1093.4 872.4,1088.8 872.8,1088.4 873.2,1084.5 873.6,1088.9 874.0,1101.0 874.4,1090.0 874.8,1105.8 875.2,1095.6 875.6,1089.2 876.0,1100.8 876.4,1091.6 876.8,1098.9 877.2,1088.3 877.6,1102.1 878.0,1094.9 878.4,1093.6 878.8,1098.8 879.2,1088.5 879.6,1077.6 880.0,1086.4 880.4,1098.7 880.8,1103.1 881.2,1082.9 881.6,1096.0 882.0,1096.5 882.4,1083.0 882.8,1080.4 883.2,1104.8 883.6,1095.4 884.0,1090.2 884.4,1096.3 884.8,1081.0 885.2,1095.2 885.6,1091.8 886.0,1090.3 886.4,1100.3 886.8,1092.7 887.2,1092.8 887.6,1089.4 888.0,1087.0 888.4,1091.8 888.8,1103.0 889.2,1078.7 889.6,1085.0 890.0,1088.3 890.4,1097.0 890.8,1087.8 891.2,1096.7 891.6,1077.5 892.0,1085.1 892.4,1097.5 892.8,1075.8 893.2,1094.5 893.6,1102.0 894.0,1097.6 894.4,1098.1 894.8,1086.8 895.2,1084.6 895.6,1100.1 896.0,1095.3 896.4,1105.4 896.8,1096.1 897.2,1094.3 897.6,1093.4 898.0,1111.4 898.4,1100.5 898.8,1090.1 899.2,1097.7 899.6,1087.6 900.0,1100.2 900.4,1092.1 900.8,1104.0 901.2,1104.5 901.6,1099.8 902.0,1083.0 902.4,1090.3 902.8,1096.4 903.2,1096.2 903.6,1097.0 904.0,1101.7 904.4,1089.6 904.8,1085.8 905.2,1084.7 905.6,1102.4 906.0,1100.8 906.4,1091.2 906.8,1094.2 907.2,1103.7 907.6,1092.2 908.0,1099.6 908.4,1100.3 908.8,1096.5 909.2,1100.6 909.6,1102.8 910.0,1092.0 910.4,1082.8 910.8,1093.8 911.2,1084.2 911.6,1082.7 912.0,1099.8 912.4,1087.7 912.8,1091.5 913.2,1096.0 913.6,1088.4 914.0,1099.3 914.4,1108.6 914.8,1088.9 915.2,1094.8 915.6,1076.5 916.0,1088.7 916.4,1107.3 916.8,1094.5 917.2,1091.8 917.6,1098.6 918.0,1093.0 918.4,1105.7 918.8,1094.3 919.2,1090.6 919.6,1093.2 920.0,1076.7 920.4,1098.5 920.8,1099.3 921.2,1082.1 921.6,1076.0 922.0,1091.1 922.4,1096.9 922.8,1106.3 923.2,1089.1 923.6,1089.7 924.0,1095.1 924.4,1104.7 924.8,1088.8 925.2,1092.7 925.6,1090.1 926.0,1102.2 926.4,1106.4 926.8,1110.6 927.2,1107.5 927.6,1102.3 928.0,1091.9 928.4,1099.5 928.8,1105.1 929.2,1101.9 929.6,1090.0 930.0,1094.2 930.4,1093.2 930.8,1103.3 931.2,1098.3 931.6,1093.4 932.0,1101.4 932.4,1099.4 932.8,1091.9 933.2,1104.2 933.6,1097.2 934.0,1095.6 934.4,1089.6 934.8,1097.5 935.2,1100.3 935.6,1080.6 936.0,1091.5 936.4,1094.3 936.8,1100.2 937.2,1087.4 937.6,1110.8 938.0,1094.6 938.4,1090.2 938.8,1095.4 939.2,1102.7 939.6,1096.4 940.0,1091.4 940.4,1098.3 940.8,1098.9 941.2,1097.7 941.6,1089.8 942.0,1100.3 942.4,1125.8 942.8,1095.5 943.2,1099.1 943.6,1082.0 944.0,1097.1 944.4,1099.4 944.8,1093.9 945.2,1095.9 945.6,1089.9 946.0,1103.0 946.4,1097.3 946.8,1088.6 947.2,1094.7 947.6,1099.3 948.0,1098.8 948.4,1115.4 948.8,1096.7 949.2,1098.2 949.6,1091.4 950.0,1101.7 950.4,1091.5 950.8,1101.2 951.2,1093.0 951.6,1091.8 952.0,1092.0 952.4,1112.4 952.8,1089.8 953.2,1105.5 953.6,1098.6 954.0,1089.3 954.4,1096.2 954.8,1093.0 955.2,1101.0 955.6,1106.8 956.0,1113.0 956.4,1094.9 956.8,1094.8 957.2,1094.2 957.6,1099.1 958.0,1093.5 958.4,1111.9 958.8,1098.6 959.2,1097.7 959.6,1077.7 960.0,1100.8 960.4,1092.3 960.8,1116.7 961.2,1104.2 961.6,1097.1 962.0,1103.7 962.4,1113.8 962.8,1102.7 963.2,1105.7 963.6,1086.8 964.0,1094.5 964.4,1091.2 964.8,1103.2 965.2,1089.5 965.6,1087.7 966.0,1097.0 966.4,1098.9 966.8,1104.3 967.2,1111.7 967.6,1109.5 968.0,1101.4 968.4,1102.0 968.8,1087.2 969.2,1109.2 969.6,1094.6 970.0,1097.7 970.4,1100.3 970.8,1093.5 971.2,1098.9 971.6,1107.6 972.0,1110.8 972.4,1114.8 972.8,1107.4 973.2,1093.9 973.6,1104.5 974.0,1093.8 974.4,1083.8 974.8,1104.9 975.2,1097.8 975.6,1097.8 976.0,1093.5 976.4,1115.0 976.8,1102.0 977.2,1110.8 977.6,1102.4 978.0,1103.5 978.4,1103.2 978.8,1112.6 979.2,1088.1 979.6,1099.8 980.0,1097.1 980.4,1105.0 980.8,1097.9 981.2,1102.1 981.6,1097.6 982.0,1089.5 982.4,1105.1 982.8,1109.5 983.2,1104.4 983.6,1092.2 984.0,1096.5 984.4,1107.8 984.8,1099.5 985.2,1108.2 985.6,1102.9 986.0,1113.2 986.4,1095.4 986.8,1104.3 987.2,1113.1 987.6,1106.5 988.0,1093.5 988.4,1097.0 988.8,1099.8 989.2,1094.7 989.6,1099.5 990.0,1099.2 990.4,1100.4 990.8,1100.4 991.2,1097.6 991.6,1109.0 992.0,1110.9 992.4,1102.5 992.8,1113.1 993.2,1112.6 993.6,1101.3 994.0,1116.7 994.4,1115.0 994.8,1110.7 995.2,1101.9 995.6,1107.1 996.0,1100.8 996.4,1110.2 996.8,1102.8 997.2,1096.5 997.6,1096.5 998.0,1100.7 998.4,1098.0 998.8,1108.4 999.2,1110.5 999.6,1106.2 1000.0,1102.4 1000.4,1103.3 1000.8,1101.4 1001.2,1099.1 1001.6,1108.7 1002.0,1101.1 1002.4,1109.3 1002.8,1091.5 1003.2,1096.6 1003.6,1107.7 1004.0,1125.5 1004.4,1106.0 1004.8,1099.8 1005.2,1116.4 1005.6,1106.2 1006.0,1103.5 1006.4,1097.4 1006.8,1111.4 1007.2,1102.8 1007.6,1099.9 1008.0,1103.9 1008.4,1114.1 1008.8,1112.1 1009.2,1098.2 1009.6,1092.0 1010.0,1117.7 1010.4,1107.1 1010.8,1121.4 1011.2,1109.4 1011.6,1110.4 1012.0,1106.5 1012.4,1107.1 1012.8,1108.6 1013.2,1107.2 1013.6,1118.5 1014.0,1105.7 1014.4,1104.5 1014.8,1115.6 1015.2,1100.5 1015.6,1105.1 1016.0,1107.6 1016.4,1096.2 1016.8,1110.2 1017.2,1106.3 1017.6,1113.2 1018.0,1109.0 1018.4,1098.2 1018.8,1096.8 1019.2,1101.3 1019.6,1105.1 1020.0,1105.8 1020.4,1105.2 1020.8,1111.2 1021.2,1098.3 1021.6,1102.8 1022.0,1118.0 1022.4,1106.9 1022.8,1107.3 1023.2,1112.8 1023.6,1098.3 1024.0,1110.1 1024.4,1106.9 1024.8,1102.3 1025.2,1109.3 1025.6,1118.3 1026.0,1110.0 1026.4,1106.8 1026.8,1119.4 1027.2,1112.1 1027.6,1122.3 1028.0,1117.6 1028.4,1109.9 1028.8,1103.8 1029.2,1106.1 1029.6,1116.3 1030.0,1099.2 1030.4,1125.6 1030.8,1090.1 1031.2,1111.5 1031.6,1116.1 1032.0,1101.7 1032.4,1092.1 1032.8,1103.9 1033.2,1104.6 1033.6,1114.0 1034.0,1107.3 1034.4,1109.3 1034.8,1106.5 1035.2,1118.4 1035.6,1104.3 1036.0,1106.4 1036.4,1109.6 1036.8,1128.3 1037.2,1084.9 1037.6,1091.6 1038.0,1103.1 1038.4,1100.7 1038.8,1106.9 1039.2,1113.2 1039.6,1112.5 1040.0,1106.0 1040.4,1102.6 1040.8,1106.4 1041.2,1102.5 1041.6,1122.5 1042.0,1117.0 1042.4,1107.2 1042.8,1113.3 1043.2,1104.7 1043.6,1108.1 1044.0,1109.5 1044.4,1099.9 1044.8,1108.7 1045.2,1103.8 1045.6,1112.1 1046.0,1100.8 1046.4,1104.1 1046.8,1112.5 1047.2,1128.1 1047.6,1112.6 1048.0,1111.1 1048.4,1098.1 1048.8,1104.4 1049.2,1109.8 1049.6,1108.2 1050.0,1109.3 1050.4,1117.0 1050.8,1118.7 1051.2,1104.9 1051.6,1102.7 1052.0,1096.9 1052.4,1109.4 1052.8,1113.3 1053.2,1118.1 1053.6,1103.5 1054.0,1105.4 1054.4,1102.6 1054.8,1125.1 1055.2,1121.1 1055.6,1105.6 1056.0,1110.7 1056.4,1103.3 1056.8,1106.0 1057.2,1124.9 1057.6,1106.8 1058.0,1107.3 1058.4,1108.8 1058.8,1098.8 1059.2,1096.9 1059.6,1093.6 1060.0,1116.2 1060.4,1102.9 1060.8,1104.1 1061.2,1115.3 1061.6,1100.4 1062.0,1105.1 1062.4,1102.6 1062.8,1111.3 1063.2,1106.5 1063.6,1095.7 1064.0,1115.7 1064.4,1117.9 1064.8,1110.7 1065.2,1106.2 1065.6,1107.4 1066.0,1099.6 1066.4,1105.6 1066.8,1115.8 1067.2,1110.2 1067.6,1098.0 1068.0,1097.9 1068.4,1105.8 1068.8,1117.1 1069.2,1111.1 1069.6,1107.7 1070.0,1114.2 1070.4,1102.4 1070.8,1110.5 1071.2,1105.4 1071.6,1099.4 1072.0,1111.8 1072.4,1098.3 1072.8,1107.3 1073.2,1115.2 1073.6,1098.3 1074.0,1117.0 1074.4,1117.8 1074.8,1113.5 1075.2,1105.9 1075.6,1105.8 1076.0,1105.8 1076.4,1107.8 1076.8,1100.9 1077.2,1109.8 1077.6,1118.3 1078.0,1097.4 1078.4,1119.5 1078.8,1099.5 1079.2,1101.1 1079.6,1104.1 1080.0,1106.8 1080.4,1108.6 1080.8,1119.3 1081.2,1111.3 1081.6,1116.2 1082.0,1103.7 1082.4,1110.7 1082.8,1094.1 1083.2,1098.4 1083.6,1124.3 1084.0,1106.1 1084.4,1111.4 1084.8,1113.0 1085.2,1111.7 1085.6,1096.4 1086.0,1107.7 1086.4,1123.0 1086.8,1114.0 1087.2,1103.3 1087.6,1106.4 1088.0,1102.6 1088.4,1107.4 1088.8,1106.8 1089.2,1105.9 1089.6,1100.4 1090.0,1092.9 1090.4,1109.2 1090.8,1107.3 1091.2,1109.6 1091.6,1113.9 1092.0,1104.0 1092.4,1114.4 1092.8,1104.5 1093.2,1112.8 1093.6,1110.5 1094.0,1099.8 1094.4,1112.8 1094.8,1109.2 1095.2,1106.4 1095.6,1104.4 1096.0,1105.9 1096.4,1100.0 1096.8,1096.3 1097.2,1105.0 1097.6,1111.3 1098.0,1104.1 1098.4,1110.6 1098.8,1094.0 1099.2,1117.1 1099.6,1106.8 1100.0,1103.0 1100.4,1105.3 1100.8,1107.4 1101.2,1105.4 1101.6,1107.5 1102.0,1095.4 1102.4,1109.0 1102.8,1103.4 1103.2,1096.6 1103.6,1110.6 1104.0,1104.6 1104.4,1115.9 1104.8,1100.2 1105.2,1114.3 1105.6,1108.6 1106.0,1098.9 1106.4,1111.0 1106.8,1108.4 1107.2,1111.4 1107.6,1100.2 1108.0,1086.6 1108.4,1101.0 1108.8,1105.0 1109.2,1110.8 1109.6,1112.7 1110.0,1113.3 1110.4,1108.4 1110.8,1105.3 1111.2,1100.9 1111.6,1107.7 1112.0,1100.7 1112.4,1105.8 1112.8,1101.3 1113.2,1109.1 1113.6,1099.4 1114.0,1099.2 1114.4,1099.9 1114.8,1107.9 1115.2,1099.9 1115.6,1112.7 1116.0,1096.3 1116.4,1105.6 1116.8,1101.1 1117.2,1094.9 1117.6,1102.9 1118.0,1106.5 1118.4,1107.8 1118.8,1101.2 1119.2,1095.4 1119.6,1097.9 1120.0,1099.1 1120.4,1116.4 1120.8,1094.1 1121.2,1102.2 1121.6,1119.0 1122.0,1094.9 1122.4,1114.8 1122.8,1113.3 1123.2,1109.0 1123.6,1106.6 1124.0,1090.4 1124.4,1102.0 1124.8,1101.1 1125.2,1111.6 1125.6,1111.2 1126.0,1094.1 1126.4,1085.0 1126.8,1096.9 1127.2,1116.7 1127.6,1103.4 1128.0,1102.8 1128.4,1107.7 1128.8,1100.7 1129.2,1105.0 1129.6,1096.6 1130.0,1092.6 1130.4,1106.4 1130.8,1104.1 1131.2,1107.8 1131.6,1103.1 1132.0,1109.6 1132.4,1105.7 1132.8,1105.1 1133.2,1110.5 1133.6,1103.4 1134.0,1094.2 1134.4,1096.5 1134.8,1100.8 1135.2,1110.1 1135.6,1098.5 1136.0,1100.5 1136.4,1111.7 1136.8,1113.3 1137.2,1092.5 1137.6,1094.2 1138.0,1101.4 1138.4,1103.3 1138.8,1098.4 1139.2,1091.8 1139.6,1118.2 1140.0,1105.2 1140.4,1113.1 1140.8,1108.5 1141.2,1107.0 1141.6,1090.2 1142.0,1105.2 1142.4,1104.0 1142.8,1103.8 1143.2,1097.3 1143.6,1093.8 1144.0,1103.1 1144.4,1107.4 1144.8,1110.1 1145.2,1105.6 1145.6,1090.1 1146.0,1100.0 1146.4,1098.9 1146.8,1097.4 1147.2,1093.8 1147.6,1110.6 1148.0,1097.4 1148.4,1103.0 1148.8,1106.3 1149.2,1096.6 1149.6,1100.1 1150.0,1097.5 1150.4,1110.5 1150.8,1096.9 1151.2,1091.1 1151.6,1109.0 1152.0,1084.7 1152.4,1112.5 1152.8,1105.7 1153.2,1105.3 1153.6,1105.5 1154.0,1103.1 1154.4,1105.6 1154.8,1070.2 1155.2,1099.6 1155.6,1093.4 1156.0,1087.9 1156.4,1092.7 1156.8,1098.9 1157.2,1103.1 1157.6,1095.4 1158.0,1094.4 1158.4,1111.6 1158.8,1105.8 1159.2,1094.8 1159.6,1094.9 1160.0,1101.8 1160.4,1106.9 1160.8,1096.9 1161.2,1099.8 1161.6,1107.3 1162.0,1089.6 1162.4,1101.4 1162.8,1098.7 1163.2,1093.0 1163.6,1101.8 1164.0,1106.0 1164.4,1097.9 1164.8,1096.3 1165.2,1109.6 1165.6,1101.4 1166.0,1093.9 1166.4,1102.2 1166.8,1105.2 1167.2,1098.8 1167.6,1087.0 1168.0,1095.9 1168.4,1092.1 1168.8,1111.1 1169.2,1094.5 1169.6,1112.6 1170.0,1100.2 1170.4,1100.5 1170.8,1101.8 1171.2,1111.4 1171.6,1092.3 1172.0,1096.9 1172.4,1097.6 1172.8,1102.3 1173.2,1095.6 1173.6,1100.7 1174.0,1105.9 1174.4,1096.8 1174.8,1115.8 1175.2,1099.4 1175.6,1098.5 1176.0,1104.1 1176.4,1097.3 1176.8,1102.8 1177.2,1095.3 1177.6,1091.0 1178.0,1101.7 1178.4,1104.5 1178.8,1098.9 1179.2,1105.4 1179.6,1096.3 1180.0,1114.3 1180.4,1097.4 1180.8,1102.9 1181.2,1098.9 1181.6,1098.1 1182.0,1093.0 1182.4,1108.9 1182.8,1097.9 1183.2,1094.8 1183.6,1107.1 1184.0,1106.5 1184.4,1094.3 1184.8,1103.9 1185.2,1107.3 1185.6,1100.8 1186.0,1090.4 1186.4,1098.8 1186.8,1094.1 1187.2,1090.6 1187.6,1100.8 1188.0,1103.7 1188.4,1083.2 1188.8,1096.3 1189.2,1093.0 1189.6,1101.7 1190.0,1094.8 1190.4,1089.2 1190.8,1108.7 1191.2,1097.5 1191.6,1108.2 1192.0,1100.2 1192.4,1092.4 1192.8,1088.7 1193.2,1088.3 1193.6,1096.5 1194.0,1099.5 1194.4,1107.9 1194.8,1090.0 1195.2,1099.0 1195.6,1103.8 1196.0,1108.1 1196.4,1105.3 1196.8,1102.7 1197.2,1103.2 1197.6,1089.2 1198.0,1099.1 1198.4,1089.7 1198.8,1113.4 1199.2,1105.3 1199.6,1097.3 1200.0,1096.1 1200.4,1096.3 1200.8,1102.5 1201.2,1096.1 1201.6,1097.3 1202.0,1092.0 1202.4,1102.1 1202.8,1102.9 1203.2,1091.0 1203.6,1102.7 1204.0,1097.1 1204.4,1104.4 1204.8,1105.2 1205.2,1094.6 1205.6,1102.3 1206.0,1105.8 1206.4,1082.9 1206.8,1098.2 1207.2,1090.5 1207.6,1102.2 1208.0,1086.1 1208.4,1109.1 1208.8,1095.4 1209.2,1102.4 1209.6,1112.2 1210.0,1097.5 1210.4,1090.9 1210.8,1089.6 1211.2,1102.7 1211.6,1088.3 1212.0,1087.1 1212.4,1099.9 1212.8,1106.6 1213.2,1099.6 1213.6,1110.7 1214.0,1106.2 1214.4,1102.9 1214.8,1100.6 1215.2,1100.1 1215.6,1100.4 1216.0,1104.5 1216.4,1098.3 1216.8,1086.7 1217.2,1084.9 1217.6,1089.5 1218.0,1097.1 1218.4,1086.0 1218.8,1095.1 1219.2,1098.6 1219.6,1104.7 1220.0,1090.1 1220.4,1089.9 1220.8,1087.5 1221.2,1087.9 1221.6,1093.5 1222.0,1106.7 1222.4,1073.4 1222.8,1096.0 1223.2,1097.8 1223.6,1105.6 1224.0,1104.9 1224.4,1098.1 1224.8,1073.7 1225.2,1089.8 1225.6,1093.1 1226.0,1090.0 1226.4,1100.7 1226.8,1091.8 1227.2,1087.4 1227.6,1095.0 1228.0,1101.1 1228.4,1091.3 1228.8,1087.9 1229.2,1089.5 1229.6,1095.7 1230.0,1097.3 1230.4,1090.5 1230.8,1089.8 1231.2,1100.4 1231.6,1110.8 1232.0,1113.6 1232.4,1111.9 1232.8,1090.7 1233.2,1096.6 1233.6,1094.8 1234.0,1092.0 1234.4,1091.5 1234.8,1095.2 1235.2,1098.7 1235.6,1104.7 1236.0,1104.8 1236.4,1093.3 1236.8,1093.3 1237.2,1101.8 1237.6,1100.1 1238.0,1091.9 1238.4,1095.7 1238.8,1082.5 1239.2,1099.1 1239.6,1086.8 1240.0,1097.2 1240.4,1074.8 1240.8,1095.3 1241.2,1086.2 1241.6,1091.0 1242.0,1095.4 1242.4,1089.9 1242.8,1106.0 1243.2,1101.5 1243.6,1091.8 1244.0,1106.6 1244.4,1094.2 1244.8,1095.9 1245.2,1106.9 1245.6,1107.9 1246.0,1094.7 1246.4,1099.8 1246.8,1093.8 1247.2,1101.5 1247.6,1092.6 1248.0,1102.5 1248.4,1082.6 1248.8,1096.9 1249.2,1102.5 1249.6,1095.5 1250.0,1082.3 1250.4,1095.5 1250.8,1086.2 1251.2,1090.4 1251.6,1094.3 1252.0,1106.1 1252.4,1091.4 1252.8,1085.2 1253.2,1105.8 1253.6,1091.3 1254.0,1088.7 1254.4,1091.3 1254.8,1091.0 1255.2,1102.0 1255.6,1077.7 1256.0,1086.5 1256.4,1097.8 1256.8,1093.4 1257.2,1091.4 1257.6,1078.6 1258.0,1098.3 1258.4,1088.2 1258.8,1101.7 1259.2,1075.7 1259.6,1094.3 1260.0,1095.7 1260.4,1103.2 1260.8,1092.4 1261.2,1087.1 1261.6,1093.3 1262.0,1089.1 1262.4,1092.5 1262.8,1077.3 1263.2,1091.4 1263.6,1092.5 1264.0,1092.8 1264.4,1091.5 1264.8,1104.3 1265.2,1105.4 1265.6,1099.2 1266.0,1092.3 1266.4,1101.6 1266.8,1092.8 1267.2,1086.9 1267.6,1087.9 1268.0,1091.0 1268.4,1102.2 1268.8,1101.0 1269.2,1100.3 1269.6,1094.4 1270.0,1087.7 1270.4,1093.9 1270.8,1091.4 1271.2,1087.2 1271.6,1098.9 1272.0,1080.5 1272.4,1081.8 1272.8,1083.1 1273.2,1087.5 1273.6,1090.5 1274.0,1096.7 1274.4,1097.5 1274.8,1088.2 1275.2,1087.3 1275.6,1091.9 1276.0,1098.6 1276.4,1094.4 1276.8,1095.9 1277.2,1097.8 1277.6,1094.1 1278.0,1091.6 1278.4,1077.0 1278.8,1087.7 1279.2,1082.3 1279.6,1085.7 1280.0,1088.9 1280.4,1095.8 1280.8,1098.2 1281.2,1085.2 1281.6,1094.8 1282.0,1095.4 1282.4,1077.8 1282.8,1093.5 1283.2,1090.8 1283.6,1078.5 1284.0,1092.2 1284.4,1096.2 1284.8,1102.1 1285.2,1087.9 1285.6,1096.7 1286.0,1098.7 1286.4,1095.8 1286.8,1081.2 1287.2,1097.4 1287.6,1087.3 1288.0,1087.3 1288.4,1100.0 1288.8,1101.3 1289.2,1111.8 1289.6,1070.6 1290.0,1100.6 1290.4,1075.8 1290.8,1094.7 1291.2,1081.9 1291.6,1092.5 1292.0,1097.8 1292.4,1097.0 1292.8,1087.9 1293.2,1057.3 1293.6,1085.5 1294.0,1085.8 1294.4,1089.8 1294.8,1096.2 1295.2,1084.0 1295.6,1094.9 1296.0,1083.3 1296.4,1085.1 1296.8,1092.1 1297.2,1094.9 1297.6,1096.0 1298.0,1085.3 1298.4,1094.1 1298.8,1081.6 1299.2,1104.5 1299.6,1094.1 1300.0,1089.8 1300.4,1083.1 1300.8,1085.1 1301.2,1090.3 1301.6,1084.0 1302.0,1089.5 1302.4,1082.4 1302.8,1083.8 1303.2,1096.1 1303.6,1082.2 1304.0,1085.8 1304.4,1082.0 1304.8,1092.6 1305.2,1081.7 1305.6,1086.2 1306.0,1090.2 1306.4,1086.2 1306.8,1092.4 1307.2,1090.1 1307.6,1089.4 1308.0,1084.3 1308.4,1086.4 1308.8,1082.1 1309.2,1082.8 1309.6,1081.0 1310.0,1098.3 1310.4,1094.2 1310.8,1080.1 1311.2,1087.2 1311.6,1093.9 1312.0,1086.7 1312.4,1099.5 1312.8,1079.3 1313.2,1088.6 1313.6,1072.5 1314.0,1096.3 1314.4,1082.8 1314.8,1089.0 1315.2,1094.6 1315.6,1086.7 1316.0,1084.2 1316.4,1082.6 1316.8,1097.4 1317.2,1098.6 1317.6,1083.9 1318.0,1097.1 1318.4,1083.0 1318.8,1071.1 1319.2,1082.3 1319.6,1081.2 1320.0,1088.9 1320.4,1089.4 1320.8,1081.1 1321.2,1081.0 1321.6,1085.0 1322.0,1069.0 1322.4,1090.2 1322.8,1092.9 1323.2,1086.3 1323.6,1075.9 1324.0,1084.6 1324.4,1079.9 1324.8,1081.0 1325.2,1097.2 1325.6,1083.7 1326.0,1080.6 1326.4,1089.9 1326.8,1075.4 1327.2,1097.3 1327.6,1088.0 1328.0,1087.1 1328.4,1087.7 1328.8,1067.1 1329.2,1089.2 1329.6,1088.6 1330.0,1085.5 1330.4,1079.3 1330.8,1084.5 1331.2,1095.2 1331.6,1079.9 1332.0,1088.0 1332.4,1091.3 1332.8,1076.5 1333.2,1081.8 1333.6,1087.2 1334.0,1094.0 1334.4,1087.3 1334.8,1080.7 1335.2,1084.8 1335.6,1072.6 1336.0,1088.4 1336.4,1083.8 1336.8,1083.1 1337.2,1085.3 1337.6,1086.1 1338.0,1077.6 1338.4,1099.7 1338.8,1077.3 1339.2,1085.6 1339.6,1085.0 1340.0,1073.2 1340.4,1082.8 1340.8,1077.6 1341.2,1074.9 1341.6,1071.7 1342.0,1083.9 1342.4,1091.1 1342.8,1089.9 1343.2,1083.5 1343.6,1087.1 1344.0,1068.8 1344.4,1086.6 1344.8,1080.4 1345.2,1088.8 1345.6,1089.4 1346.0,1084.7 1346.4,1082.6 1346.8,1082.6 1347.2,1097.0 1347.6,1081.9 1348.0,1087.0 1348.4,1090.6 1348.8,1094.1 1349.2,1074.5 1349.6,1085.4 1350.0,1076.2 1350.4,1082.0 1350.8,1089.6 1351.2,1072.2 1351.6,1085.7 1352.0,1083.8 1352.4,1090.5 1352.8,1084.7 1353.2,1086.2 1353.6,1082.7 1354.0,1092.6 1354.4,1089.8 1354.8,1086.9 1355.2,1062.4 1355.6,1089.5 1356.0,1080.3 1356.4,1089.3 1356.8,1087.4 1357.2,1089.0 1357.6,1082.5 1358.0,1086.4 1358.4,1083.8 1358.8,1074.6 1359.2,1087.8 1359.6,1079.6 1360.0,1085.5 1360.4,1091.8 1360.8,1094.0 1361.2,1088.6 1361.6,1087.1 1362.0,1085.0 1362.4,1079.4 1362.8,1088.6 1363.2,1087.7 1363.6,1081.3 1364.0,1089.0 1364.4,1077.4 1364.8,1088.1 1365.2,1080.9 1365.6,1079.7 1366.0,1079.8 1366.4,1082.1 1366.8,1078.9 1367.2,1086.0 1367.6,1086.6 1368.0,1106.2 1368.4,1073.9 1368.8,1083.2 1369.2,1091.4 1369.6,1096.1 1370.0,1086.1 1370.4,1092.5 1370.8,1083.5 1371.2,1091.6 1371.6,1082.5 1372.0,1077.3 1372.4,1087.2 1372.8,1084.6 1373.2,1086.3 1373.6,1083.1 1374.0,1076.0 1374.4,1083.6 1374.8,1082.3 1375.2,1078.0 1375.6,1080.5 1376.0,1085.7 1376.4,1086.5 1376.8,1080.2 1377.2,1078.9 1377.6,1081.7 1378.0,1081.1 1378.4,1084.9 1378.8,1098.1 1379.2,1084.2 1379.6,1073.7 1380.0,1097.0 1380.4,1086.5 1380.8,1083.8 1381.2,1090.2 1381.6,1083.6 1382.0,1098.6 1382.4,1086.8 1382.8,1087.0 1383.2,1084.5 1383.6,1090.0 1384.0,1085.7 1384.4,1084.6 1384.8,1086.4 1385.2,1081.7 1385.6,1093.1 1386.0,1096.8 1386.4,1080.7 1386.8,1084.9 1387.2,1092.5 1387.6,1079.2 1388.0,1082.9 1388.4,1091.6 1388.8,1088.9 1389.2,1090.4 1389.6,1075.2 1390.0,1096.3 1390.4,1089.4 1390.8,1087.8 1391.2,1101.6 1391.6,1095.5 1392.0,1078.5 1392.4,1102.0 1392.8,1084.9 1393.2,1088.0 1393.6,1081.0 1394.0,1099.9 1394.4,1089.4 1394.8,1093.4 1395.2,1096.8 1395.6,1090.4 1396.0,1076.0 1396.4,1101.4 1396.8,1088.1 1397.2,1079.9 1397.6,1087.9 1398.0,1088.3 1398.4,1087.6 1398.8,1090.1 1399.2,1094.0 1399.6,1103.7 1400.0,1097.4 1400.4,1092.0 1400.8,1106.6 1401.2,1091.7 1401.6,1107.9 1402.0,1091.8 1402.4,1079.7 1402.8,1101.4 1403.2,1090.3 1403.6,1089.6 1404.0,1090.9 1404.4,1092.4 1404.8,1096.2 1405.2,1091.3 1405.6,1083.0 1406.0,1094.7 1406.4,1095.6 1406.8,1089.8 1407.2,1096.6 1407.6,1096.7 1408.0,1079.8 1408.4,1078.5 1408.8,1086.7 1409.2,1098.7 1409.6,1081.6 1410.0,1100.6 1410.4,1088.6 1410.8,1095.8 1411.2,1089.1 1411.6,1088.6 1412.0,1090.2 1412.4,1087.0 1412.8,1085.5 1413.2,1087.2 1413.6,1089.9 1414.0,1090.1 1414.4,1082.7 1414.8,1089.4 1415.2,1090.9 1415.6,1097.4 1416.0,1097.3 1416.4,1094.2 1416.8,1094.8 1417.2,1084.9 1417.6,1089.9 1418.0,1099.0 1418.4,1096.4 1418.8,1104.3 1419.2,1108.9 1419.6,1106.9 1420.0,1089.8 1420.4,1089.7 1420.8,1091.8 1421.2,1103.7 1421.6,1096.8 1422.0,1092.4 1422.4,1086.6 1422.8,1094.1 1423.2,1092.8 1423.6,1103.7 1424.0,1112.5 1424.4,1085.2 1424.8,1084.2 1425.2,1101.2 1425.6,1100.3 1426.0,1091.3 1426.4,1098.0 1426.8,1098.3 1427.2,1088.1 1427.6,1105.2 1428.0,1092.2 1428.4,1097.7 1428.8,1105.7 1429.2,1089.4 1429.6,1102.6 1430.0,1102.1 1430.4,1108.0 1430.8,1091.0 1431.2,1099.6 1431.6,1086.2 1432.0,1097.0 1432.4,1107.1 1432.8,1110.9 1433.2,1102.3 1433.6,1090.4 1434.0,1086.1 1434.4,1100.6 1434.8,1093.4 1435.2,1101.1 1435.6,1098.4 1436.0,1098.3 1436.4,1109.9 1436.8,1088.2 1437.2,1097.1 1437.6,1104.4 1438.0,1109.8 1438.4,1091.2 1438.8,1089.8 1439.2,1095.0 1439.6,1086.1 1440.0,1090.1 1440.4,1109.0 1440.8,1092.6 1441.2,1089.3 1441.6,1095.8 1442.0,1100.0 1442.4,1093.3 1442.8,1099.1 1443.2,1105.7 1443.6,1108.4 1444.0,1097.5 1444.4,1108.1 1444.8,1111.0 1445.2,1103.6 1445.6,1085.8 1446.0,1106.6 1446.4,1097.6 1446.8,1106.8 1447.2,1095.5 1447.6,1095.0 1448.0,1095.5 1448.4,1096.6 1448.8,1112.3 1449.2,1096.3 1449.6,1097.0 1450.0,1101.5 1450.4,1092.3 1450.8,1096.6 1451.2,1093.4 1451.6,1107.3 1452.0,1090.3 1452.4,1099.9 1452.8,1102.3 1453.2,1109.8 1453.6,1107.0 1454.0,1103.3 1454.4,1094.5 1454.8,1118.6 1455.2,1111.6 1455.6,1105.0 1456.0,1091.4 1456.4,1098.3 1456.8,1093.7 1457.2,1093.3 1457.6,1095.9 1458.0,1090.7 1458.4,1092.2 1458.8,1097.9 1459.2,1099.4 1459.6,1087.5 1460.0,1099.7 1460.4,1113.2 1460.8,1100.4 1461.2,1098.0 1461.6,1098.0 1462.0,1118.0 1462.4,1108.3 1462.8,1108.6 1463.2,1106.8 1463.6,1103.2 1464.0,1117.0 1464.4,1101.7 1464.8,1088.0 1465.2,1107.4 1465.6,1110.3 1466.0,1105.8 1466.4,1108.6 1466.8,1107.8 1467.2,1107.3 1467.6,1119.7 1468.0,1115.8 1468.4,1109.6 1468.8,1106.9 1469.2,1102.6 1469.6,1097.7 1470.0,1096.8 1470.4,1090.4 1470.8,1104.3 1471.2,1104.2 1471.6,1111.2 1472.0,1107.5 1472.4,1092.1 1472.8,1094.3 1473.2,1101.9 1473.6,1124.8 1474.0,1103.9 1474.4,1111.2 1474.8,1109.1 1475.2,1103.9 1475.6,1112.7 1476.0,1092.9 1476.4,1094.2 1476.8,1096.6 1477.2,1110.7 1477.6,1123.0 1478.0,1104.9 1478.4,1100.0 1478.8,1100.3 1479.2,1108.3 1479.6,1107.2 1480.0,1111.2 1480.4,1104.1 1480.8,1103.8 1481.2,1117.2 1481.6,1118.3 1482.0,1114.3 1482.4,1103.0 1482.8,1118.7 1483.2,1132.8 1483.6,1103.2 1484.0,1116.2 1484.4,1109.2 1484.8,1113.7 1485.2,1112.7 1485.6,1115.4 1486.0,1106.5 1486.4,1112.5 1486.8,1106.9 1487.2,1113.5 1487.6,1112.0 1488.0,1106.5 1488.4,1111.0 1488.8,1108.1 1489.2,1114.1 1489.6,1113.6 1490.0,1114.1 1490.4,1096.2 1490.8,1110.8 1491.2,1107.5 1491.6,1108.3 1492.0,1119.2 1492.4,1118.1 1492.8,1113.4 1493.2,1123.5 1493.6,1122.3 1494.0,1115.9 1494.4,1120.7 1494.8,1126.6 1495.2,1106.6 1495.6,1105.4 1496.0,1107.2 1496.4,1111.6 1496.8,1114.1 1497.2,1130.6 1497.6,1110.2 1498.0,1125.6 1498.4,1124.8 1498.8,1125.0 1499.2,1115.8 1499.6,1110.0 1500.0,1124.9 1500.4,1119.3 1500.8,1113.5 1501.2,1122.7 1501.6,1119.0 1502.0,1111.2 1502.4,1120.2 1502.8,1118.0 1503.2,1115.5 1503.6,1120.0 1504.0,1111.4 1504.4,1117.6 1504.8,1113.3 1505.2,1122.6 1505.6,1118.3 1506.0,1116.0 1506.4,1123.9 1506.8,1113.5 1507.2,1112.4 1507.6,1125.7 1508.0,1111.5 1508.4,1128.2 1508.8,1125.4 1509.2,1116.0 1509.6,1113.9 1510.0,1145.3 1510.4,1119.4 1510.8,1116.6 1511.2,1115.3 1511.6,1112.5 1512.0,1134.8 1512.4,1124.2 1512.8,1120.6 1513.2,1116.4 1513.6,1117.4 1514.0,1126.7 1514.4,1105.0 1514.8,1115.6 1515.2,1114.5 1515.6,1110.6 1516.0,1126.7 1516.4,1116.9 1516.8,1129.6 1517.2,1129.4 1517.6,1114.5 1518.0,1129.2 1518.4,1123.9 1518.8,1120.4 1519.2,1130.8 1519.6,1123.9 1520.0,1123.5 1520.4,1112.3 1520.8,1129.0 1521.2,1120.9 1521.6,1131.3 1522.0,1121.1 1522.4,1129.7 1522.8,1123.9 1523.2,1127.7 1523.6,1108.3 1524.0,1123.0 1524.4,1121.4 1524.8,1121.3 1525.2,1115.0 1525.6,1109.6 1526.0,1127.7 1526.4,1122.8 1526.8,1124.2 1527.2,1130.2 1527.6,1119.0 1528.0,1132.9 1528.4,1128.1 1528.8,1125.5 1529.2,1124.4 1529.6,1136.4 1530.0,1127.1 1530.4,1129.0 1530.8,1117.1 1531.2,1127.0 1531.6,1116.6 1532.0,1119.2 1532.4,1126.9 1532.8,1122.2 1533.2,1111.2 1533.6,1116.6 1534.0,1120.0 1534.4,1128.3 1534.8,1120.5 1535.2,1131.8 1535.6,1125.2 1536.0,1117.5 1536.4,1136.1 1536.8,1123.9 1537.2,1121.5 1537.6,1120.2 1538.0,1124.5 1538.4,1122.0 1538.8,1126.9 1539.2,1130.7 1539.6,1126.3 1540.0,1120.5 1540.4,1132.8 1540.8,1123.9 1541.2,1128.6 1541.6,1110.2 1542.0,1133.6 1542.4,1121.3 1542.8,1132.0 1543.2,1117.8 1543.6,1124.8 1544.0,1135.8 1544.4,1134.7 1544.8,1128.6 1545.2,1131.7 1545.6,1112.0 1546.0,1121.9 1546.4,1125.3 1546.8,1112.4 1547.2,1122.9 1547.6,1128.3 1548.0,1133.3 1548.4,1125.3 1548.8,1135.9 1549.2,1145.5 1549.6,1126.4 1550.0,1132.0 1550.4,1132.0 1550.8,1137.2 1551.2,1112.6 1551.6,1130.3 1552.0,1123.8 1552.4,1118.6 1552.8,1119.0 1553.2,1124.8 1553.6,1130.7 1554.0,1123.4 1554.4,1117.1 1554.8,1126.2 1555.2,1137.3 1555.6,1121.1 1556.0,1132.5 1556.4,1136.7 1556.8,1127.4 1557.2,1123.1 1557.6,1121.8 1558.0,1137.6 1558.4,1137.3 1558.8,1128.3 1559.2,1130.3 1559.6,1124.2 1560.0,1127.7 1560.4,1140.0 1560.8,1133.2 1561.2,1132.7 1561.6,1134.1 1562.0,1125.5 1562.4,1131.4 1562.8,1115.2 1563.2,1112.8 1563.6,1128.7 1564.0,1126.0 1564.4,1125.0 1564.8,1119.3 1565.2,1127.1 1565.6,1127.4 1566.0,1123.1 1566.4,1124.1 1566.8,1120.5 1567.2,1125.2 1567.6,1134.7 1568.0,1122.4 1568.4,1135.0 1568.8,1120.5 1569.2,1124.7 1569.6,1150.5 1570.0,1119.8 1570.4,1136.5 1570.8,1124.1 1571.2,1132.2 1571.6,1134.0 1572.0,1141.4 1572.4,1129.9 1572.8,1126.4 1573.2,1147.9 1573.6,1135.5 1574.0,1135.6 1574.4,1125.4 1574.8,1123.4 1575.2,1135.5 1575.6,1141.8 1576.0,1127.5 1576.4,1123.5 1576.8,1138.1 1577.2,1127.6 1577.6,1134.9 1578.0,1124.4 1578.4,1131.8 1578.8,1126.4 1579.2,1129.3 1579.6,1126.6 1580.0,1134.1 1580.4,1130.1 1580.8,1134.3 1581.2,1129.1 1581.6,1140.5 1582.0,1127.8 1582.4,1130.5 1582.8,1140.3 1583.2,1134.4 1583.6,1128.0 1584.0,1129.3 1584.4,1127.6 1584.8,1140.5 1585.2,1133.5 1585.6,1133.2 1586.0,1122.6 1586.4,1139.7 1586.8,1144.7 1587.2,1142.4 1587.6,1126.1 1588.0,1142.3 1588.4,1129.8 1588.8,1136.8 1589.2,1135.2 1589.6,1144.6 1590.0,1124.6 1590.4,1134.8 1590.8,1139.6 1591.2,1147.7 1591.6,1133.2 1592.0,1138.1 1592.4,1144.6 1592.8,1132.3 1593.2,1133.0 1593.6,1135.2 1594.0,1144.6 1594.4,1133.1 1594.8,1137.2 1595.2,1132.8 1595.6,1136.8 1596.0,1148.0 1596.4,1140.7 1596.8,1139.9 1597.2,1133.1 1597.6,1131.6 1598.0,1142.5 1598.4,1144.8 1598.8,1131.1 1599.2,1134.4 1599.6,1133.3 1600.0,1134.1 1600.4,1142.3 1600.8,1128.8 1601.2,1144.1 1601.6,1147.2 1602.0,1127.1 1602.4,1137.5 1602.8,1135.2 1603.2,1129.8 1603.6,1150.3 1604.0,1147.3 1604.4,1133.3 1604.8,1131.2 1605.2,1138.6 1605.6,1146.2 1606.0,1145.0 1606.4,1139.2 1606.8,1129.7 1607.2,1126.1 1607.6,1137.1 1608.0,1142.0 1608.4,1143.9 1608.8,1157.0 1609.2,1137.7 1609.6,1137.2 1610.0,1146.3 1610.4,1137.2 1610.8,1144.0 1611.2,1121.8 1611.6,1147.0 1612.0,1140.6 1612.4,1141.0 1612.8,1144.9 1613.2,1139.2 1613.6,1128.2 1614.0,1135.6 1614.4,1150.5 1614.8,1137.7 1615.2,1138.8 1615.6,1135.3 1616.0,1137.8 1616.4,1134.7 1616.8,1131.4 1617.2,1139.0 1617.6,1131.2 1618.0,1131.3 1618.4,1147.2 1618.8,1137.9 1619.2,1141.8 1619.6,1150.7 1620.0,1161.7 1620.4,1136.2 1620.8,1142.8 1621.2,1139.9 1621.6,1135.1 1622.0,1142.0 1622.4,1136.4 1622.8,1135.2 1623.2,1140.3 1623.6,1142.3 1624.0,1144.8 1624.4,1139.8 1624.8,1147.5 1625.2,1137.9 1625.6,1138.1 1626.0,1146.1 1626.4,1135.3 1626.8,1144.9 1627.2,1146.4 1627.6,1137.8 1628.0,1137.2 1628.4,1142.1 1628.8,1145.3 1629.2,1138.5 1629.6,1139.2 1630.0,1131.3 1630.4,1143.9 1630.8,1147.4 1631.2,1148.3 1631.6,1141.7 1632.0,1149.5 1632.4,1152.9 1632.8,1148.2 1633.2,1144.1 1633.6,1143.5 1634.0,1146.7 1634.4,1145.9 1634.8,1142.0 1635.2,1150.4 1635.6,1143.6 1636.0,1148.8 1636.4,1141.3 1636.8,1152.6 1637.2,1145.5 1637.6,1140.7 1638.0,1139.8 1638.4,1156.8 1638.8,1148.2 1639.2,1151.8 1639.6,1142.1 1640.0,1144.0 1640.4,1142.6 1640.8,1148.2 1641.2,1144.2 1641.6,1147.7 1642.0,1138.6 1642.4,1160.9 1642.8,1138.2 1643.2,1176.6 1643.6,1148.6 1644.0,1155.5 1644.4,1146.7 1644.8,1154.2 1645.2,1149.6 1645.6,1139.2 1646.0,1140.6 1646.4,1139.0 1646.8,1153.1 1647.2,1145.9 1647.6,1147.1 1648.0,1148.5 1648.4,1146.9 1648.8,1147.4 1649.2,1142.3 1649.6,1140.9 1650.0,1150.9 1650.4,1150.0 1650.8,1148.2 1651.2,1152.8 1651.6,1151.8 1652.0,1151.4 1652.4,1157.8 1652.8,1134.8 1653.2,1151.9 1653.6,1133.6 1654.0,1154.8 1654.4,1154.4 1654.8,1148.5 1655.2,1149.3 1655.6,1154.6 1656.0,1147.1 1656.4,1148.9 1656.8,1155.6 1657.2,1134.3 1657.6,1152.6 1658.0,1153.4 1658.4,1161.0 1658.8,1153.8 1659.2,1139.7 1659.6,1159.3 1660.0,1143.7 1660.4,1133.4 1660.8,1152.4 1661.2,1151.5 1661.6,1153.4 1662.0,1155.7 1662.4,1162.1 1662.8,1158.2 1663.2,1142.1 1663.6,1155.0 1664.0,1154.9 1664.4,1151.2 1664.8,1152.5 1665.2,1151.3 1665.6,1157.4 1666.0,1146.5 1666.4,1136.2 1666.8,1151.7 1667.2,1146.5 1667.6,1150.6 1668.0,1157.7 1668.4,1145.0 1668.8,1153.5 1669.2,1145.2 1669.6,1146.1 1670.0,1148.6 1670.4,1146.9 1670.8,1156.3 1671.2,1145.9 1671.6,1152.4 1672.0,1152.3 1672.4,1151.2 1672.8,1158.7 1673.2,1161.2 1673.6,1158.2 1674.0,1162.3 1674.4,1154.1 1674.8,1162.2 1675.2,1160.0 1675.6,1154.7 1676.0,1162.4 1676.4,1148.4 1676.8,1147.6 1677.2,1146.0 1677.6,1156.9 1678.0,1145.9 1678.4,1160.4 1678.8,1145.9 1679.2,1152.1 1679.6,1154.5 1680.0,1158.2 1680.4,1149.8 1680.8,1159.1 1681.2,1160.6 1681.6,1154.7 1682.0,1142.7 1682.4,1162.1 1682.8,1152.3 1683.2,1150.2 1683.6,1156.0 1684.0,1141.2 1684.4,1161.2 1684.8,1147.1 1685.2,1158.1 1685.6,1155.8 1686.0,1150.0 1686.4,1157.9 1686.8,1158.0 1687.2,1154.3 1687.6,1156.2 1688.0,1157.6 1688.4,1151.3 1688.8,1149.1 1689.2,1155.2 1689.6,1144.2 1690.0,1148.4 1690.4,1160.1 1690.8,1160.1 1691.2,1154.0 1691.6,1159.8 1692.0,1154.7 1692.4,1150.8 1692.8,1159.8 1693.2,1155.8 1693.6,1156.1 1694.0,1154.4 1694.4,1171.4 1694.8,1160.1 1695.2,1162.6 1695.6,1155.0 1696.0,1159.9 1696.4,1151.8 1696.8,1154.1 1697.2,1155.2 1697.6,1156.1 1698.0,1167.9 1698.4,1151.6 1698.8,1162.7 1699.2,1158.4 1699.6,1157.6 1700.0,1170.7 1700.4,1155.5 1700.8,1145.2 1701.2,1164.4 1701.6,1161.3 1702.0,1146.2 1702.4,1161.0 1702.8,1150.1 1703.2,1156.0 1703.6,1165.4 1704.0,1150.3 1704.4,1155.4 1704.8,1165.7 1705.2,1156.5 1705.6,1154.0 1706.0,1162.8 1706.4,1163.7 1706.8,1164.1 1707.2,1173.0 1707.6,1145.8 1708.0,1146.0 1708.4,1153.2 1708.8,1146.0 1709.2,1151.1 1709.6,1148.0 1710.0,1161.4 1710.4,1163.9 1710.8,1152.7 1711.2,1172.2 1711.6,1168.6 1712.0,1152.0 1712.4,1154.9 1712.8,1155.7 1713.2,1161.1 1713.6,1161.3 1714.0,1157.8" stroke="#006000" stroke-width="8"/>
</g></g>
<rect x="299" y="39" width="1413" height="1169" fill="none" stroke="#0000dc" stroke-width="9"/>
<path d="M299,298.9H325M1712,298.9H1686M299,558.6H325M1712,558.6H1686M299,818.3H325M1712,818.3H1686M299,1078H325M1712,1078H1686M403.2,1208V1181M403.2,39V66M665.2,1208V1181M665.2,39V66M927.2,1208V1181M927.2,39V66M1189.2,1208V1181M1189.2,39V66M1451.2,1208V1181M1451.2,39V66" stroke="#0000dc" stroke-width="7" fill="none"/>
<text x="263" y="56.5" text-anchor="end" class="tl">5000</text>
<text x="263" y="316.2" text-anchor="end" class="tl">4000</text>
<text x="263" y="575.9" text-anchor="end" class="tl">3000</text>
<text x="263" y="835.6" text-anchor="end" class="tl">2000</text>
<text x="263" y="1095.3" text-anchor="end" class="tl">1000</text>
<text x="403.2" y="1290" text-anchor="middle" class="tl">5</text>
<text x="665.2" y="1290" text-anchor="middle" class="tl">10</text>
<text x="927.2" y="1290" text-anchor="middle" class="tl">15</text>
<text x="1189.2" y="1290" text-anchor="middle" class="tl">20</text>
<text x="1451.2" y="1290" text-anchor="middle" class="tl">25</text>
<text x="1713.2" y="1290" text-anchor="middle" class="tl">30</text>
<text x="73" y="848" transform="rotate(-90 73 848)" class="ax">Intensity (a.u.)</text>
<text x="884" y="1374" class="ax">2<tspan font-style="italic" font-weight="normal">θ</tspan> (deg)</text>
<line x1="753" y1="418.8" x2="888.6" y2="418.8" stroke="#ff7f7f" stroke-width="3"/>
<path d="M783,481.3H818.8M846,481.3H882" stroke="#3a3a3a" stroke-width="5"/>
<line x1="751.4" y1="544.2" x2="890.4" y2="544.2" stroke="#006a28" stroke-width="7"/>
<text x="904.5" y="440" class="lg" fill="#ff0000">PDTBDT-TIPS-DTBT-OD</text>
<text x="904.5" y="502" class="lg" fill="#000">PDTBDT-TIPS-DTFBT-OD</text>
<text x="904.5" y="564" class="lg" fill="#006000">PDTBDT-TIPS-DTNT-OD</text>
</svg>
</body></html>
